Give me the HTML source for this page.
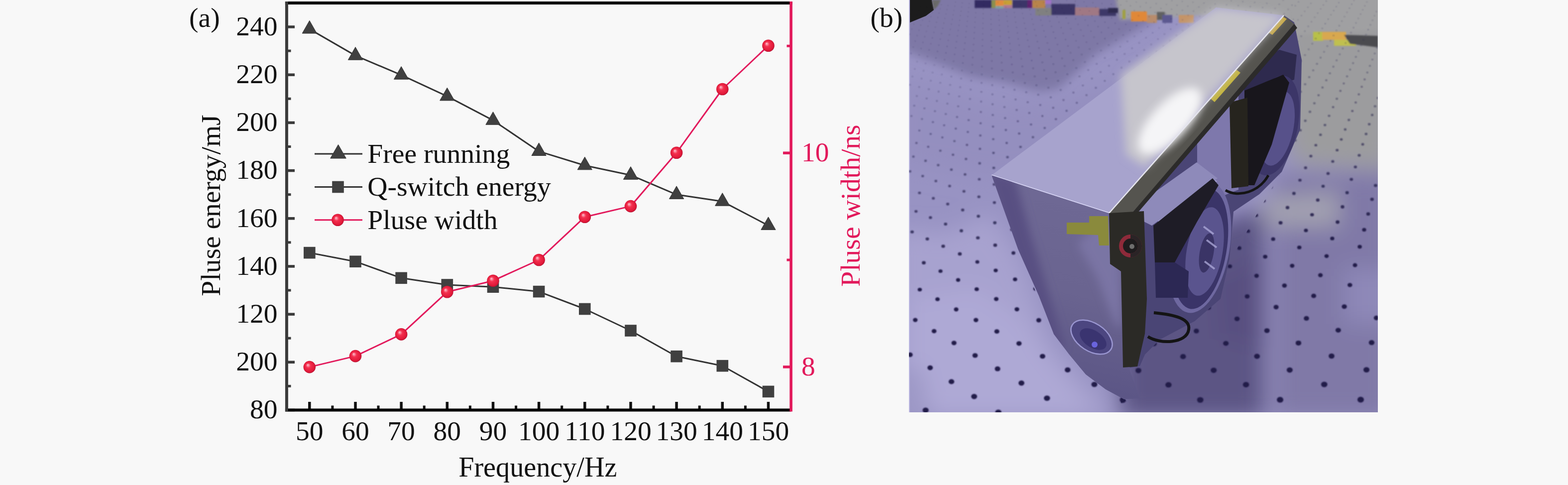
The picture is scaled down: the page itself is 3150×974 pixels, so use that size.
<!DOCTYPE html><html><head><meta charset="utf-8"><title>Figure</title><style>html,body{margin:0;padding:0;background:#f8f8f8;}body{width:3150px;height:974px;overflow:hidden;position:relative;}svg{position:absolute;left:0;top:0;}</style></head><body>
<svg width="3150" height="974" viewBox="0 0 3150 974">
<defs><radialGradient id="bg" cx="0.5" cy="0.5" r="0.55" fx="0.35" fy="0.32"><stop offset="0" stop-color="#ffc8d4"/><stop offset="0.35" stop-color="#f4304f"/><stop offset="0.8" stop-color="#e01838"/><stop offset="1" stop-color="#a01030"/></radialGradient></defs>
<rect x="0" y="0" width="3150" height="974" fill="#f8f8f8"/>
<line x1="621.8" y1="823.5" x2="621.8" y2="807" stroke="#111" stroke-width="5.5"/>
<line x1="714.0" y1="823.5" x2="714.0" y2="807" stroke="#111" stroke-width="5.5"/>
<line x1="806.1" y1="823.5" x2="806.1" y2="807" stroke="#111" stroke-width="5.5"/>
<line x1="898.3" y1="823.5" x2="898.3" y2="807" stroke="#111" stroke-width="5.5"/>
<line x1="990.5" y1="823.5" x2="990.5" y2="807" stroke="#111" stroke-width="5.5"/>
<line x1="1082.6" y1="823.5" x2="1082.6" y2="807" stroke="#111" stroke-width="5.5"/>
<line x1="1174.8" y1="823.5" x2="1174.8" y2="807" stroke="#111" stroke-width="5.5"/>
<line x1="1267.0" y1="823.5" x2="1267.0" y2="807" stroke="#111" stroke-width="5.5"/>
<line x1="1359.1" y1="823.5" x2="1359.1" y2="807" stroke="#111" stroke-width="5.5"/>
<line x1="1451.3" y1="823.5" x2="1451.3" y2="807" stroke="#111" stroke-width="5.5"/>
<line x1="1543.5" y1="823.5" x2="1543.5" y2="807" stroke="#111" stroke-width="5.5"/>
<line x1="667.9" y1="823.5" x2="667.9" y2="814.5" stroke="#111" stroke-width="5"/>
<line x1="760.0" y1="823.5" x2="760.0" y2="814.5" stroke="#111" stroke-width="5"/>
<line x1="852.2" y1="823.5" x2="852.2" y2="814.5" stroke="#111" stroke-width="5"/>
<line x1="944.4" y1="823.5" x2="944.4" y2="814.5" stroke="#111" stroke-width="5"/>
<line x1="1036.6" y1="823.5" x2="1036.6" y2="814.5" stroke="#111" stroke-width="5"/>
<line x1="1128.7" y1="823.5" x2="1128.7" y2="814.5" stroke="#111" stroke-width="5"/>
<line x1="1220.9" y1="823.5" x2="1220.9" y2="814.5" stroke="#111" stroke-width="5"/>
<line x1="1313.1" y1="823.5" x2="1313.1" y2="814.5" stroke="#111" stroke-width="5"/>
<line x1="1405.2" y1="823.5" x2="1405.2" y2="814.5" stroke="#111" stroke-width="5"/>
<line x1="1497.4" y1="823.5" x2="1497.4" y2="814.5" stroke="#111" stroke-width="5"/>
<line x1="575.9" y1="823.5" x2="592" y2="823.5" stroke="#3a3a3a" stroke-width="5.5"/>
<line x1="575.9" y1="727.3" x2="592" y2="727.3" stroke="#3a3a3a" stroke-width="5.5"/>
<line x1="575.9" y1="631.1" x2="592" y2="631.1" stroke="#3a3a3a" stroke-width="5.5"/>
<line x1="575.9" y1="534.9" x2="592" y2="534.9" stroke="#3a3a3a" stroke-width="5.5"/>
<line x1="575.9" y1="438.7" x2="592" y2="438.7" stroke="#3a3a3a" stroke-width="5.5"/>
<line x1="575.9" y1="342.6" x2="592" y2="342.6" stroke="#3a3a3a" stroke-width="5.5"/>
<line x1="575.9" y1="246.4" x2="592" y2="246.4" stroke="#3a3a3a" stroke-width="5.5"/>
<line x1="575.9" y1="150.2" x2="592" y2="150.2" stroke="#3a3a3a" stroke-width="5.5"/>
<line x1="575.9" y1="54.0" x2="592" y2="54.0" stroke="#3a3a3a" stroke-width="5.5"/>
<line x1="575.9" y1="775.4" x2="584.5" y2="775.4" stroke="#3a3a3a" stroke-width="5"/>
<line x1="575.9" y1="679.2" x2="584.5" y2="679.2" stroke="#3a3a3a" stroke-width="5"/>
<line x1="575.9" y1="583.0" x2="584.5" y2="583.0" stroke="#3a3a3a" stroke-width="5"/>
<line x1="575.9" y1="486.8" x2="584.5" y2="486.8" stroke="#3a3a3a" stroke-width="5"/>
<line x1="575.9" y1="390.7" x2="584.5" y2="390.7" stroke="#3a3a3a" stroke-width="5"/>
<line x1="575.9" y1="294.5" x2="584.5" y2="294.5" stroke="#3a3a3a" stroke-width="5"/>
<line x1="575.9" y1="198.3" x2="584.5" y2="198.3" stroke="#3a3a3a" stroke-width="5"/>
<line x1="575.9" y1="102.1" x2="584.5" y2="102.1" stroke="#3a3a3a" stroke-width="5"/>
<line x1="1589.1" y1="736.9" x2="1573" y2="736.9" stroke="#e2195b" stroke-width="5.5"/>
<line x1="1589.1" y1="307.2" x2="1573" y2="307.2" stroke="#e2195b" stroke-width="5.5"/>
<line x1="1589.1" y1="522.0" x2="1580.5" y2="522.0" stroke="#e2195b" stroke-width="5"/>
<line x1="1589.1" y1="92.3" x2="1580.5" y2="92.3" stroke="#e2195b" stroke-width="5"/>
<line x1="572.9" y1="6" x2="1592" y2="6" stroke="#000" stroke-width="6"/>
<line x1="572.9" y1="823.5" x2="1589" y2="823.5" stroke="#000" stroke-width="6"/>
<line x1="575.9" y1="3" x2="575.9" y2="826.5" stroke="#3a3a3a" stroke-width="6"/>
<line x1="1589.1" y1="3" x2="1589.1" y2="826.5" stroke="#e2195b" stroke-width="5.6"/>
<g font-family="Liberation Serif, Times New Roman, serif" font-size="55.5" fill="#111"><text x="557.6" y="840.3" text-anchor="end">80</text>
<text x="557.6" y="744.1" text-anchor="end">200</text>
<text x="557.6" y="647.9" text-anchor="end">120</text>
<text x="557.6" y="551.7" text-anchor="end">140</text>
<text x="557.6" y="455.5" text-anchor="end">160</text>
<text x="557.6" y="359.4" text-anchor="end">180</text>
<text x="557.6" y="263.2" text-anchor="end">200</text>
<text x="557.6" y="167.0" text-anchor="end">220</text>
<text x="557.6" y="70.8" text-anchor="end">240</text>
<text x="621.8" y="884" text-anchor="middle">50</text>
<text x="714.0" y="884" text-anchor="middle">60</text>
<text x="806.1" y="884" text-anchor="middle">70</text>
<text x="898.3" y="884" text-anchor="middle">80</text>
<text x="990.5" y="884" text-anchor="middle">90</text>
<text x="1082.6" y="884" text-anchor="middle">100</text>
<text x="1174.8" y="884" text-anchor="middle">110</text>
<text x="1267.0" y="884" text-anchor="middle">120</text>
<text x="1359.1" y="884" text-anchor="middle">130</text>
<text x="1451.3" y="884" text-anchor="middle">140</text>
<text x="1543.5" y="884" text-anchor="middle">150</text></g>
<g font-family="Liberation Serif, Times New Roman, serif" font-size="55.5" fill="#e2195b"><text x="1610" y="324.0">10</text><text x="1610" y="753.7">8</text></g>
<text font-family="Liberation Serif, Times New Roman, serif" font-size="56.2" fill="#111" x="1080.3" y="956.6" text-anchor="middle">Frequency/Hz</text>
<text font-family="Liberation Serif, Times New Roman, serif" font-size="55.5" fill="#111" transform="translate(441.5,412.5) rotate(-90)" text-anchor="middle">Pluse energy/mJ</text>
<text font-family="Liberation Serif, Times New Roman, serif" font-size="55.5" fill="#e2195b" transform="translate(1726.5,413) rotate(-90)" text-anchor="middle">Pluse width/ns</text>
<text font-family="Liberation Serif, Times New Roman, serif" font-size="55.5" fill="#111" x="380.1" y="53.6">(a)</text>
<text font-family="Liberation Serif, Times New Roman, serif" font-size="55.5" fill="#111" x="1748.5" y="53.5">(b)</text>
<polyline points="621.8,58.4 714.0,111.6 806.1,150.6 898.3,193.3 990.5,241.7 1082.6,303.9 1174.8,332.2 1267.0,351.7 1359.1,390.8 1451.3,404.6 1543.5,452.8" fill="none" stroke="#333" stroke-width="3" stroke-linejoin="round"/>
<polygon points="621.8,41.4 636.4,67.0 607.2,67.0" fill="#404040" stroke="#333" stroke-width="1"/><polygon points="714.0,94.6 728.6,120.2 699.4,120.2" fill="#404040" stroke="#333" stroke-width="1"/><polygon points="806.1,133.6 820.7,159.2 791.5,159.2" fill="#404040" stroke="#333" stroke-width="1"/><polygon points="898.3,176.3 912.9,201.9 883.7,201.9" fill="#404040" stroke="#333" stroke-width="1"/><polygon points="990.5,224.7 1005.1,250.3 975.9,250.3" fill="#404040" stroke="#333" stroke-width="1"/><polygon points="1082.6,286.9 1097.2,312.5 1068.0,312.5" fill="#404040" stroke="#333" stroke-width="1"/><polygon points="1174.8,315.2 1189.4,340.8 1160.2,340.8" fill="#404040" stroke="#333" stroke-width="1"/><polygon points="1267.0,334.7 1281.6,360.3 1252.4,360.3" fill="#404040" stroke="#333" stroke-width="1"/><polygon points="1359.1,373.8 1373.7,399.4 1344.5,399.4" fill="#404040" stroke="#333" stroke-width="1"/><polygon points="1451.3,387.6 1465.9,413.2 1436.7,413.2" fill="#404040" stroke="#333" stroke-width="1"/><polygon points="1543.5,435.8 1558.1,461.4 1528.9,461.4" fill="#404040" stroke="#333" stroke-width="1"/>
<polyline points="621.8,507.6 714.0,525.2 806.1,558.3 898.3,572.0 990.5,576.2 1082.6,585.6 1174.8,620.5 1267.0,664.0 1359.1,715.7 1451.3,734.7 1543.5,786.4" fill="none" stroke="#333" stroke-width="3" stroke-linejoin="round"/>
<rect x="610.0" y="495.8" width="23.6" height="23.6" fill="#404040"/><rect x="702.2" y="513.4" width="23.6" height="23.6" fill="#404040"/><rect x="794.3" y="546.5" width="23.6" height="23.6" fill="#404040"/><rect x="886.5" y="560.2" width="23.6" height="23.6" fill="#404040"/><rect x="978.7" y="564.4" width="23.6" height="23.6" fill="#404040"/><rect x="1070.8" y="573.8" width="23.6" height="23.6" fill="#404040"/><rect x="1163.0" y="608.7" width="23.6" height="23.6" fill="#404040"/><rect x="1255.2" y="652.2" width="23.6" height="23.6" fill="#404040"/><rect x="1347.3" y="703.9" width="23.6" height="23.6" fill="#404040"/><rect x="1439.5" y="722.9" width="23.6" height="23.6" fill="#404040"/><rect x="1531.7" y="774.6" width="23.6" height="23.6" fill="#404040"/>
<polyline points="621.8,737.1 714.0,715.1 806.1,671.4 898.3,586.3 990.5,563.7 1082.6,522.0 1174.8,435.7 1267.0,414.1 1359.1,306.8 1451.3,179.0 1543.5,91.7" fill="none" stroke="#e2195b" stroke-width="3" stroke-linejoin="round"/>
<circle cx="621.8" cy="737.1" r="12.3" fill="url(#bg)"/><circle cx="714.0" cy="715.1" r="12.3" fill="url(#bg)"/><circle cx="806.1" cy="671.4" r="12.3" fill="url(#bg)"/><circle cx="898.3" cy="586.3" r="12.3" fill="url(#bg)"/><circle cx="990.5" cy="563.7" r="12.3" fill="url(#bg)"/><circle cx="1082.6" cy="522.0" r="12.3" fill="url(#bg)"/><circle cx="1174.8" cy="435.7" r="12.3" fill="url(#bg)"/><circle cx="1267.0" cy="414.1" r="12.3" fill="url(#bg)"/><circle cx="1359.1" cy="306.8" r="12.3" fill="url(#bg)"/><circle cx="1451.3" cy="179.0" r="12.3" fill="url(#bg)"/><circle cx="1543.5" cy="91.7" r="12.3" fill="url(#bg)"/>
<line x1="632" y1="309" x2="728" y2="309" stroke="#333" stroke-width="3"/>
<polygon points="679.5,290.5 695.3,318.0 663.7,318.0" fill="#404040" stroke="#333" stroke-width="1"/>
<text font-family="Liberation Serif, Times New Roman, serif" font-size="55.7" fill="#111" x="738.2" y="326.5">Free running</text>
<line x1="632" y1="375.5" x2="728" y2="375.5" stroke="#333" stroke-width="3"/>
<rect x="667.2" y="363.7" width="23.6" height="23.6" fill="#404040"/>
<text font-family="Liberation Serif, Times New Roman, serif" font-size="55.7" fill="#111" x="738.2" y="393">Q-switch energy</text>
<line x1="632" y1="441.8" x2="728" y2="441.8" stroke="#e2195b" stroke-width="3"/>
<circle cx="678.5" cy="441.8" r="12.3" fill="url(#bg)"/>
<text font-family="Liberation Serif, Times New Roman, serif" font-size="55.7" fill="#111" x="738.2" y="459.5">Pluse width</text>
<defs>
<clipPath id="pc"><rect x="1826" y="0" width="942" height="828"/></clipPath>
<filter id="bl25" x="-20%" y="-20%" width="140%" height="140%"><feGaussianBlur stdDeviation="22"/></filter>
<filter id="bl10" x="-20%" y="-20%" width="140%" height="140%"><feGaussianBlur stdDeviation="9"/></filter>
<filter id="bl4" x="-20%" y="-20%" width="140%" height="140%"><feGaussianBlur stdDeviation="3.5"/></filter>
<filter id="hb" x="-50%" y="-50%" width="200%" height="200%"><feGaussianBlur stdDeviation="1.1"/></filter><filter id="bl2" x="-20%" y="-20%" width="140%" height="140%"><feGaussianBlur stdDeviation="1.6"/></filter>
<linearGradient id="lidg" gradientUnits="userSpaceOnUse" x1="2180" y1="170" x2="2303" y2="333"><stop offset="0" stop-color="#a9a5d0"/><stop offset="0.35" stop-color="#aaa7cc"/><stop offset="0.5" stop-color="#c4c3cc"/><stop offset="0.75" stop-color="#d2d2d4"/><stop offset="1" stop-color="#bdbdc2"/></linearGradient>
<linearGradient id="frontg" gradientUnits="userSpaceOnUse" x1="2200" y1="420" x2="2120" y2="760"><stop offset="0" stop-color="#6e6894"/><stop offset="0.5" stop-color="#6a6490"/><stop offset="1" stop-color="#5c5686"/></linearGradient>
<radialGradient id="fanring" cx="0.5" cy="0.5" r="0.5"><stop offset="0.55" stop-color="#6a64a0"/><stop offset="0.8" stop-color="#3b3568"/><stop offset="1" stop-color="#2b2650"/></radialGradient>
</defs>
<g clip-path="url(#pc)">
<rect x="1826" y="0" width="942" height="828" fill="#9893c3"/>
<g filter="url(#bl10)">
<polygon points="1800,-20 2320,-20 2320,40 2200,110 2126,180 2090,186 2014,164 1951,154 1889,129 1800,95" fill="#7e78a6"/>
</g>
<g filter="url(#bl25)">
<polygon points="1800,160 1890,175 1990,210 2120,200 2240,170 2300,150 2320,330 2000,360 1800,330" fill="#948fbf"/>
<polygon points="1800,460 1900,470 1990,430 2050,520 2110,690 2240,840 1800,840" fill="#a7a2cf"/>
<polygon points="1826,600 1960,580 2050,640 2120,740 2200,840 1826,840" fill="#aea9d5"/>
<polygon points="1800,740 1850,740 1870,840 1800,840" fill="#9d98c6"/>
<polygon points="2580,-20 2800,-20 2800,340 2600,330 2570,200" fill="#9c9c9e"/>
<polygon points="2560,350 2800,345 2800,840 2560,840" fill="#8079a7"/>
<polygon points="2540,395 2690,385 2690,455 2540,455" fill="#a2a0b0"/>
<polygon points="2700,540 2800,540 2800,650 2700,650" fill="#8e88b8"/>
<polygon points="2250,520 2470,440 2540,420 2540,840 2250,840" fill="#5c5484"/>
<polygon points="2440,560 2540,520 2540,700 2450,680" fill="#585080"/>
</g>
<polygon points="2240,-10 2780,-10 2780,60 2600,70 2450,30 2250,40" fill="#a0a0a2" filter="url(#bl4)"/>
<g filter="url(#bl2)">
<rect x="1958" y="0" width="34" height="16" fill="#312c62"/>
<rect x="1992" y="0" width="8" height="16" fill="#8a9050"/>
<rect x="2000" y="0" width="16" height="12" fill="#e08a3c"/>
<rect x="2000" y="12" width="16" height="5" fill="#80a0a0"/>
<rect x="2016" y="0" width="17" height="12" fill="#c8a034"/>
<rect x="2016" y="10" width="17" height="6" fill="#b07890"/>
<rect x="2034" y="0" width="30" height="16" fill="#3a3668"/>
<rect x="2064" y="0" width="10" height="16" fill="#602070"/>
<rect x="2074" y="0" width="26" height="16" fill="#b8844c"/>
<rect x="2100" y="0" width="12" height="8" fill="#a070c8"/>
<rect x="2080" y="16" width="32" height="15" fill="#808080"/>
<rect x="2112" y="8" width="48" height="22" fill="#3a3466"/>
<rect x="2160" y="15" width="48" height="16" fill="#a07884"/>
<rect x="2208" y="18" width="34" height="14" fill="#3c3868"/>
<rect x="2226" y="16" width="20" height="10" fill="#2e2a50"/>
<rect x="2255" y="20" width="6" height="18" fill="#a0a040"/>
<rect x="2272" y="23" width="32" height="20" fill="#e08838"/>
<rect x="2304" y="30" width="20" height="16" fill="#b88c6c"/>
<rect x="2324" y="24" width="16" height="16" fill="#606060"/>
<rect x="2335" y="30" width="20" height="16" fill="#5c5890"/>
<rect x="2368" y="30" width="30" height="16" fill="#c49468"/>
<rect x="2638" y="64" width="20" height="18" fill="#b8c048"/>
<rect x="2656" y="64" width="48" height="16" fill="#d8a850"/>
<rect x="2680" y="80" width="44" height="12" fill="#c0c050"/>
<polygon points="2700,70 2768,72 2768,95 2712,88" fill="#4c4c50"/>
</g>
<polygon points="1826,0 1872,0 1876,20 1860,32 1826,46" fill="#1c1c1c"/>
<polygon points="1872,0 1890,0 1884,12 1876,20" fill="#6a6a6a" filter="url(#bl2)"/>
<rect x="1826" y="0" width="2" height="828" fill="#b8b4e0"/><clipPath id="hcl"><polygon points="1826,0 2600,0 2600,40 2443,15 1992,352 2045,500 2120,680 2290,828 1826,828"/></clipPath>
<clipPath id="hcr"><polygon points="2600,0 2768,0 2768,828 2250,828 2262,700 2450,560 2600,300 2600,40"/></clipPath>
<g clip-path="url(#hcl)" filter="url(#hb)"><ellipse cx="1833.3" cy="19.9" rx="1.0" ry="0.9" fill="#231e4a" fill-opacity="0.18"/><ellipse cx="1829.7" cy="28.4" rx="1.0" ry="0.9" fill="#231e4a" fill-opacity="0.18"/><ellipse cx="1849.4" cy="13.2" rx="1.0" ry="0.8" fill="#231e4a" fill-opacity="0.18"/><ellipse cx="1846.2" cy="21.4" rx="1.0" ry="0.9" fill="#231e4a" fill-opacity="0.18"/><ellipse cx="1842.9" cy="30.0" rx="1.0" ry="0.9" fill="#231e4a" fill-opacity="0.18"/><ellipse cx="1839.4" cy="39.1" rx="1.1" ry="0.9" fill="#231e4a" fill-opacity="0.18"/><ellipse cx="1835.8" cy="48.6" rx="1.1" ry="1.0" fill="#231e4a" fill-opacity="0.18"/><ellipse cx="1831.9" cy="58.5" rx="1.1" ry="1.0" fill="#231e4a" fill-opacity="0.18"/><ellipse cx="1827.9" cy="69.1" rx="1.2" ry="1.0" fill="#231e4a" fill-opacity="0.18"/><ellipse cx="1862.2" cy="14.7" rx="1.0" ry="0.8" fill="#231e4a" fill-opacity="0.18"/><ellipse cx="1859.4" cy="23.0" rx="1.0" ry="0.9" fill="#231e4a" fill-opacity="0.18"/><ellipse cx="1856.3" cy="31.7" rx="1.0" ry="0.9" fill="#231e4a" fill-opacity="0.18"/><ellipse cx="1853.2" cy="40.9" rx="1.1" ry="0.9" fill="#231e4a" fill-opacity="0.18"/><ellipse cx="1849.8" cy="50.5" rx="1.1" ry="1.0" fill="#231e4a" fill-opacity="0.18"/><ellipse cx="1846.3" cy="60.7" rx="1.2" ry="1.0" fill="#231e4a" fill-opacity="0.18"/><ellipse cx="1842.6" cy="71.4" rx="1.2" ry="1.1" fill="#231e4a" fill-opacity="0.18"/><ellipse cx="1838.7" cy="82.7" rx="1.3" ry="1.1" fill="#231e4a" fill-opacity="0.18"/><ellipse cx="1834.6" cy="94.6" rx="1.3" ry="1.2" fill="#231e4a" fill-opacity="0.18"/><ellipse cx="1830.2" cy="107.2" rx="1.4" ry="1.2" fill="#231e4a" fill-opacity="0.18"/><ellipse cx="1877.9" cy="8.1" rx="1.0" ry="0.8" fill="#231e4a" fill-opacity="0.18"/><ellipse cx="1875.4" cy="16.2" rx="1.0" ry="0.9" fill="#231e4a" fill-opacity="0.18"/><ellipse cx="1872.8" cy="24.6" rx="1.0" ry="0.9" fill="#231e4a" fill-opacity="0.18"/><ellipse cx="1870.1" cy="33.5" rx="1.1" ry="0.9" fill="#231e4a" fill-opacity="0.18"/><ellipse cx="1867.2" cy="42.8" rx="1.1" ry="1.0" fill="#231e4a" fill-opacity="0.18"/><ellipse cx="1864.2" cy="52.6" rx="1.1" ry="1.0" fill="#231e4a" fill-opacity="0.18"/><ellipse cx="1861.0" cy="62.9" rx="1.2" ry="1.0" fill="#231e4a" fill-opacity="0.18"/><ellipse cx="1857.7" cy="73.7" rx="1.2" ry="1.1" fill="#231e4a" fill-opacity="0.18"/><ellipse cx="1854.1" cy="85.2" rx="1.3" ry="1.1" fill="#231e4a" fill-opacity="0.18"/><ellipse cx="1850.4" cy="97.4" rx="1.3" ry="1.2" fill="#231e4a" fill-opacity="0.18"/><ellipse cx="1846.4" cy="110.2" rx="1.4" ry="1.2" fill="#231e4a" fill-opacity="0.18"/><ellipse cx="1842.3" cy="123.9" rx="1.5" ry="1.3" fill="#231e4a" fill-opacity="0.19"/><ellipse cx="1837.8" cy="138.4" rx="1.5" ry="1.3" fill="#231e4a" fill-opacity="0.21"/><ellipse cx="1833.0" cy="153.8" rx="1.6" ry="1.4" fill="#231e4a" fill-opacity="0.23"/><ellipse cx="1828.0" cy="170.3" rx="1.7" ry="1.5" fill="#231e4a" fill-opacity="0.25"/><ellipse cx="1891.0" cy="9.5" rx="1.0" ry="0.8" fill="#231e4a" fill-opacity="0.18"/><ellipse cx="1888.8" cy="17.7" rx="1.0" ry="0.9" fill="#231e4a" fill-opacity="0.18"/><ellipse cx="1886.5" cy="26.2" rx="1.0" ry="0.9" fill="#231e4a" fill-opacity="0.18"/><ellipse cx="1884.1" cy="35.2" rx="1.1" ry="0.9" fill="#231e4a" fill-opacity="0.18"/><ellipse cx="1881.5" cy="44.7" rx="1.1" ry="1.0" fill="#231e4a" fill-opacity="0.18"/><ellipse cx="1878.9" cy="54.6" rx="1.2" ry="1.0" fill="#231e4a" fill-opacity="0.18"/><ellipse cx="1876.1" cy="65.1" rx="1.2" ry="1.1" fill="#231e4a" fill-opacity="0.18"/><ellipse cx="1873.1" cy="76.2" rx="1.3" ry="1.1" fill="#231e4a" fill-opacity="0.18"/><ellipse cx="1870.0" cy="87.9" rx="1.3" ry="1.1" fill="#231e4a" fill-opacity="0.18"/><ellipse cx="1866.6" cy="100.2" rx="1.4" ry="1.2" fill="#231e4a" fill-opacity="0.18"/><ellipse cx="1863.1" cy="113.3" rx="1.4" ry="1.3" fill="#231e4a" fill-opacity="0.18"/><ellipse cx="1859.4" cy="127.3" rx="1.5" ry="1.3" fill="#231e4a" fill-opacity="0.20"/><ellipse cx="1855.4" cy="142.1" rx="1.6" ry="1.4" fill="#231e4a" fill-opacity="0.22"/><ellipse cx="1851.2" cy="157.9" rx="1.6" ry="1.4" fill="#231e4a" fill-opacity="0.24"/><ellipse cx="1846.6" cy="174.7" rx="1.7" ry="1.5" fill="#231e4a" fill-opacity="0.27"/><ellipse cx="1841.8" cy="192.8" rx="1.8" ry="1.6" fill="#231e4a" fill-opacity="0.29"/><ellipse cx="1836.6" cy="212.2" rx="1.9" ry="1.7" fill="#231e4a" fill-opacity="0.32"/><ellipse cx="1831.0" cy="233.0" rx="2.0" ry="1.8" fill="#231e4a" fill-opacity="0.36"/><ellipse cx="1904.4" cy="10.9" rx="1.0" ry="0.9" fill="#231e4a" fill-opacity="0.18"/><ellipse cx="1902.5" cy="19.2" rx="1.0" ry="0.9" fill="#231e4a" fill-opacity="0.18"/><ellipse cx="1900.5" cy="27.9" rx="1.1" ry="0.9" fill="#231e4a" fill-opacity="0.18"/><ellipse cx="1898.4" cy="37.0" rx="1.1" ry="1.0" fill="#231e4a" fill-opacity="0.18"/><ellipse cx="1896.2" cy="46.6" rx="1.1" ry="1.0" fill="#231e4a" fill-opacity="0.18"/><ellipse cx="1893.9" cy="56.7" rx="1.2" ry="1.0" fill="#231e4a" fill-opacity="0.18"/><ellipse cx="1891.4" cy="67.4" rx="1.2" ry="1.1" fill="#231e4a" fill-opacity="0.18"/><ellipse cx="1888.9" cy="78.7" rx="1.3" ry="1.1" fill="#231e4a" fill-opacity="0.18"/><ellipse cx="1886.1" cy="90.6" rx="1.3" ry="1.2" fill="#231e4a" fill-opacity="0.18"/><ellipse cx="1883.3" cy="103.2" rx="1.4" ry="1.2" fill="#231e4a" fill-opacity="0.18"/><ellipse cx="1880.2" cy="116.5" rx="1.5" ry="1.3" fill="#231e4a" fill-opacity="0.18"/><ellipse cx="1877.0" cy="130.7" rx="1.5" ry="1.3" fill="#231e4a" fill-opacity="0.20"/><ellipse cx="1873.5" cy="145.8" rx="1.6" ry="1.4" fill="#231e4a" fill-opacity="0.23"/><ellipse cx="1869.8" cy="162.0" rx="1.7" ry="1.5" fill="#231e4a" fill-opacity="0.25"/><ellipse cx="1865.9" cy="179.2" rx="1.8" ry="1.6" fill="#231e4a" fill-opacity="0.28"/><ellipse cx="1861.6" cy="197.7" rx="1.9" ry="1.6" fill="#231e4a" fill-opacity="0.31"/><ellipse cx="1857.1" cy="217.6" rx="2.0" ry="1.7" fill="#231e4a" fill-opacity="0.34"/><ellipse cx="1852.2" cy="239.0" rx="2.1" ry="1.8" fill="#231e4a" fill-opacity="0.37"/><ellipse cx="1846.9" cy="262.1" rx="2.2" ry="1.9" fill="#231e4a" fill-opacity="0.41"/><ellipse cx="1841.1" cy="287.2" rx="2.4" ry="2.1" fill="#231e4a" fill-opacity="0.45"/><ellipse cx="1834.9" cy="314.5" rx="2.5" ry="2.2" fill="#231e4a" fill-opacity="0.50"/><ellipse cx="1828.1" cy="344.2" rx="2.7" ry="2.4" fill="#231e4a" fill-opacity="0.55"/><ellipse cx="1919.5" cy="4.3" rx="1.0" ry="0.8" fill="#231e4a" fill-opacity="0.18"/><ellipse cx="1918.0" cy="12.4" rx="1.0" ry="0.9" fill="#231e4a" fill-opacity="0.18"/><ellipse cx="1916.4" cy="20.8" rx="1.0" ry="0.9" fill="#231e4a" fill-opacity="0.18"/><ellipse cx="1914.8" cy="29.6" rx="1.1" ry="0.9" fill="#231e4a" fill-opacity="0.18"/><ellipse cx="1913.0" cy="38.9" rx="1.1" ry="1.0" fill="#231e4a" fill-opacity="0.18"/><ellipse cx="1911.2" cy="48.6" rx="1.2" ry="1.0" fill="#231e4a" fill-opacity="0.18"/><ellipse cx="1909.2" cy="58.9" rx="1.2" ry="1.0" fill="#231e4a" fill-opacity="0.18"/><ellipse cx="1907.2" cy="69.8" rx="1.2" ry="1.1" fill="#231e4a" fill-opacity="0.18"/><ellipse cx="1905.0" cy="81.2" rx="1.3" ry="1.1" fill="#231e4a" fill-opacity="0.18"/><ellipse cx="1902.7" cy="93.3" rx="1.4" ry="1.2" fill="#231e4a" fill-opacity="0.18"/><ellipse cx="1900.3" cy="106.2" rx="1.4" ry="1.2" fill="#231e4a" fill-opacity="0.18"/><ellipse cx="1897.7" cy="119.8" rx="1.5" ry="1.3" fill="#231e4a" fill-opacity="0.19"/><ellipse cx="1895.0" cy="134.3" rx="1.6" ry="1.4" fill="#231e4a" fill-opacity="0.21"/><ellipse cx="1892.1" cy="149.7" rx="1.6" ry="1.4" fill="#231e4a" fill-opacity="0.24"/><ellipse cx="1889.0" cy="166.2" rx="1.7" ry="1.5" fill="#231e4a" fill-opacity="0.26"/><ellipse cx="1885.6" cy="183.9" rx="1.8" ry="1.6" fill="#231e4a" fill-opacity="0.29"/><ellipse cx="1882.1" cy="202.8" rx="1.9" ry="1.7" fill="#231e4a" fill-opacity="0.32"/><ellipse cx="1878.2" cy="223.2" rx="2.0" ry="1.8" fill="#231e4a" fill-opacity="0.35"/><ellipse cx="1874.1" cy="245.2" rx="2.1" ry="1.9" fill="#231e4a" fill-opacity="0.39"/><ellipse cx="1869.6" cy="269.0" rx="2.3" ry="2.0" fill="#231e4a" fill-opacity="0.43"/><ellipse cx="1864.7" cy="294.8" rx="2.4" ry="2.1" fill="#231e4a" fill-opacity="0.47"/><ellipse cx="1859.4" cy="322.9" rx="2.6" ry="2.3" fill="#231e4a" fill-opacity="0.52"/><ellipse cx="1853.6" cy="353.6" rx="2.8" ry="2.4" fill="#231e4a" fill-opacity="0.57"/><ellipse cx="1847.2" cy="387.3" rx="3.0" ry="2.6" fill="#231e4a" fill-opacity="0.63"/><ellipse cx="1840.2" cy="424.5" rx="3.2" ry="2.8" fill="#231e4a" fill-opacity="0.70"/><ellipse cx="1832.4" cy="465.8" rx="3.5" ry="3.0" fill="#231e4a" fill-opacity="0.78"/><ellipse cx="1933.1" cy="5.7" rx="1.0" ry="0.9" fill="#231e4a" fill-opacity="0.18"/><ellipse cx="1931.9" cy="13.9" rx="1.0" ry="0.9" fill="#231e4a" fill-opacity="0.18"/><ellipse cx="1930.7" cy="22.4" rx="1.0" ry="0.9" fill="#231e4a" fill-opacity="0.18"/><ellipse cx="1929.3" cy="31.3" rx="1.1" ry="0.9" fill="#231e4a" fill-opacity="0.18"/><ellipse cx="1927.9" cy="40.8" rx="1.1" ry="1.0" fill="#231e4a" fill-opacity="0.18"/><ellipse cx="1926.5" cy="50.7" rx="1.2" ry="1.0" fill="#231e4a" fill-opacity="0.18"/><ellipse cx="1924.9" cy="61.1" rx="1.2" ry="1.1" fill="#231e4a" fill-opacity="0.18"/><ellipse cx="1923.3" cy="72.1" rx="1.3" ry="1.1" fill="#231e4a" fill-opacity="0.18"/><ellipse cx="1921.6" cy="83.8" rx="1.3" ry="1.2" fill="#231e4a" fill-opacity="0.18"/><ellipse cx="1919.7" cy="96.1" rx="1.4" ry="1.2" fill="#231e4a" fill-opacity="0.18"/><ellipse cx="1917.8" cy="109.2" rx="1.4" ry="1.3" fill="#231e4a" fill-opacity="0.18"/><ellipse cx="1915.7" cy="123.1" rx="1.5" ry="1.3" fill="#231e4a" fill-opacity="0.20"/><ellipse cx="1913.5" cy="137.9" rx="1.6" ry="1.4" fill="#231e4a" fill-opacity="0.22"/><ellipse cx="1911.2" cy="153.7" rx="1.7" ry="1.5" fill="#231e4a" fill-opacity="0.25"/><ellipse cx="1908.7" cy="170.6" rx="1.8" ry="1.5" fill="#231e4a" fill-opacity="0.27"/><ellipse cx="1906.0" cy="188.7" rx="1.9" ry="1.6" fill="#231e4a" fill-opacity="0.30"/><ellipse cx="1903.1" cy="208.1" rx="2.0" ry="1.7" fill="#231e4a" fill-opacity="0.33"/><ellipse cx="1900.0" cy="229.0" rx="2.1" ry="1.8" fill="#231e4a" fill-opacity="0.37"/><ellipse cx="1896.7" cy="251.6" rx="2.2" ry="1.9" fill="#231e4a" fill-opacity="0.40"/><ellipse cx="1893.1" cy="276.1" rx="2.3" ry="2.0" fill="#231e4a" fill-opacity="0.44"/><ellipse cx="1889.1" cy="302.6" rx="2.5" ry="2.2" fill="#231e4a" fill-opacity="0.49"/><ellipse cx="1884.8" cy="331.6" rx="2.7" ry="2.3" fill="#231e4a" fill-opacity="0.54"/><ellipse cx="1880.1" cy="363.4" rx="2.8" ry="2.5" fill="#231e4a" fill-opacity="0.60"/><ellipse cx="1875.0" cy="398.3" rx="3.1" ry="2.7" fill="#231e4a" fill-opacity="0.66"/><ellipse cx="1869.2" cy="436.9" rx="3.3" ry="2.9" fill="#231e4a" fill-opacity="0.73"/><ellipse cx="1862.9" cy="479.8" rx="3.6" ry="3.1" fill="#231e4a" fill-opacity="0.82"/><ellipse cx="1855.8" cy="527.7" rx="3.9" ry="3.4" fill="#231e4a" fill-opacity="0.91"/><ellipse cx="1847.8" cy="581.6" rx="4.3" ry="3.7" fill="#231e4a" fill-opacity="1.00"/><ellipse cx="1838.7" cy="642.6" rx="4.7" ry="4.1" fill="#231e4a" fill-opacity="1.00"/><ellipse cx="1828.4" cy="712.4" rx="5.2" ry="4.6" fill="#231e4a" fill-opacity="1.00"/><ellipse cx="1947.0" cy="7.1" rx="1.0" ry="0.9" fill="#231e4a" fill-opacity="0.18"/><ellipse cx="1946.1" cy="15.4" rx="1.0" ry="0.9" fill="#231e4a" fill-opacity="0.18"/><ellipse cx="1945.2" cy="24.0" rx="1.1" ry="0.9" fill="#231e4a" fill-opacity="0.18"/><ellipse cx="1944.2" cy="33.1" rx="1.1" ry="1.0" fill="#231e4a" fill-opacity="0.18"/><ellipse cx="1943.2" cy="42.7" rx="1.1" ry="1.0" fill="#231e4a" fill-opacity="0.18"/><ellipse cx="1942.1" cy="52.8" rx="1.2" ry="1.0" fill="#231e4a" fill-opacity="0.18"/><ellipse cx="1941.0" cy="63.4" rx="1.2" ry="1.1" fill="#231e4a" fill-opacity="0.18"/><ellipse cx="1939.8" cy="74.6" rx="1.3" ry="1.1" fill="#231e4a" fill-opacity="0.18"/><ellipse cx="1938.5" cy="86.5" rx="1.3" ry="1.2" fill="#231e4a" fill-opacity="0.18"/><ellipse cx="1937.2" cy="99.0" rx="1.4" ry="1.2" fill="#231e4a" fill-opacity="0.18"/><ellipse cx="1935.7" cy="112.4" rx="1.5" ry="1.3" fill="#231e4a" fill-opacity="0.19"/><ellipse cx="1934.2" cy="126.6" rx="1.5" ry="1.4" fill="#231e4a" fill-opacity="0.21"/><ellipse cx="1932.6" cy="141.7" rx="1.6" ry="1.4" fill="#231e4a" fill-opacity="0.23"/><ellipse cx="1930.9" cy="157.8" rx="1.7" ry="1.5" fill="#231e4a" fill-opacity="0.26"/><ellipse cx="1929.0" cy="175.1" rx="1.8" ry="1.6" fill="#231e4a" fill-opacity="0.28"/><ellipse cx="1927.0" cy="193.6" rx="1.9" ry="1.7" fill="#231e4a" fill-opacity="0.31"/><ellipse cx="1924.9" cy="213.5" rx="2.0" ry="1.8" fill="#231e4a" fill-opacity="0.35"/><ellipse cx="1922.6" cy="235.0" rx="2.1" ry="1.9" fill="#231e4a" fill-opacity="0.38"/><ellipse cx="1920.1" cy="258.2" rx="2.2" ry="2.0" fill="#231e4a" fill-opacity="0.42"/><ellipse cx="1917.4" cy="283.4" rx="2.4" ry="2.1" fill="#231e4a" fill-opacity="0.46"/><ellipse cx="1914.5" cy="310.8" rx="2.6" ry="2.2" fill="#231e4a" fill-opacity="0.51"/><ellipse cx="1911.3" cy="340.7" rx="2.7" ry="2.4" fill="#231e4a" fill-opacity="0.56"/><ellipse cx="1907.7" cy="373.6" rx="2.9" ry="2.6" fill="#231e4a" fill-opacity="0.62"/><ellipse cx="1903.9" cy="409.8" rx="3.2" ry="2.8" fill="#231e4a" fill-opacity="0.69"/><ellipse cx="1899.6" cy="449.9" rx="3.4" ry="3.0" fill="#231e4a" fill-opacity="0.77"/><ellipse cx="1894.8" cy="494.5" rx="3.7" ry="3.3" fill="#231e4a" fill-opacity="0.86"/><ellipse cx="1889.4" cy="544.5" rx="4.1" ry="3.6" fill="#231e4a" fill-opacity="0.96"/><ellipse cx="1883.4" cy="600.9" rx="4.5" ry="3.9" fill="#231e4a" fill-opacity="1.00"/><ellipse cx="1876.5" cy="665.0" rx="4.9" ry="4.3" fill="#231e4a" fill-opacity="1.00"/><ellipse cx="1868.6" cy="738.6" rx="5.5" ry="4.8" fill="#231e4a" fill-opacity="1.00"/><ellipse cx="1859.5" cy="823.8" rx="6.1" ry="5.4" fill="#231e4a" fill-opacity="1.00"/><ellipse cx="1961.7" cy="0.6" rx="1.0" ry="0.8" fill="#231e4a" fill-opacity="0.18"/><ellipse cx="1961.2" cy="8.5" rx="1.0" ry="0.9" fill="#231e4a" fill-opacity="0.18"/><ellipse cx="1960.6" cy="16.9" rx="1.0" ry="0.9" fill="#231e4a" fill-opacity="0.18"/><ellipse cx="1960.0" cy="25.7" rx="1.1" ry="0.9" fill="#231e4a" fill-opacity="0.18"/><ellipse cx="1959.4" cy="34.9" rx="1.1" ry="1.0" fill="#231e4a" fill-opacity="0.18"/><ellipse cx="1958.8" cy="44.6" rx="1.2" ry="1.0" fill="#231e4a" fill-opacity="0.18"/><ellipse cx="1958.1" cy="54.9" rx="1.2" ry="1.1" fill="#231e4a" fill-opacity="0.18"/><ellipse cx="1957.4" cy="65.7" rx="1.3" ry="1.1" fill="#231e4a" fill-opacity="0.18"/><ellipse cx="1956.7" cy="77.1" rx="1.3" ry="1.2" fill="#231e4a" fill-opacity="0.18"/><ellipse cx="1955.9" cy="89.2" rx="1.4" ry="1.2" fill="#231e4a" fill-opacity="0.18"/><ellipse cx="1955.0" cy="102.0" rx="1.4" ry="1.3" fill="#231e4a" fill-opacity="0.18"/><ellipse cx="1954.1" cy="115.6" rx="1.5" ry="1.3" fill="#231e4a" fill-opacity="0.20"/><ellipse cx="1953.2" cy="130.1" rx="1.6" ry="1.4" fill="#231e4a" fill-opacity="0.22"/><ellipse cx="1952.2" cy="145.6" rx="1.7" ry="1.5" fill="#231e4a" fill-opacity="0.24"/><ellipse cx="1951.1" cy="162.1" rx="1.7" ry="1.5" fill="#231e4a" fill-opacity="0.27"/><ellipse cx="1949.9" cy="179.8" rx="1.8" ry="1.6" fill="#231e4a" fill-opacity="0.30"/><ellipse cx="1948.7" cy="198.7" rx="1.9" ry="1.7" fill="#231e4a" fill-opacity="0.33"/><ellipse cx="1947.3" cy="219.2" rx="2.0" ry="1.8" fill="#231e4a" fill-opacity="0.36"/><ellipse cx="1945.9" cy="241.2" rx="2.2" ry="1.9" fill="#231e4a" fill-opacity="0.40"/><ellipse cx="1944.3" cy="265.1" rx="2.3" ry="2.0" fill="#231e4a" fill-opacity="0.44"/><ellipse cx="1942.6" cy="291.0" rx="2.5" ry="2.2" fill="#231e4a" fill-opacity="0.48"/><ellipse cx="1940.7" cy="319.3" rx="2.6" ry="2.3" fill="#231e4a" fill-opacity="0.53"/><ellipse cx="1938.7" cy="350.2" rx="2.8" ry="2.5" fill="#231e4a" fill-opacity="0.59"/><ellipse cx="1936.5" cy="384.2" rx="3.0" ry="2.7" fill="#231e4a" fill-opacity="0.65"/><ellipse cx="1934.0" cy="421.7" rx="3.3" ry="2.9" fill="#231e4a" fill-opacity="0.72"/><ellipse cx="1931.3" cy="463.4" rx="3.5" ry="3.1" fill="#231e4a" fill-opacity="0.80"/><ellipse cx="1928.2" cy="509.9" rx="3.9" ry="3.4" fill="#231e4a" fill-opacity="0.90"/><ellipse cx="1924.8" cy="562.2" rx="4.2" ry="3.7" fill="#231e4a" fill-opacity="1.00"/><ellipse cx="1920.9" cy="621.3" rx="4.6" ry="4.1" fill="#231e4a" fill-opacity="1.00"/><ellipse cx="1916.5" cy="688.8" rx="5.1" ry="4.5" fill="#231e4a" fill-opacity="1.00"/><ellipse cx="1911.4" cy="766.5" rx="5.7" ry="5.0" fill="#231e4a" fill-opacity="1.00"/><ellipse cx="1975.8" cy="1.9" rx="1.0" ry="0.9" fill="#231e4a" fill-opacity="0.18"/><ellipse cx="1975.6" cy="10.0" rx="1.0" ry="0.9" fill="#231e4a" fill-opacity="0.18"/><ellipse cx="1975.4" cy="18.5" rx="1.1" ry="0.9" fill="#231e4a" fill-opacity="0.18"/><ellipse cx="1975.2" cy="27.4" rx="1.1" ry="1.0" fill="#231e4a" fill-opacity="0.18"/><ellipse cx="1975.0" cy="36.8" rx="1.1" ry="1.0" fill="#231e4a" fill-opacity="0.18"/><ellipse cx="1974.7" cy="46.7" rx="1.2" ry="1.0" fill="#231e4a" fill-opacity="0.18"/><ellipse cx="1974.5" cy="57.1" rx="1.2" ry="1.1" fill="#231e4a" fill-opacity="0.18"/><ellipse cx="1974.2" cy="68.1" rx="1.3" ry="1.1" fill="#231e4a" fill-opacity="0.18"/><ellipse cx="1973.9" cy="79.7" rx="1.3" ry="1.2" fill="#231e4a" fill-opacity="0.18"/><ellipse cx="1973.6" cy="92.0" rx="1.4" ry="1.2" fill="#231e4a" fill-opacity="0.18"/><ellipse cx="1973.3" cy="105.1" rx="1.5" ry="1.3" fill="#231e4a" fill-opacity="0.19"/><ellipse cx="1973.0" cy="119.0" rx="1.5" ry="1.3" fill="#231e4a" fill-opacity="0.21"/><ellipse cx="1972.7" cy="133.8" rx="1.6" ry="1.4" fill="#231e4a" fill-opacity="0.23"/><ellipse cx="1972.3" cy="149.5" rx="1.7" ry="1.5" fill="#231e4a" fill-opacity="0.25"/><ellipse cx="1971.9" cy="166.4" rx="1.8" ry="1.6" fill="#231e4a" fill-opacity="0.28"/><ellipse cx="1971.5" cy="184.5" rx="1.9" ry="1.6" fill="#231e4a" fill-opacity="0.31"/><ellipse cx="1971.0" cy="204.0" rx="2.0" ry="1.7" fill="#231e4a" fill-opacity="0.34"/><ellipse cx="1970.5" cy="224.9" rx="2.1" ry="1.8" fill="#231e4a" fill-opacity="0.37"/><ellipse cx="1970.0" cy="247.6" rx="2.2" ry="2.0" fill="#231e4a" fill-opacity="0.41"/><ellipse cx="1969.4" cy="272.2" rx="2.4" ry="2.1" fill="#231e4a" fill-opacity="0.46"/><ellipse cx="1968.7" cy="298.9" rx="2.5" ry="2.2" fill="#231e4a" fill-opacity="0.50"/><ellipse cx="1968.1" cy="328.0" rx="2.7" ry="2.4" fill="#231e4a" fill-opacity="0.55"/><ellipse cx="1967.3" cy="360.0" rx="2.9" ry="2.5" fill="#231e4a" fill-opacity="0.61"/><ellipse cx="1966.5" cy="395.2" rx="3.1" ry="2.7" fill="#231e4a" fill-opacity="0.68"/><ellipse cx="1965.5" cy="434.2" rx="3.4" ry="3.0" fill="#231e4a" fill-opacity="0.76"/><ellipse cx="1964.5" cy="477.6" rx="3.7" ry="3.2" fill="#231e4a" fill-opacity="0.84"/><ellipse cx="1963.4" cy="526.1" rx="4.0" ry="3.5" fill="#231e4a" fill-opacity="0.94"/><ellipse cx="1962.1" cy="580.8" rx="4.4" ry="3.8" fill="#231e4a" fill-opacity="1.00"/><ellipse cx="1960.6" cy="642.8" rx="4.8" ry="4.2" fill="#231e4a" fill-opacity="1.00"/><ellipse cx="1958.9" cy="713.9" rx="5.4" ry="4.7" fill="#231e4a" fill-opacity="1.00"/><ellipse cx="1957.0" cy="796.2" rx="6.0" ry="5.3" fill="#231e4a" fill-opacity="1.00"/><ellipse cx="1990.2" cy="3.3" rx="1.0" ry="0.9" fill="#231e4a" fill-opacity="0.18"/><ellipse cx="1990.3" cy="11.5" rx="1.0" ry="0.9" fill="#231e4a" fill-opacity="0.18"/><ellipse cx="1990.5" cy="20.1" rx="1.1" ry="0.9" fill="#231e4a" fill-opacity="0.18"/><ellipse cx="1990.7" cy="29.1" rx="1.1" ry="1.0" fill="#231e4a" fill-opacity="0.18"/><ellipse cx="1990.8" cy="38.7" rx="1.2" ry="1.0" fill="#231e4a" fill-opacity="0.18"/><ellipse cx="1991.0" cy="48.7" rx="1.2" ry="1.1" fill="#231e4a" fill-opacity="0.18"/><ellipse cx="1991.2" cy="59.3" rx="1.3" ry="1.1" fill="#231e4a" fill-opacity="0.18"/><ellipse cx="1991.4" cy="70.5" rx="1.3" ry="1.1" fill="#231e4a" fill-opacity="0.18"/><ellipse cx="1991.7" cy="82.3" rx="1.4" ry="1.2" fill="#231e4a" fill-opacity="0.18"/><ellipse cx="1991.9" cy="94.9" rx="1.4" ry="1.2" fill="#231e4a" fill-opacity="0.18"/><ellipse cx="1992.1" cy="108.2" rx="1.5" ry="1.3" fill="#231e4a" fill-opacity="0.19"/><ellipse cx="1992.4" cy="122.4" rx="1.6" ry="1.4" fill="#231e4a" fill-opacity="0.22"/><ellipse cx="1992.7" cy="137.5" rx="1.6" ry="1.4" fill="#231e4a" fill-opacity="0.24"/><ellipse cx="1993.0" cy="153.6" rx="1.7" ry="1.5" fill="#231e4a" fill-opacity="0.26"/><ellipse cx="1993.3" cy="170.9" rx="1.8" ry="1.6" fill="#231e4a" fill-opacity="0.29"/><ellipse cx="1993.7" cy="189.5" rx="1.9" ry="1.7" fill="#231e4a" fill-opacity="0.32"/><ellipse cx="1994.0" cy="209.4" rx="2.0" ry="1.8" fill="#231e4a" fill-opacity="0.35"/><ellipse cx="1994.4" cy="230.9" rx="2.2" ry="1.9" fill="#231e4a" fill-opacity="0.39"/><ellipse cx="1994.9" cy="254.2" rx="2.3" ry="2.0" fill="#231e4a" fill-opacity="0.43"/><ellipse cx="1995.4" cy="279.5" rx="2.4" ry="2.1" fill="#231e4a" fill-opacity="0.47"/><ellipse cx="1995.9" cy="307.1" rx="2.6" ry="2.3" fill="#231e4a" fill-opacity="0.52"/><ellipse cx="1996.4" cy="337.2" rx="2.8" ry="2.4" fill="#231e4a" fill-opacity="0.58"/><ellipse cx="1997.1" cy="370.3" rx="3.0" ry="2.6" fill="#231e4a" fill-opacity="0.64"/><ellipse cx="1997.7" cy="406.8" rx="3.2" ry="2.8" fill="#231e4a" fill-opacity="0.71"/><ellipse cx="1998.5" cy="447.3" rx="3.5" ry="3.1" fill="#231e4a" fill-opacity="0.79"/><ellipse cx="1999.3" cy="492.4" rx="3.8" ry="3.3" fill="#231e4a" fill-opacity="0.88"/><ellipse cx="2000.3" cy="543.1" rx="4.2" ry="3.6" fill="#231e4a" fill-opacity="0.99"/><ellipse cx="2001.4" cy="600.4" rx="4.6" ry="4.0" fill="#231e4a" fill-opacity="1.00"/><ellipse cx="2002.6" cy="665.7" rx="5.1" ry="4.4" fill="#231e4a" fill-opacity="1.00"/><ellipse cx="2004.0" cy="740.7" rx="5.6" ry="4.9" fill="#231e4a" fill-opacity="1.00"/><ellipse cx="2005.6" cy="827.9" rx="6.3" ry="5.5" fill="#231e4a" fill-opacity="1.00"/><ellipse cx="2004.8" cy="4.7" rx="1.0" ry="0.9" fill="#231e4a" fill-opacity="0.18"/><ellipse cx="2005.4" cy="13.0" rx="1.0" ry="0.9" fill="#231e4a" fill-opacity="0.18"/><ellipse cx="2005.9" cy="21.7" rx="1.1" ry="1.0" fill="#231e4a" fill-opacity="0.18"/><ellipse cx="2006.5" cy="30.9" rx="1.1" ry="1.0" fill="#231e4a" fill-opacity="0.18"/><ellipse cx="2007.1" cy="40.6" rx="1.2" ry="1.0" fill="#231e4a" fill-opacity="0.18"/><ellipse cx="2007.7" cy="50.8" rx="1.2" ry="1.1" fill="#231e4a" fill-opacity="0.18"/><ellipse cx="2008.4" cy="61.6" rx="1.3" ry="1.1" fill="#231e4a" fill-opacity="0.18"/><ellipse cx="2009.1" cy="73.0" rx="1.3" ry="1.2" fill="#231e4a" fill-opacity="0.18"/><ellipse cx="2009.8" cy="85.0" rx="1.4" ry="1.2" fill="#231e4a" fill-opacity="0.18"/><ellipse cx="2010.6" cy="97.8" rx="1.5" ry="1.3" fill="#231e4a" fill-opacity="0.18"/><ellipse cx="2011.4" cy="111.4" rx="1.5" ry="1.3" fill="#231e4a" fill-opacity="0.20"/><ellipse cx="2012.3" cy="125.9" rx="1.6" ry="1.4" fill="#231e4a" fill-opacity="0.23"/><ellipse cx="2013.3" cy="141.3" rx="1.7" ry="1.5" fill="#231e4a" fill-opacity="0.25"/><ellipse cx="2014.3" cy="157.8" rx="1.8" ry="1.5" fill="#231e4a" fill-opacity="0.28"/><ellipse cx="2015.4" cy="175.5" rx="1.9" ry="1.6" fill="#231e4a" fill-opacity="0.30"/><ellipse cx="2016.6" cy="194.5" rx="2.0" ry="1.7" fill="#231e4a" fill-opacity="0.33"/><ellipse cx="2017.8" cy="215.0" rx="2.1" ry="1.8" fill="#231e4a" fill-opacity="0.37"/><ellipse cx="2019.2" cy="237.1" rx="2.2" ry="1.9" fill="#231e4a" fill-opacity="0.41"/><ellipse cx="2020.7" cy="261.1" rx="2.3" ry="2.1" fill="#231e4a" fill-opacity="0.45"/><ellipse cx="2022.3" cy="287.1" rx="2.5" ry="2.2" fill="#231e4a" fill-opacity="0.49"/><ellipse cx="2024.0" cy="315.5" rx="2.7" ry="2.3" fill="#231e4a" fill-opacity="0.55"/><ellipse cx="2026.0" cy="346.7" rx="2.9" ry="2.5" fill="#231e4a" fill-opacity="0.60"/><ellipse cx="2028.1" cy="380.9" rx="3.1" ry="2.7" fill="#231e4a" fill-opacity="0.67"/><ellipse cx="2030.4" cy="418.8" rx="3.3" ry="2.9" fill="#231e4a" fill-opacity="0.74"/><ellipse cx="2033.0" cy="460.9" rx="3.6" ry="3.2" fill="#231e4a" fill-opacity="0.83"/><ellipse cx="2035.9" cy="508.0" rx="3.9" ry="3.5" fill="#231e4a" fill-opacity="0.92"/><ellipse cx="2039.2" cy="561.0" rx="4.3" ry="3.8" fill="#231e4a" fill-opacity="1.00"/><ellipse cx="2042.9" cy="621.1" rx="4.8" ry="4.2" fill="#231e4a" fill-opacity="1.00"/><ellipse cx="2047.1" cy="689.8" rx="5.3" ry="4.6" fill="#231e4a" fill-opacity="1.00"/><ellipse cx="2052.0" cy="769.2" rx="5.9" ry="5.2" fill="#231e4a" fill-opacity="1.00"/><ellipse cx="2019.8" cy="6.1" rx="1.0" ry="0.9" fill="#231e4a" fill-opacity="0.18"/><ellipse cx="2020.7" cy="14.5" rx="1.1" ry="0.9" fill="#231e4a" fill-opacity="0.18"/><ellipse cx="2021.6" cy="23.4" rx="1.1" ry="1.0" fill="#231e4a" fill-opacity="0.18"/><ellipse cx="2022.6" cy="32.7" rx="1.1" ry="1.0" fill="#231e4a" fill-opacity="0.18"/><ellipse cx="2023.7" cy="42.6" rx="1.2" ry="1.0" fill="#231e4a" fill-opacity="0.18"/><ellipse cx="2024.7" cy="53.0" rx="1.2" ry="1.1" fill="#231e4a" fill-opacity="0.18"/><ellipse cx="2025.9" cy="63.9" rx="1.3" ry="1.1" fill="#231e4a" fill-opacity="0.18"/><ellipse cx="2027.1" cy="75.5" rx="1.4" ry="1.2" fill="#231e4a" fill-opacity="0.18"/><ellipse cx="2028.4" cy="87.8" rx="1.4" ry="1.2" fill="#231e4a" fill-opacity="0.18"/><ellipse cx="2029.8" cy="100.8" rx="1.5" ry="1.3" fill="#231e4a" fill-opacity="0.19"/><ellipse cx="2031.2" cy="114.7" rx="1.6" ry="1.4" fill="#231e4a" fill-opacity="0.21"/><ellipse cx="2032.8" cy="129.5" rx="1.6" ry="1.4" fill="#231e4a" fill-opacity="0.24"/><ellipse cx="2034.5" cy="145.3" rx="1.7" ry="1.5" fill="#231e4a" fill-opacity="0.26"/><ellipse cx="2036.2" cy="162.2" rx="1.8" ry="1.6" fill="#231e4a" fill-opacity="0.29"/><ellipse cx="2038.1" cy="180.3" rx="1.9" ry="1.7" fill="#231e4a" fill-opacity="0.32"/><ellipse cx="2040.2" cy="199.8" rx="2.0" ry="1.8" fill="#231e4a" fill-opacity="0.35"/><ellipse cx="2042.4" cy="220.8" rx="2.1" ry="1.9" fill="#231e4a" fill-opacity="0.38"/><ellipse cx="2044.8" cy="243.5" rx="2.3" ry="2.0" fill="#231e4a" fill-opacity="0.42"/><ellipse cx="2047.4" cy="268.2" rx="2.4" ry="2.1" fill="#231e4a" fill-opacity="0.47"/><ellipse cx="2050.2" cy="295.0" rx="2.6" ry="2.3" fill="#231e4a" fill-opacity="0.52"/><ellipse cx="2053.3" cy="324.4" rx="2.8" ry="2.4" fill="#231e4a" fill-opacity="0.57"/><ellipse cx="2056.7" cy="356.6" rx="3.0" ry="2.6" fill="#231e4a" fill-opacity="0.63"/><ellipse cx="2060.4" cy="392.1" rx="3.2" ry="2.8" fill="#231e4a" fill-opacity="0.70"/><ellipse cx="2064.6" cy="431.4" rx="3.4" ry="3.0" fill="#231e4a" fill-opacity="0.78"/><ellipse cx="2069.2" cy="475.3" rx="3.7" ry="3.3" fill="#231e4a" fill-opacity="0.87"/><ellipse cx="2074.3" cy="524.4" rx="4.1" ry="3.6" fill="#231e4a" fill-opacity="0.97"/><ellipse cx="2080.2" cy="579.9" rx="4.5" ry="3.9" fill="#231e4a" fill-opacity="1.00"/><ellipse cx="2086.8" cy="643.1" rx="5.0" ry="4.4" fill="#231e4a" fill-opacity="1.00"/><ellipse cx="2094.4" cy="715.5" rx="5.5" ry="4.8" fill="#231e4a" fill-opacity="1.00"/><ellipse cx="2103.3" cy="799.6" rx="6.2" ry="5.4" fill="#231e4a" fill-opacity="1.00"/><ellipse cx="2035.1" cy="7.5" rx="1.0" ry="0.9" fill="#231e4a" fill-opacity="0.18"/><ellipse cx="2036.4" cy="16.1" rx="1.1" ry="0.9" fill="#231e4a" fill-opacity="0.18"/><ellipse cx="2037.7" cy="25.1" rx="1.1" ry="1.0" fill="#231e4a" fill-opacity="0.18"/><ellipse cx="2039.1" cy="34.6" rx="1.2" ry="1.0" fill="#231e4a" fill-opacity="0.18"/><ellipse cx="2040.6" cy="44.6" rx="1.2" ry="1.1" fill="#231e4a" fill-opacity="0.18"/><ellipse cx="2042.2" cy="55.2" rx="1.3" ry="1.1" fill="#231e4a" fill-opacity="0.18"/><ellipse cx="2043.9" cy="66.3" rx="1.3" ry="1.2" fill="#231e4a" fill-opacity="0.18"/><ellipse cx="2045.6" cy="78.1" rx="1.4" ry="1.2" fill="#231e4a" fill-opacity="0.18"/><ellipse cx="2047.5" cy="90.6" rx="1.4" ry="1.3" fill="#231e4a" fill-opacity="0.18"/><ellipse cx="2049.5" cy="103.9" rx="1.5" ry="1.3" fill="#231e4a" fill-opacity="0.20"/><ellipse cx="2051.6" cy="118.1" rx="1.6" ry="1.4" fill="#231e4a" fill-opacity="0.22"/><ellipse cx="2053.8" cy="133.2" rx="1.7" ry="1.5" fill="#231e4a" fill-opacity="0.25"/><ellipse cx="2056.2" cy="149.3" rx="1.8" ry="1.5" fill="#231e4a" fill-opacity="0.27"/><ellipse cx="2058.8" cy="166.6" rx="1.8" ry="1.6" fill="#231e4a" fill-opacity="0.30"/><ellipse cx="2061.6" cy="185.2" rx="1.9" ry="1.7" fill="#231e4a" fill-opacity="0.33"/><ellipse cx="2064.6" cy="205.2" rx="2.1" ry="1.8" fill="#231e4a" fill-opacity="0.36"/><ellipse cx="2067.8" cy="226.8" rx="2.2" ry="1.9" fill="#231e4a" fill-opacity="0.40"/><ellipse cx="2071.3" cy="250.1" rx="2.3" ry="2.0" fill="#231e4a" fill-opacity="0.44"/><ellipse cx="2075.1" cy="275.5" rx="2.5" ry="2.2" fill="#231e4a" fill-opacity="0.49"/><ellipse cx="2079.2" cy="303.2" rx="2.6" ry="2.3" fill="#231e4a" fill-opacity="0.54"/><ellipse cx="2083.7" cy="333.5" rx="2.8" ry="2.5" fill="#231e4a" fill-opacity="0.59"/><ellipse cx="2088.7" cy="366.9" rx="3.1" ry="2.7" fill="#231e4a" fill-opacity="0.66"/><ellipse cx="2094.2" cy="403.7" rx="3.3" ry="2.9" fill="#231e4a" fill-opacity="0.73"/><ellipse cx="2100.3" cy="444.6" rx="3.6" ry="3.1" fill="#231e4a" fill-opacity="0.81"/><ellipse cx="2107.1" cy="490.3" rx="3.9" ry="3.4" fill="#231e4a" fill-opacity="0.91"/><ellipse cx="2114.8" cy="541.7" rx="4.3" ry="3.7" fill="#231e4a" fill-opacity="1.00"/><ellipse cx="2123.5" cy="599.9" rx="4.7" ry="4.1" fill="#231e4a" fill-opacity="1.00"/><ellipse cx="2133.4" cy="666.3" rx="5.2" ry="4.6" fill="#231e4a" fill-opacity="1.00"/><ellipse cx="2144.8" cy="742.9" rx="5.8" ry="5.1" fill="#231e4a" fill-opacity="1.00"/><ellipse cx="2049.1" cy="0.7" rx="1.0" ry="0.9" fill="#231e4a" fill-opacity="0.18"/><ellipse cx="2050.7" cy="9.0" rx="1.1" ry="0.9" fill="#231e4a" fill-opacity="0.18"/><ellipse cx="2052.4" cy="17.7" rx="1.1" ry="1.0" fill="#231e4a" fill-opacity="0.18"/><ellipse cx="2054.1" cy="26.9" rx="1.1" ry="1.0" fill="#231e4a" fill-opacity="0.18"/><ellipse cx="2056.0" cy="36.5" rx="1.2" ry="1.0" fill="#231e4a" fill-opacity="0.18"/><ellipse cx="2058.0" cy="46.7" rx="1.2" ry="1.1" fill="#231e4a" fill-opacity="0.18"/><ellipse cx="2060.1" cy="57.4" rx="1.3" ry="1.1" fill="#231e4a" fill-opacity="0.18"/><ellipse cx="2062.3" cy="68.8" rx="1.3" ry="1.2" fill="#231e4a" fill-opacity="0.18"/><ellipse cx="2064.6" cy="80.8" rx="1.4" ry="1.2" fill="#231e4a" fill-opacity="0.18"/><ellipse cx="2067.1" cy="93.6" rx="1.5" ry="1.3" fill="#231e4a" fill-opacity="0.19"/><ellipse cx="2069.7" cy="107.1" rx="1.5" ry="1.4" fill="#231e4a" fill-opacity="0.21"/><ellipse cx="2072.5" cy="121.6" rx="1.6" ry="1.4" fill="#231e4a" fill-opacity="0.23"/><ellipse cx="2075.5" cy="137.0" rx="1.7" ry="1.5" fill="#231e4a" fill-opacity="0.26"/><ellipse cx="2078.7" cy="153.5" rx="1.8" ry="1.6" fill="#231e4a" fill-opacity="0.28"/><ellipse cx="2082.1" cy="171.2" rx="1.9" ry="1.7" fill="#231e4a" fill-opacity="0.31"/><ellipse cx="2085.8" cy="190.3" rx="2.0" ry="1.7" fill="#231e4a" fill-opacity="0.34"/><ellipse cx="2089.8" cy="210.8" rx="2.1" ry="1.9" fill="#231e4a" fill-opacity="0.38"/><ellipse cx="2094.1" cy="232.9" rx="2.2" ry="2.0" fill="#231e4a" fill-opacity="0.42"/><ellipse cx="2098.7" cy="257.0" rx="2.4" ry="2.1" fill="#231e4a" fill-opacity="0.46"/><ellipse cx="2103.8" cy="283.2" rx="2.5" ry="2.2" fill="#231e4a" fill-opacity="0.51"/><ellipse cx="2109.3" cy="311.7" rx="2.7" ry="2.4" fill="#231e4a" fill-opacity="0.56"/><ellipse cx="2115.4" cy="343.1" rx="2.9" ry="2.6" fill="#231e4a" fill-opacity="0.62"/><ellipse cx="2122.1" cy="377.6" rx="3.1" ry="2.8" fill="#231e4a" fill-opacity="0.69"/><ellipse cx="2129.5" cy="415.9" rx="3.4" ry="3.0" fill="#231e4a" fill-opacity="0.76"/><ellipse cx="2137.7" cy="458.4" rx="3.7" ry="3.2" fill="#231e4a" fill-opacity="0.85"/><ellipse cx="2147.0" cy="506.1" rx="4.0" ry="3.5" fill="#231e4a" fill-opacity="0.95"/><ellipse cx="2157.4" cy="559.9" rx="4.4" ry="3.9" fill="#231e4a" fill-opacity="1.00"/><ellipse cx="2169.2" cy="620.9" rx="4.9" ry="4.3" fill="#231e4a" fill-opacity="1.00"/><ellipse cx="2182.8" cy="691.0" rx="5.4" ry="4.8" fill="#231e4a" fill-opacity="1.00"/><ellipse cx="2198.5" cy="772.0" rx="6.1" ry="5.3" fill="#231e4a" fill-opacity="1.00"/><ellipse cx="2064.6" cy="2.1" rx="1.0" ry="0.9" fill="#231e4a" fill-opacity="0.18"/><ellipse cx="2066.6" cy="10.5" rx="1.1" ry="0.9" fill="#231e4a" fill-opacity="0.18"/><ellipse cx="2068.7" cy="19.4" rx="1.1" ry="1.0" fill="#231e4a" fill-opacity="0.18"/><ellipse cx="2070.9" cy="28.7" rx="1.2" ry="1.0" fill="#231e4a" fill-opacity="0.18"/><ellipse cx="2073.3" cy="38.5" rx="1.2" ry="1.1" fill="#231e4a" fill-opacity="0.18"/><ellipse cx="2075.7" cy="48.8" rx="1.3" ry="1.1" fill="#231e4a" fill-opacity="0.18"/><ellipse cx="2078.3" cy="59.7" rx="1.3" ry="1.1" fill="#231e4a" fill-opacity="0.18"/><ellipse cx="2081.1" cy="71.3" rx="1.4" ry="1.2" fill="#231e4a" fill-opacity="0.18"/><ellipse cx="2084.0" cy="83.5" rx="1.4" ry="1.3" fill="#231e4a" fill-opacity="0.18"/><ellipse cx="2087.1" cy="96.6" rx="1.5" ry="1.3" fill="#231e4a" fill-opacity="0.20"/><ellipse cx="2090.4" cy="110.4" rx="1.6" ry="1.4" fill="#231e4a" fill-opacity="0.22"/><ellipse cx="2094.0" cy="125.2" rx="1.7" ry="1.4" fill="#231e4a" fill-opacity="0.24"/><ellipse cx="2097.7" cy="140.9" rx="1.7" ry="1.5" fill="#231e4a" fill-opacity="0.27"/><ellipse cx="2101.8" cy="157.8" rx="1.8" ry="1.6" fill="#231e4a" fill-opacity="0.29"/><ellipse cx="2106.1" cy="176.0" rx="1.9" ry="1.7" fill="#231e4a" fill-opacity="0.32"/><ellipse cx="2110.8" cy="195.5" rx="2.0" ry="1.8" fill="#231e4a" fill-opacity="0.36"/><ellipse cx="2115.8" cy="216.5" rx="2.2" ry="1.9" fill="#231e4a" fill-opacity="0.39"/><ellipse cx="2121.2" cy="239.3" rx="2.3" ry="2.0" fill="#231e4a" fill-opacity="0.43"/><ellipse cx="2127.1" cy="264.1" rx="2.5" ry="2.1" fill="#231e4a" fill-opacity="0.48"/><ellipse cx="2133.6" cy="291.1" rx="2.6" ry="2.3" fill="#231e4a" fill-opacity="0.53"/><ellipse cx="2140.6" cy="320.6" rx="2.8" ry="2.5" fill="#231e4a" fill-opacity="0.58"/><ellipse cx="2148.4" cy="353.0" rx="3.0" ry="2.6" fill="#231e4a" fill-opacity="0.65"/><ellipse cx="2156.9" cy="388.8" rx="3.3" ry="2.8" fill="#231e4a" fill-opacity="0.72"/><ellipse cx="2166.4" cy="428.6" rx="3.5" ry="3.1" fill="#231e4a" fill-opacity="0.80"/><ellipse cx="2177.0" cy="472.9" rx="3.8" ry="3.4" fill="#231e4a" fill-opacity="0.89"/><ellipse cx="2188.9" cy="522.7" rx="4.2" ry="3.7" fill="#231e4a" fill-opacity="1.00"/><ellipse cx="2202.3" cy="579.0" rx="4.6" ry="4.0" fill="#231e4a" fill-opacity="1.00"/><ellipse cx="2217.7" cy="643.3" rx="5.1" ry="4.5" fill="#231e4a" fill-opacity="1.00"/><ellipse cx="2235.3" cy="717.2" rx="5.7" ry="5.0" fill="#231e4a" fill-opacity="1.00"/><ellipse cx="2255.9" cy="803.2" rx="6.4" ry="5.6" fill="#231e4a" fill-opacity="1.00"/><ellipse cx="2080.4" cy="3.5" rx="1.1" ry="0.9" fill="#231e4a" fill-opacity="0.18"/><ellipse cx="2082.9" cy="12.1" rx="1.1" ry="1.0" fill="#231e4a" fill-opacity="0.18"/><ellipse cx="2085.4" cy="21.0" rx="1.1" ry="1.0" fill="#231e4a" fill-opacity="0.18"/><ellipse cx="2088.1" cy="30.5" rx="1.2" ry="1.0" fill="#231e4a" fill-opacity="0.18"/><ellipse cx="2090.9" cy="40.4" rx="1.2" ry="1.1" fill="#231e4a" fill-opacity="0.18"/><ellipse cx="2093.9" cy="51.0" rx="1.3" ry="1.1" fill="#231e4a" fill-opacity="0.18"/><ellipse cx="2097.1" cy="62.1" rx="1.3" ry="1.2" fill="#231e4a" fill-opacity="0.18"/><ellipse cx="2100.4" cy="73.9" rx="1.4" ry="1.2" fill="#231e4a" fill-opacity="0.18"/><ellipse cx="2104.0" cy="86.3" rx="1.5" ry="1.3" fill="#231e4a" fill-opacity="0.18"/><ellipse cx="2107.7" cy="99.6" rx="1.5" ry="1.3" fill="#231e4a" fill-opacity="0.21"/><ellipse cx="2111.8" cy="113.8" rx="1.6" ry="1.4" fill="#231e4a" fill-opacity="0.23"/><ellipse cx="2116.1" cy="128.8" rx="1.7" ry="1.5" fill="#231e4a" fill-opacity="0.25"/><ellipse cx="2120.6" cy="145.0" rx="1.8" ry="1.6" fill="#231e4a" fill-opacity="0.28"/><ellipse cx="2125.6" cy="162.3" rx="1.9" ry="1.6" fill="#231e4a" fill-opacity="0.31"/><ellipse cx="2130.8" cy="180.8" rx="2.0" ry="1.7" fill="#231e4a" fill-opacity="0.34"/><ellipse cx="2136.5" cy="200.9" rx="2.1" ry="1.8" fill="#231e4a" fill-opacity="0.37"/><ellipse cx="2142.7" cy="222.5" rx="2.2" ry="1.9" fill="#231e4a" fill-opacity="0.41"/><ellipse cx="2149.4" cy="245.9" rx="2.4" ry="2.1" fill="#231e4a" fill-opacity="0.45"/><ellipse cx="2156.6" cy="271.5" rx="2.5" ry="2.2" fill="#231e4a" fill-opacity="0.50"/><ellipse cx="2164.5" cy="299.3" rx="2.7" ry="2.4" fill="#231e4a" fill-opacity="0.55"/><ellipse cx="2173.2" cy="329.8" rx="2.9" ry="2.5" fill="#231e4a" fill-opacity="0.61"/><ellipse cx="2182.8" cy="363.4" rx="3.1" ry="2.7" fill="#231e4a" fill-opacity="0.68"/><ellipse cx="2193.3" cy="400.6" rx="3.4" ry="2.9" fill="#231e4a" fill-opacity="0.75"/><ellipse cx="2205.1" cy="441.9" rx="3.6" ry="3.2" fill="#231e4a" fill-opacity="0.84"/><ellipse cx="2218.2" cy="488.1" rx="4.0" ry="3.5" fill="#231e4a" fill-opacity="0.93"/><ellipse cx="2233.0" cy="540.2" rx="4.4" ry="3.8" fill="#231e4a" fill-opacity="1.00"/><ellipse cx="2249.8" cy="599.3" rx="4.8" ry="4.2" fill="#231e4a" fill-opacity="1.00"/><ellipse cx="2269.1" cy="667.0" rx="5.3" ry="4.7" fill="#231e4a" fill-opacity="1.00"/><ellipse cx="2291.3" cy="745.2" rx="6.0" ry="5.2" fill="#231e4a" fill-opacity="1.00"/><ellipse cx="2096.6" cy="5.0" rx="1.1" ry="0.9" fill="#231e4a" fill-opacity="0.18"/><ellipse cx="2099.5" cy="13.7" rx="1.1" ry="1.0" fill="#231e4a" fill-opacity="0.18"/><ellipse cx="2102.5" cy="22.8" rx="1.2" ry="1.0" fill="#231e4a" fill-opacity="0.18"/><ellipse cx="2105.6" cy="32.4" rx="1.2" ry="1.1" fill="#231e4a" fill-opacity="0.18"/><ellipse cx="2109.0" cy="42.5" rx="1.3" ry="1.1" fill="#231e4a" fill-opacity="0.18"/><ellipse cx="2112.5" cy="53.2" rx="1.3" ry="1.1" fill="#231e4a" fill-opacity="0.18"/><ellipse cx="2116.3" cy="64.5" rx="1.4" ry="1.2" fill="#231e4a" fill-opacity="0.18"/><ellipse cx="2120.2" cy="76.5" rx="1.4" ry="1.2" fill="#231e4a" fill-opacity="0.18"/><ellipse cx="2124.4" cy="89.2" rx="1.5" ry="1.3" fill="#231e4a" fill-opacity="0.19"/><ellipse cx="2128.9" cy="102.8" rx="1.6" ry="1.4" fill="#231e4a" fill-opacity="0.21"/><ellipse cx="2133.7" cy="117.2" rx="1.6" ry="1.4" fill="#231e4a" fill-opacity="0.24"/><ellipse cx="2138.8" cy="132.6" rx="1.7" ry="1.5" fill="#231e4a" fill-opacity="0.26"/><ellipse cx="2144.2" cy="149.1" rx="1.8" ry="1.6" fill="#231e4a" fill-opacity="0.29"/><ellipse cx="2150.1" cy="166.8" rx="1.9" ry="1.7" fill="#231e4a" fill-opacity="0.32"/><ellipse cx="2156.4" cy="185.9" rx="2.0" ry="1.8" fill="#231e4a" fill-opacity="0.35"/><ellipse cx="2163.2" cy="206.4" rx="2.1" ry="1.9" fill="#231e4a" fill-opacity="0.39"/><ellipse cx="2170.5" cy="228.7" rx="2.3" ry="2.0" fill="#231e4a" fill-opacity="0.43"/><ellipse cx="2178.5" cy="252.8" rx="2.4" ry="2.1" fill="#231e4a" fill-opacity="0.47"/><ellipse cx="2187.2" cy="279.1" rx="2.6" ry="2.3" fill="#231e4a" fill-opacity="0.52"/><ellipse cx="2196.7" cy="307.8" rx="2.8" ry="2.4" fill="#231e4a" fill-opacity="0.58"/><ellipse cx="2207.1" cy="339.4" rx="3.0" ry="2.6" fill="#231e4a" fill-opacity="0.64"/><ellipse cx="2218.6" cy="374.2" rx="3.2" ry="2.8" fill="#231e4a" fill-opacity="0.71"/><ellipse cx="2231.4" cy="412.8" rx="3.5" ry="3.0" fill="#231e4a" fill-opacity="0.79"/><ellipse cx="2245.6" cy="455.8" rx="3.8" ry="3.3" fill="#231e4a" fill-opacity="0.88"/><ellipse cx="2261.6" cy="504.1" rx="4.1" ry="3.6" fill="#231e4a" fill-opacity="0.98"/><ellipse cx="2279.6" cy="558.6" rx="4.5" ry="4.0" fill="#231e4a" fill-opacity="1.00"/><ellipse cx="2300.1" cy="620.8" rx="5.0" ry="4.4" fill="#231e4a" fill-opacity="1.00"/><ellipse cx="2323.7" cy="692.1" rx="5.6" ry="4.9" fill="#231e4a" fill-opacity="1.00"/><ellipse cx="2351.1" cy="775.0" rx="6.3" ry="5.5" fill="#231e4a" fill-opacity="1.00"/><ellipse cx="2113.1" cy="6.5" rx="1.1" ry="1.0" fill="#231e4a" fill-opacity="0.18"/><ellipse cx="2116.4" cy="15.3" rx="1.1" ry="1.0" fill="#231e4a" fill-opacity="0.18"/><ellipse cx="2119.9" cy="24.5" rx="1.2" ry="1.0" fill="#231e4a" fill-opacity="0.18"/><ellipse cx="2123.6" cy="34.3" rx="1.2" ry="1.1" fill="#231e4a" fill-opacity="0.18"/><ellipse cx="2127.5" cy="44.6" rx="1.3" ry="1.1" fill="#231e4a" fill-opacity="0.18"/><ellipse cx="2131.6" cy="55.4" rx="1.3" ry="1.2" fill="#231e4a" fill-opacity="0.18"/><ellipse cx="2135.9" cy="67.0" rx="1.4" ry="1.2" fill="#231e4a" fill-opacity="0.18"/><ellipse cx="2140.5" cy="79.2" rx="1.4" ry="1.3" fill="#231e4a" fill-opacity="0.18"/><ellipse cx="2145.4" cy="92.2" rx="1.5" ry="1.3" fill="#231e4a" fill-opacity="0.20"/><ellipse cx="2150.6" cy="106.0" rx="1.6" ry="1.4" fill="#231e4a" fill-opacity="0.22"/><ellipse cx="2156.2" cy="120.8" rx="1.7" ry="1.5" fill="#231e4a" fill-opacity="0.25"/><ellipse cx="2162.2" cy="136.5" rx="1.8" ry="1.5" fill="#231e4a" fill-opacity="0.27"/><ellipse cx="2168.5" cy="153.4" rx="1.9" ry="1.6" fill="#231e4a" fill-opacity="0.30"/><ellipse cx="2175.4" cy="171.6" rx="2.0" ry="1.7" fill="#231e4a" fill-opacity="0.33"/><ellipse cx="2182.7" cy="191.1" rx="2.1" ry="1.8" fill="#231e4a" fill-opacity="0.37"/><ellipse cx="2190.7" cy="212.2" rx="2.2" ry="1.9" fill="#231e4a" fill-opacity="0.40"/><ellipse cx="2199.3" cy="235.1" rx="2.3" ry="2.0" fill="#231e4a" fill-opacity="0.45"/><ellipse cx="2208.7" cy="259.9" rx="2.5" ry="2.2" fill="#231e4a" fill-opacity="0.49"/><ellipse cx="2218.9" cy="287.0" rx="2.7" ry="2.3" fill="#231e4a" fill-opacity="0.54"/><ellipse cx="2230.1" cy="316.7" rx="2.9" ry="2.5" fill="#231e4a" fill-opacity="0.60"/><ellipse cx="2242.5" cy="349.4" rx="3.1" ry="2.7" fill="#231e4a" fill-opacity="0.66"/><ellipse cx="2256.1" cy="385.5" rx="3.3" ry="2.9" fill="#231e4a" fill-opacity="0.74"/><ellipse cx="2271.2" cy="425.6" rx="3.6" ry="3.2" fill="#231e4a" fill-opacity="0.82"/><ellipse cx="2288.2" cy="470.5" rx="3.9" ry="3.4" fill="#231e4a" fill-opacity="0.92"/><ellipse cx="2307.2" cy="520.9" rx="4.3" ry="3.8" fill="#231e4a" fill-opacity="1.00"/><ellipse cx="2328.8" cy="578.1" rx="4.7" ry="4.1" fill="#231e4a" fill-opacity="1.00"/><ellipse cx="2353.4" cy="643.5" rx="5.3" ry="4.6" fill="#231e4a" fill-opacity="1.00"/><ellipse cx="2381.9" cy="718.9" rx="5.9" ry="5.1" fill="#231e4a" fill-opacity="1.00"/><ellipse cx="2415.1" cy="806.9" rx="6.6" ry="5.8" fill="#231e4a" fill-opacity="1.00"/><ellipse cx="2130.0" cy="8.0" rx="1.1" ry="1.0" fill="#231e4a" fill-opacity="0.18"/><ellipse cx="2133.7" cy="16.9" rx="1.1" ry="1.0" fill="#231e4a" fill-opacity="0.18"/><ellipse cx="2137.7" cy="26.3" rx="1.2" ry="1.0" fill="#231e4a" fill-opacity="0.18"/><ellipse cx="2141.9" cy="36.2" rx="1.2" ry="1.1" fill="#231e4a" fill-opacity="0.18"/><ellipse cx="2146.4" cy="46.7" rx="1.3" ry="1.1" fill="#231e4a" fill-opacity="0.18"/><ellipse cx="2151.1" cy="57.8" rx="1.4" ry="1.2" fill="#231e4a" fill-opacity="0.18"/><ellipse cx="2156.1" cy="69.5" rx="1.4" ry="1.2" fill="#231e4a" fill-opacity="0.18"/><ellipse cx="2161.4" cy="82.0" rx="1.5" ry="1.3" fill="#231e4a" fill-opacity="0.19"/><ellipse cx="2167.0" cy="95.2" rx="1.5" ry="1.4" fill="#231e4a" fill-opacity="0.21"/><ellipse cx="2173.0" cy="109.3" rx="1.6" ry="1.4" fill="#231e4a" fill-opacity="0.23"/><ellipse cx="2179.4" cy="124.4" rx="1.7" ry="1.5" fill="#231e4a" fill-opacity="0.26"/><ellipse cx="2186.2" cy="140.5" rx="1.8" ry="1.6" fill="#231e4a" fill-opacity="0.29"/><ellipse cx="2193.6" cy="157.8" rx="1.9" ry="1.7" fill="#231e4a" fill-opacity="0.31"/><ellipse cx="2201.5" cy="176.4" rx="2.0" ry="1.8" fill="#231e4a" fill-opacity="0.35"/><ellipse cx="2210.0" cy="196.5" rx="2.1" ry="1.9" fill="#231e4a" fill-opacity="0.38"/><ellipse cx="2219.2" cy="218.2" rx="2.3" ry="2.0" fill="#231e4a" fill-opacity="0.42"/><ellipse cx="2229.2" cy="241.7" rx="2.4" ry="2.1" fill="#231e4a" fill-opacity="0.46"/><ellipse cx="2240.0" cy="267.3" rx="2.6" ry="2.2" fill="#231e4a" fill-opacity="0.51"/><ellipse cx="2251.9" cy="295.3" rx="2.7" ry="2.4" fill="#231e4a" fill-opacity="0.57"/><ellipse cx="2265.0" cy="326.0" rx="2.9" ry="2.6" fill="#231e4a" fill-opacity="0.63"/><ellipse cx="2279.3" cy="359.8" rx="3.2" ry="2.8" fill="#231e4a" fill-opacity="0.69"/><ellipse cx="2295.2" cy="397.3" rx="3.4" ry="3.0" fill="#231e4a" fill-opacity="0.77"/><ellipse cx="2313.0" cy="439.1" rx="3.7" ry="3.3" fill="#231e4a" fill-opacity="0.86"/><ellipse cx="2332.8" cy="485.9" rx="4.1" ry="3.6" fill="#231e4a" fill-opacity="0.96"/><ellipse cx="2355.3" cy="538.7" rx="4.5" ry="3.9" fill="#231e4a" fill-opacity="1.00"/><ellipse cx="2380.8" cy="598.7" rx="4.9" ry="4.3" fill="#231e4a" fill-opacity="1.00"/><ellipse cx="2410.0" cy="667.6" rx="5.5" ry="4.8" fill="#231e4a" fill-opacity="1.00"/><ellipse cx="2443.9" cy="747.5" rx="6.2" ry="5.4" fill="#231e4a" fill-opacity="1.00"/><ellipse cx="2143.1" cy="0.9" rx="1.1" ry="0.9" fill="#231e4a" fill-opacity="0.18"/><ellipse cx="2147.2" cy="9.5" rx="1.1" ry="1.0" fill="#231e4a" fill-opacity="0.18"/><ellipse cx="2151.5" cy="18.6" rx="1.2" ry="1.0" fill="#231e4a" fill-opacity="0.18"/><ellipse cx="2156.0" cy="28.1" rx="1.2" ry="1.1" fill="#231e4a" fill-opacity="0.18"/><ellipse cx="2160.7" cy="38.2" rx="1.3" ry="1.1" fill="#231e4a" fill-opacity="0.18"/><ellipse cx="2165.8" cy="48.9" rx="1.3" ry="1.2" fill="#231e4a" fill-opacity="0.18"/><ellipse cx="2171.1" cy="60.2" rx="1.4" ry="1.2" fill="#231e4a" fill-opacity="0.18"/><ellipse cx="2176.7" cy="72.1" rx="1.4" ry="1.3" fill="#231e4a" fill-opacity="0.18"/><ellipse cx="2182.7" cy="84.8" rx="1.5" ry="1.3" fill="#231e4a" fill-opacity="0.20"/><ellipse cx="2189.1" cy="98.3" rx="1.6" ry="1.4" fill="#231e4a" fill-opacity="0.22"/><ellipse cx="2195.9" cy="112.8" rx="1.7" ry="1.5" fill="#231e4a" fill-opacity="0.24"/><ellipse cx="2203.2" cy="128.2" rx="1.7" ry="1.5" fill="#231e4a" fill-opacity="0.27"/><ellipse cx="2211.0" cy="144.7" rx="1.8" ry="1.6" fill="#231e4a" fill-opacity="0.30"/><ellipse cx="2219.4" cy="162.4" rx="1.9" ry="1.7" fill="#231e4a" fill-opacity="0.33"/><ellipse cx="2228.4" cy="181.4" rx="2.1" ry="1.8" fill="#231e4a" fill-opacity="0.36"/><ellipse cx="2238.1" cy="202.0" rx="2.2" ry="1.9" fill="#231e4a" fill-opacity="0.40"/><ellipse cx="2248.7" cy="224.3" rx="2.3" ry="2.0" fill="#231e4a" fill-opacity="0.44"/><ellipse cx="2260.1" cy="248.5" rx="2.5" ry="2.2" fill="#231e4a" fill-opacity="0.48"/><ellipse cx="2272.6" cy="274.9" rx="2.6" ry="2.3" fill="#231e4a" fill-opacity="0.53"/><ellipse cx="2286.2" cy="303.8" rx="2.8" ry="2.5" fill="#231e4a" fill-opacity="0.59"/><ellipse cx="2301.2" cy="335.6" rx="3.0" ry="2.7" fill="#231e4a" fill-opacity="0.65"/><ellipse cx="2317.8" cy="370.7" rx="3.3" ry="2.9" fill="#231e4a" fill-opacity="0.73"/><ellipse cx="2336.2" cy="409.7" rx="3.6" ry="3.1" fill="#231e4a" fill-opacity="0.81"/><ellipse cx="2356.8" cy="453.2" rx="3.9" ry="3.4" fill="#231e4a" fill-opacity="0.90"/><ellipse cx="2379.9" cy="502.0" rx="4.2" ry="3.7" fill="#231e4a" fill-opacity="1.00"/><ellipse cx="2406.0" cy="557.4" rx="4.7" ry="4.1" fill="#231e4a" fill-opacity="1.00"/><ellipse cx="2435.9" cy="620.6" rx="5.2" ry="4.5" fill="#231e4a" fill-opacity="1.00"/><ellipse cx="2470.3" cy="693.3" rx="5.8" ry="5.0" fill="#231e4a" fill-opacity="1.00"/><ellipse cx="2510.3" cy="778.1" rx="6.5" ry="5.7" fill="#231e4a" fill-opacity="1.00"/><ellipse cx="2160.2" cy="2.4" rx="1.1" ry="1.0" fill="#231e4a" fill-opacity="0.18"/><ellipse cx="2164.8" cy="11.1" rx="1.1" ry="1.0" fill="#231e4a" fill-opacity="0.18"/><ellipse cx="2169.6" cy="20.3" rx="1.2" ry="1.0" fill="#231e4a" fill-opacity="0.18"/><ellipse cx="2174.6" cy="30.0" rx="1.2" ry="1.1" fill="#231e4a" fill-opacity="0.18"/><ellipse cx="2180.0" cy="40.3" rx="1.3" ry="1.1" fill="#231e4a" fill-opacity="0.18"/><ellipse cx="2185.6" cy="51.1" rx="1.3" ry="1.2" fill="#231e4a" fill-opacity="0.18"/><ellipse cx="2191.6" cy="62.6" rx="1.4" ry="1.2" fill="#231e4a" fill-opacity="0.18"/><ellipse cx="2197.9" cy="74.8" rx="1.5" ry="1.3" fill="#231e4a" fill-opacity="0.19"/><ellipse cx="2204.7" cy="87.7" rx="1.5" ry="1.3" fill="#231e4a" fill-opacity="0.21"/><ellipse cx="2211.9" cy="101.5" rx="1.6" ry="1.4" fill="#231e4a" fill-opacity="0.23"/><ellipse cx="2219.5" cy="116.3" rx="1.7" ry="1.5" fill="#231e4a" fill-opacity="0.25"/><ellipse cx="2227.8" cy="132.0" rx="1.8" ry="1.6" fill="#231e4a" fill-opacity="0.28"/><ellipse cx="2236.6" cy="148.9" rx="1.9" ry="1.6" fill="#231e4a" fill-opacity="0.31"/><ellipse cx="2246.0" cy="167.1" rx="2.0" ry="1.7" fill="#231e4a" fill-opacity="0.34"/><ellipse cx="2256.2" cy="186.6" rx="2.1" ry="1.8" fill="#231e4a" fill-opacity="0.38"/><ellipse cx="2267.2" cy="207.8" rx="2.2" ry="2.0" fill="#231e4a" fill-opacity="0.41"/><ellipse cx="2279.2" cy="230.7" rx="2.4" ry="2.1" fill="#231e4a" fill-opacity="0.46"/><ellipse cx="2292.2" cy="255.6" rx="2.5" ry="2.2" fill="#231e4a" fill-opacity="0.50"/><ellipse cx="2306.4" cy="282.9" rx="2.7" ry="2.4" fill="#231e4a" fill-opacity="0.56"/><ellipse cx="2321.9" cy="312.8" rx="2.9" ry="2.6" fill="#231e4a" fill-opacity="0.62"/><ellipse cx="2339.1" cy="345.7" rx="3.1" ry="2.7" fill="#231e4a" fill-opacity="0.68"/><ellipse cx="2358.0" cy="382.1" rx="3.4" ry="3.0" fill="#231e4a" fill-opacity="0.76"/><ellipse cx="2379.1" cy="422.6" rx="3.7" ry="3.2" fill="#231e4a" fill-opacity="0.85"/><ellipse cx="2402.8" cy="468.0" rx="4.0" ry="3.5" fill="#231e4a" fill-opacity="0.95"/><ellipse cx="2429.4" cy="519.1" rx="4.4" ry="3.9" fill="#231e4a" fill-opacity="1.00"/><ellipse cx="2459.7" cy="577.2" rx="4.9" ry="4.3" fill="#231e4a" fill-opacity="1.00"/><ellipse cx="2494.3" cy="643.7" rx="5.4" ry="4.7" fill="#231e4a" fill-opacity="1.00"/><ellipse cx="2534.5" cy="720.7" rx="6.1" ry="5.3" fill="#231e4a" fill-opacity="1.00"/><ellipse cx="2581.4" cy="810.9" rx="6.8" ry="6.0" fill="#231e4a" fill-opacity="1.00"/><ellipse cx="2177.7" cy="3.8" rx="1.1" ry="1.0" fill="#231e4a" fill-opacity="0.18"/><ellipse cx="2182.7" cy="12.7" rx="1.2" ry="1.0" fill="#231e4a" fill-opacity="0.18"/><ellipse cx="2188.1" cy="22.1" rx="1.2" ry="1.1" fill="#231e4a" fill-opacity="0.18"/><ellipse cx="2193.7" cy="31.9" rx="1.3" ry="1.1" fill="#231e4a" fill-opacity="0.18"/><ellipse cx="2199.6" cy="42.4" rx="1.3" ry="1.1" fill="#231e4a" fill-opacity="0.18"/><ellipse cx="2205.9" cy="53.4" rx="1.4" ry="1.2" fill="#231e4a" fill-opacity="0.18"/><ellipse cx="2212.6" cy="65.1" rx="1.4" ry="1.3" fill="#231e4a" fill-opacity="0.18"/><ellipse cx="2219.7" cy="77.5" rx="1.5" ry="1.3" fill="#231e4a" fill-opacity="0.20"/><ellipse cx="2227.2" cy="90.7" rx="1.6" ry="1.4" fill="#231e4a" fill-opacity="0.22"/><ellipse cx="2235.2" cy="104.8" rx="1.6" ry="1.4" fill="#231e4a" fill-opacity="0.24"/><ellipse cx="2243.8" cy="119.9" rx="1.7" ry="1.5" fill="#231e4a" fill-opacity="0.27"/><ellipse cx="2253.0" cy="136.0" rx="1.8" ry="1.6" fill="#231e4a" fill-opacity="0.29"/><ellipse cx="2262.9" cy="153.3" rx="1.9" ry="1.7" fill="#231e4a" fill-opacity="0.32"/><ellipse cx="2273.5" cy="171.9" rx="2.0" ry="1.8" fill="#231e4a" fill-opacity="0.36"/><ellipse cx="2284.9" cy="192.0" rx="2.2" ry="1.9" fill="#231e4a" fill-opacity="0.39"/><ellipse cx="2297.3" cy="213.7" rx="2.3" ry="2.0" fill="#231e4a" fill-opacity="0.43"/><ellipse cx="2310.8" cy="237.3" rx="2.4" ry="2.1" fill="#231e4a" fill-opacity="0.48"/><ellipse cx="2325.4" cy="263.0" rx="2.6" ry="2.3" fill="#231e4a" fill-opacity="0.53"/><ellipse cx="2341.5" cy="291.1" rx="2.8" ry="2.4" fill="#231e4a" fill-opacity="0.58"/><ellipse cx="2359.1" cy="322.0" rx="3.0" ry="2.6" fill="#231e4a" fill-opacity="0.64"/><ellipse cx="2378.5" cy="356.1" rx="3.2" ry="2.8" fill="#231e4a" fill-opacity="0.71"/><ellipse cx="2400.1" cy="394.0" rx="3.5" ry="3.1" fill="#231e4a" fill-opacity="0.79"/><ellipse cx="2424.1" cy="436.2" rx="3.8" ry="3.3" fill="#231e4a" fill-opacity="0.89"/><ellipse cx="2451.1" cy="483.5" rx="4.2" ry="3.7" fill="#231e4a" fill-opacity="0.99"/><ellipse cx="2481.7" cy="537.1" rx="4.6" ry="4.0" fill="#231e4a" fill-opacity="1.00"/><ellipse cx="2516.5" cy="598.1" rx="5.1" ry="4.4" fill="#231e4a" fill-opacity="1.00"/><ellipse cx="2556.5" cy="668.4" rx="5.7" ry="5.0" fill="#231e4a" fill-opacity="1.00"/><ellipse cx="2603.0" cy="750.0" rx="6.4" ry="5.6" fill="#231e4a" fill-opacity="1.00"/><ellipse cx="2195.5" cy="5.4" rx="1.1" ry="1.0" fill="#231e4a" fill-opacity="0.18"/><ellipse cx="2201.1" cy="14.4" rx="1.2" ry="1.0" fill="#231e4a" fill-opacity="0.18"/><ellipse cx="2207.0" cy="23.9" rx="1.2" ry="1.1" fill="#231e4a" fill-opacity="0.18"/><ellipse cx="2213.2" cy="33.9" rx="1.3" ry="1.1" fill="#231e4a" fill-opacity="0.18"/><ellipse cx="2219.8" cy="44.5" rx="1.3" ry="1.2" fill="#231e4a" fill-opacity="0.18"/><ellipse cx="2226.8" cy="55.8" rx="1.4" ry="1.2" fill="#231e4a" fill-opacity="0.18"/><ellipse cx="2234.2" cy="67.7" rx="1.5" ry="1.3" fill="#231e4a" fill-opacity="0.18"/><ellipse cx="2242.0" cy="80.3" rx="1.5" ry="1.3" fill="#231e4a" fill-opacity="0.20"/><ellipse cx="2250.4" cy="93.8" rx="1.6" ry="1.4" fill="#231e4a" fill-opacity="0.23"/><ellipse cx="2259.3" cy="108.2" rx="1.7" ry="1.5" fill="#231e4a" fill-opacity="0.25"/><ellipse cx="2268.8" cy="123.6" rx="1.8" ry="1.6" fill="#231e4a" fill-opacity="0.28"/><ellipse cx="2279.0" cy="140.1" rx="1.9" ry="1.6" fill="#231e4a" fill-opacity="0.31"/><ellipse cx="2290.0" cy="157.8" rx="2.0" ry="1.7" fill="#231e4a" fill-opacity="0.34"/><ellipse cx="2301.9" cy="176.9" rx="2.1" ry="1.8" fill="#231e4a" fill-opacity="0.37"/><ellipse cx="2314.6" cy="197.5" rx="2.2" ry="1.9" fill="#231e4a" fill-opacity="0.41"/><ellipse cx="2328.5" cy="219.9" rx="2.4" ry="2.1" fill="#231e4a" fill-opacity="0.45"/><ellipse cx="2343.5" cy="244.2" rx="2.5" ry="2.2" fill="#231e4a" fill-opacity="0.50"/><ellipse cx="2360.0" cy="270.7" rx="2.7" ry="2.4" fill="#231e4a" fill-opacity="0.55"/><ellipse cx="2378.0" cy="299.7" rx="2.9" ry="2.5" fill="#231e4a" fill-opacity="0.61"/><ellipse cx="2397.8" cy="331.7" rx="3.1" ry="2.7" fill="#231e4a" fill-opacity="0.67"/><ellipse cx="2419.7" cy="367.1" rx="3.3" ry="2.9" fill="#231e4a" fill-opacity="0.75"/><ellipse cx="2444.1" cy="406.4" rx="3.6" ry="3.2" fill="#231e4a" fill-opacity="0.83"/><ellipse cx="2471.4" cy="450.4" rx="4.0" ry="3.5" fill="#231e4a" fill-opacity="0.93"/><ellipse cx="2502.1" cy="499.9" rx="4.3" ry="3.8" fill="#231e4a" fill-opacity="1.00"/><ellipse cx="2536.9" cy="556.1" rx="4.8" ry="4.2" fill="#231e4a" fill-opacity="1.00"/><ellipse cx="2576.7" cy="620.4" rx="5.3" ry="4.7" fill="#231e4a" fill-opacity="1.00"/><ellipse cx="2622.7" cy="694.6" rx="5.9" ry="5.2" fill="#231e4a" fill-opacity="1.00"/><ellipse cx="2676.5" cy="781.3" rx="6.7" ry="5.9" fill="#231e4a" fill-opacity="1.00"/><ellipse cx="2213.8" cy="6.9" rx="1.2" ry="1.0" fill="#231e4a" fill-opacity="0.18"/><ellipse cx="2219.9" cy="16.1" rx="1.2" ry="1.0" fill="#231e4a" fill-opacity="0.18"/><ellipse cx="2226.4" cy="25.7" rx="1.2" ry="1.1" fill="#231e4a" fill-opacity="0.18"/><ellipse cx="2233.2" cy="35.9" rx="1.3" ry="1.1" fill="#231e4a" fill-opacity="0.18"/><ellipse cx="2240.5" cy="46.7" rx="1.4" ry="1.2" fill="#231e4a" fill-opacity="0.18"/><ellipse cx="2248.1" cy="58.2" rx="1.4" ry="1.2" fill="#231e4a" fill-opacity="0.18"/><ellipse cx="2256.3" cy="70.3" rx="1.5" ry="1.3" fill="#231e4a" fill-opacity="0.19"/><ellipse cx="2264.9" cy="83.2" rx="1.6" ry="1.4" fill="#231e4a" fill-opacity="0.21"/><ellipse cx="2274.1" cy="97.0" rx="1.6" ry="1.4" fill="#231e4a" fill-opacity="0.24"/><ellipse cx="2284.0" cy="111.7" rx="1.7" ry="1.5" fill="#231e4a" fill-opacity="0.26"/><ellipse cx="2294.5" cy="127.4" rx="1.8" ry="1.6" fill="#231e4a" fill-opacity="0.29"/><ellipse cx="2305.9" cy="144.3" rx="1.9" ry="1.7" fill="#231e4a" fill-opacity="0.32"/><ellipse cx="2318.0" cy="162.5" rx="2.0" ry="1.8" fill="#231e4a" fill-opacity="0.35"/><ellipse cx="2331.2" cy="182.1" rx="2.1" ry="1.9" fill="#231e4a" fill-opacity="0.39"/><ellipse cx="2345.4" cy="203.2" rx="2.3" ry="2.0" fill="#231e4a" fill-opacity="0.43"/><ellipse cx="2360.8" cy="226.2" rx="2.4" ry="2.1" fill="#231e4a" fill-opacity="0.47"/><ellipse cx="2377.5" cy="251.3" rx="2.6" ry="2.3" fill="#231e4a" fill-opacity="0.52"/><ellipse cx="2395.9" cy="278.6" rx="2.8" ry="2.4" fill="#231e4a" fill-opacity="0.57"/><ellipse cx="2416.0" cy="308.7" rx="3.0" ry="2.6" fill="#231e4a" fill-opacity="0.63"/><ellipse cx="2438.2" cy="341.8" rx="3.2" ry="2.8" fill="#231e4a" fill-opacity="0.70"/><ellipse cx="2462.8" cy="378.5" rx="3.5" ry="3.0" fill="#231e4a" fill-opacity="0.78"/><ellipse cx="2490.3" cy="419.5" rx="3.8" ry="3.3" fill="#231e4a" fill-opacity="0.87"/><ellipse cx="2521.0" cy="465.4" rx="4.1" ry="3.6" fill="#231e4a" fill-opacity="0.97"/><ellipse cx="2555.8" cy="517.2" rx="4.5" ry="4.0" fill="#231e4a" fill-opacity="1.00"/><ellipse cx="2595.3" cy="576.2" rx="5.0" ry="4.4" fill="#231e4a" fill-opacity="1.00"/><ellipse cx="2640.7" cy="644.0" rx="5.6" ry="4.9" fill="#231e4a" fill-opacity="1.00"/><ellipse cx="2693.4" cy="722.6" rx="6.2" ry="5.5" fill="#231e4a" fill-opacity="1.00"/><ellipse cx="2755.3" cy="815.0" rx="7.1" ry="6.2" fill="#231e4a" fill-opacity="1.00"/><ellipse cx="2232.4" cy="8.5" rx="1.2" ry="1.0" fill="#231e4a" fill-opacity="0.18"/><ellipse cx="2239.1" cy="17.8" rx="1.2" ry="1.1" fill="#231e4a" fill-opacity="0.18"/><ellipse cx="2246.2" cy="27.6" rx="1.3" ry="1.1" fill="#231e4a" fill-opacity="0.18"/><ellipse cx="2253.7" cy="38.0" rx="1.3" ry="1.2" fill="#231e4a" fill-opacity="0.18"/><ellipse cx="2261.6" cy="49.0" rx="1.4" ry="1.2" fill="#231e4a" fill-opacity="0.18"/><ellipse cx="2270.0" cy="60.6" rx="1.4" ry="1.3" fill="#231e4a" fill-opacity="0.18"/><ellipse cx="2279.0" cy="73.0" rx="1.5" ry="1.3" fill="#231e4a" fill-opacity="0.20"/><ellipse cx="2288.5" cy="86.2" rx="1.6" ry="1.4" fill="#231e4a" fill-opacity="0.22"/><ellipse cx="2298.6" cy="100.3" rx="1.7" ry="1.5" fill="#231e4a" fill-opacity="0.25"/><ellipse cx="2309.4" cy="115.3" rx="1.8" ry="1.5" fill="#231e4a" fill-opacity="0.27"/><ellipse cx="2321.0" cy="131.4" rx="1.8" ry="1.6" fill="#231e4a" fill-opacity="0.30"/><ellipse cx="2333.5" cy="148.7" rx="2.0" ry="1.7" fill="#231e4a" fill-opacity="0.33"/><ellipse cx="2346.9" cy="167.3" rx="2.1" ry="1.8" fill="#231e4a" fill-opacity="0.36"/><ellipse cx="2361.4" cy="187.4" rx="2.2" ry="1.9" fill="#231e4a" fill-opacity="0.40"/><ellipse cx="2377.2" cy="209.2" rx="2.3" ry="2.0" fill="#231e4a" fill-opacity="0.44"/><ellipse cx="2394.2" cy="232.8" rx="2.5" ry="2.2" fill="#231e4a" fill-opacity="0.49"/><ellipse cx="2412.8" cy="258.7" rx="2.7" ry="2.3" fill="#231e4a" fill-opacity="0.54"/><ellipse cx="2433.2" cy="286.9" rx="2.8" ry="2.5" fill="#231e4a" fill-opacity="0.60"/><ellipse cx="2455.6" cy="318.0" rx="3.1" ry="2.7" fill="#231e4a" fill-opacity="0.66"/><ellipse cx="2480.4" cy="352.4" rx="3.3" ry="2.9" fill="#231e4a" fill-opacity="0.73"/><ellipse cx="2507.9" cy="390.5" rx="3.6" ry="3.1" fill="#231e4a" fill-opacity="0.82"/><ellipse cx="2538.7" cy="433.2" rx="3.9" ry="3.4" fill="#231e4a" fill-opacity="0.91"/><ellipse cx="2573.3" cy="481.1" rx="4.3" ry="3.7" fill="#231e4a" fill-opacity="1.00"/><ellipse cx="2612.5" cy="535.4" rx="4.7" ry="4.1" fill="#231e4a" fill-opacity="1.00"/><ellipse cx="2657.2" cy="597.5" rx="5.2" ry="4.6" fill="#231e4a" fill-opacity="1.00"/><ellipse cx="2708.9" cy="669.1" rx="5.8" ry="5.1" fill="#231e4a" fill-opacity="1.00"/><ellipse cx="2244.5" cy="1.1" rx="1.1" ry="1.0" fill="#231e4a" fill-opacity="0.18"/><ellipse cx="2251.5" cy="10.1" rx="1.2" ry="1.0" fill="#231e4a" fill-opacity="0.18"/><ellipse cx="2258.8" cy="19.5" rx="1.2" ry="1.1" fill="#231e4a" fill-opacity="0.18"/><ellipse cx="2266.5" cy="29.5" rx="1.3" ry="1.1" fill="#231e4a" fill-opacity="0.18"/><ellipse cx="2274.7" cy="40.1" rx="1.3" ry="1.2" fill="#231e4a" fill-opacity="0.18"/><ellipse cx="2283.3" cy="51.3" rx="1.4" ry="1.2" fill="#231e4a" fill-opacity="0.18"/><ellipse cx="2292.5" cy="63.2" rx="1.5" ry="1.3" fill="#231e4a" fill-opacity="0.19"/><ellipse cx="2302.2" cy="75.8" rx="1.5" ry="1.4" fill="#231e4a" fill-opacity="0.21"/><ellipse cx="2312.6" cy="89.2" rx="1.6" ry="1.4" fill="#231e4a" fill-opacity="0.23"/><ellipse cx="2323.7" cy="103.6" rx="1.7" ry="1.5" fill="#231e4a" fill-opacity="0.26"/><ellipse cx="2335.6" cy="119.0" rx="1.8" ry="1.6" fill="#231e4a" fill-opacity="0.28"/><ellipse cx="2348.4" cy="135.5" rx="1.9" ry="1.7" fill="#231e4a" fill-opacity="0.31"/><ellipse cx="2362.0" cy="153.2" rx="2.0" ry="1.8" fill="#231e4a" fill-opacity="0.34"/><ellipse cx="2376.8" cy="172.3" rx="2.1" ry="1.9" fill="#231e4a" fill-opacity="0.38"/><ellipse cx="2392.8" cy="192.9" rx="2.2" ry="2.0" fill="#231e4a" fill-opacity="0.42"/><ellipse cx="2410.1" cy="215.3" rx="2.4" ry="2.1" fill="#231e4a" fill-opacity="0.46"/><ellipse cx="2428.9" cy="239.7" rx="2.6" ry="2.2" fill="#231e4a" fill-opacity="0.51"/><ellipse cx="2449.5" cy="266.3" rx="2.7" ry="2.4" fill="#231e4a" fill-opacity="0.56"/><ellipse cx="2472.1" cy="295.5" rx="2.9" ry="2.6" fill="#231e4a" fill-opacity="0.62"/><ellipse cx="2497.0" cy="327.7" rx="3.2" ry="2.8" fill="#231e4a" fill-opacity="0.69"/><ellipse cx="2524.5" cy="363.4" rx="3.4" ry="3.0" fill="#231e4a" fill-opacity="0.77"/><ellipse cx="2555.2" cy="403.1" rx="3.7" ry="3.3" fill="#231e4a" fill-opacity="0.85"/><ellipse cx="2589.6" cy="447.6" rx="4.1" ry="3.6" fill="#231e4a" fill-opacity="0.96"/><ellipse cx="2628.3" cy="497.7" rx="4.4" ry="3.9" fill="#231e4a" fill-opacity="1.00"/><ellipse cx="2672.4" cy="554.7" rx="4.9" ry="4.3" fill="#231e4a" fill-opacity="1.00"/><ellipse cx="2723.0" cy="620.1" rx="5.5" ry="4.8" fill="#231e4a" fill-opacity="1.00"/><ellipse cx="2263.4" cy="2.6" rx="1.2" ry="1.0" fill="#231e4a" fill-opacity="0.18"/><ellipse cx="2271.0" cy="11.7" rx="1.2" ry="1.1" fill="#231e4a" fill-opacity="0.18"/><ellipse cx="2278.9" cy="21.3" rx="1.3" ry="1.1" fill="#231e4a" fill-opacity="0.18"/><ellipse cx="2287.3" cy="31.5" rx="1.3" ry="1.2" fill="#231e4a" fill-opacity="0.18"/><ellipse cx="2296.1" cy="42.3" rx="1.4" ry="1.2" fill="#231e4a" fill-opacity="0.18"/><ellipse cx="2305.5" cy="53.7" rx="1.4" ry="1.3" fill="#231e4a" fill-opacity="0.18"/><ellipse cx="2315.5" cy="65.8" rx="1.5" ry="1.3" fill="#231e4a" fill-opacity="0.20"/><ellipse cx="2326.2" cy="78.6" rx="1.6" ry="1.4" fill="#231e4a" fill-opacity="0.22"/><ellipse cx="2337.5" cy="92.4" rx="1.7" ry="1.4" fill="#231e4a" fill-opacity="0.24"/><ellipse cx="2349.6" cy="107.1" rx="1.7" ry="1.5" fill="#231e4a" fill-opacity="0.27"/><ellipse cx="2362.6" cy="122.8" rx="1.8" ry="1.6" fill="#231e4a" fill-opacity="0.30"/><ellipse cx="2376.5" cy="139.6" rx="1.9" ry="1.7" fill="#231e4a" fill-opacity="0.33"/><ellipse cx="2391.5" cy="157.8" rx="2.0" ry="1.8" fill="#231e4a" fill-opacity="0.36"/><ellipse cx="2407.7" cy="177.4" rx="2.2" ry="1.9" fill="#231e4a" fill-opacity="0.40"/><ellipse cx="2425.2" cy="198.6" rx="2.3" ry="2.0" fill="#231e4a" fill-opacity="0.44"/><ellipse cx="2444.2" cy="221.7" rx="2.5" ry="2.2" fill="#231e4a" fill-opacity="0.48"/><ellipse cx="2464.9" cy="246.8" rx="2.6" ry="2.3" fill="#231e4a" fill-opacity="0.53"/><ellipse cx="2487.6" cy="274.3" rx="2.8" ry="2.5" fill="#231e4a" fill-opacity="0.59"/><ellipse cx="2512.6" cy="304.5" rx="3.0" ry="2.7" fill="#231e4a" fill-opacity="0.65"/><ellipse cx="2540.1" cy="337.9" rx="3.3" ry="2.9" fill="#231e4a" fill-opacity="0.72"/><ellipse cx="2570.7" cy="374.9" rx="3.5" ry="3.1" fill="#231e4a" fill-opacity="0.80"/><ellipse cx="2604.8" cy="416.3" rx="3.8" ry="3.4" fill="#231e4a" fill-opacity="0.90"/><ellipse cx="2643.1" cy="462.7" rx="4.2" ry="3.7" fill="#231e4a" fill-opacity="1.00"/><ellipse cx="2686.5" cy="515.2" rx="4.6" ry="4.1" fill="#231e4a" fill-opacity="1.00"/><ellipse cx="2735.9" cy="575.2" rx="5.1" ry="4.5" fill="#231e4a" fill-opacity="1.00"/><ellipse cx="2282.8" cy="4.2" rx="1.2" ry="1.0" fill="#231e4a" fill-opacity="0.18"/><ellipse cx="2290.9" cy="13.4" rx="1.2" ry="1.1" fill="#231e4a" fill-opacity="0.18"/><ellipse cx="2299.5" cy="23.2" rx="1.3" ry="1.1" fill="#231e4a" fill-opacity="0.18"/><ellipse cx="2308.5" cy="33.5" rx="1.3" ry="1.2" fill="#231e4a" fill-opacity="0.18"/><ellipse cx="2318.2" cy="44.5" rx="1.4" ry="1.2" fill="#231e4a" fill-opacity="0.18"/><ellipse cx="2328.4" cy="56.1" rx="1.5" ry="1.3" fill="#231e4a" fill-opacity="0.19"/><ellipse cx="2339.2" cy="68.4" rx="1.5" ry="1.3" fill="#231e4a" fill-opacity="0.21"/><ellipse cx="2350.7" cy="81.6" rx="1.6" ry="1.4" fill="#231e4a" fill-opacity="0.23"/><ellipse cx="2363.1" cy="95.6" rx="1.7" ry="1.5" fill="#231e4a" fill-opacity="0.25"/><ellipse cx="2376.2" cy="110.6" rx="1.8" ry="1.6" fill="#231e4a" fill-opacity="0.28"/><ellipse cx="2390.4" cy="126.7" rx="1.9" ry="1.6" fill="#231e4a" fill-opacity="0.31"/><ellipse cx="2405.5" cy="144.0" rx="2.0" ry="1.7" fill="#231e4a" fill-opacity="0.34"/><ellipse cx="2421.9" cy="162.6" rx="2.1" ry="1.8" fill="#231e4a" fill-opacity="0.37"/><ellipse cx="2439.6" cy="182.7" rx="2.2" ry="2.0" fill="#231e4a" fill-opacity="0.41"/><ellipse cx="2458.7" cy="204.5" rx="2.4" ry="2.1" fill="#231e4a" fill-opacity="0.45"/><ellipse cx="2479.6" cy="228.3" rx="2.5" ry="2.2" fill="#231e4a" fill-opacity="0.50"/><ellipse cx="2502.3" cy="254.2" rx="2.7" ry="2.4" fill="#231e4a" fill-opacity="0.55"/><ellipse cx="2527.3" cy="282.6" rx="2.9" ry="2.5" fill="#231e4a" fill-opacity="0.61"/><ellipse cx="2554.8" cy="313.9" rx="3.1" ry="2.7" fill="#231e4a" fill-opacity="0.68"/><ellipse cx="2585.2" cy="348.5" rx="3.4" ry="3.0" fill="#231e4a" fill-opacity="0.75"/><ellipse cx="2619.0" cy="387.0" rx="3.7" ry="3.2" fill="#231e4a" fill-opacity="0.84"/><ellipse cx="2656.8" cy="430.1" rx="4.0" ry="3.5" fill="#231e4a" fill-opacity="0.94"/><ellipse cx="2699.5" cy="478.6" rx="4.4" ry="3.8" fill="#231e4a" fill-opacity="1.00"/><ellipse cx="2747.9" cy="533.8" rx="4.8" ry="4.2" fill="#231e4a" fill-opacity="1.00"/><ellipse cx="2302.5" cy="5.7" rx="1.2" ry="1.1" fill="#231e4a" fill-opacity="0.18"/><ellipse cx="2311.3" cy="15.1" rx="1.3" ry="1.1" fill="#231e4a" fill-opacity="0.18"/><ellipse cx="2320.5" cy="25.1" rx="1.3" ry="1.1" fill="#231e4a" fill-opacity="0.18"/><ellipse cx="2330.3" cy="35.6" rx="1.4" ry="1.2" fill="#231e4a" fill-opacity="0.18"/><ellipse cx="2340.7" cy="46.7" rx="1.4" ry="1.2" fill="#231e4a" fill-opacity="0.18"/><ellipse cx="2351.8" cy="58.6" rx="1.5" ry="1.3" fill="#231e4a" fill-opacity="0.19"/><ellipse cx="2363.5" cy="71.2" rx="1.6" ry="1.4" fill="#231e4a" fill-opacity="0.22"/><ellipse cx="2376.0" cy="84.6" rx="1.6" ry="1.4" fill="#231e4a" fill-opacity="0.24"/><ellipse cx="2389.4" cy="98.9" rx="1.7" ry="1.5" fill="#231e4a" fill-opacity="0.26"/><ellipse cx="2403.7" cy="114.3" rx="1.8" ry="1.6" fill="#231e4a" fill-opacity="0.29"/><ellipse cx="2419.0" cy="130.7" rx="1.9" ry="1.7" fill="#231e4a" fill-opacity="0.32"/><ellipse cx="2435.5" cy="148.4" rx="2.0" ry="1.8" fill="#231e4a" fill-opacity="0.35"/><ellipse cx="2453.3" cy="167.5" rx="2.2" ry="1.9" fill="#231e4a" fill-opacity="0.39"/><ellipse cx="2472.6" cy="188.2" rx="2.3" ry="2.0" fill="#231e4a" fill-opacity="0.43"/><ellipse cx="2493.5" cy="210.7" rx="2.4" ry="2.1" fill="#231e4a" fill-opacity="0.47"/><ellipse cx="2516.3" cy="235.1" rx="2.6" ry="2.3" fill="#231e4a" fill-opacity="0.52"/><ellipse cx="2541.2" cy="261.9" rx="2.8" ry="2.4" fill="#231e4a" fill-opacity="0.58"/><ellipse cx="2568.6" cy="291.2" rx="3.0" ry="2.6" fill="#231e4a" fill-opacity="0.64"/><ellipse cx="2598.8" cy="323.6" rx="3.2" ry="2.8" fill="#231e4a" fill-opacity="0.71"/><ellipse cx="2632.3" cy="359.6" rx="3.5" ry="3.1" fill="#231e4a" fill-opacity="0.79"/><ellipse cx="2669.6" cy="399.7" rx="3.8" ry="3.3" fill="#231e4a" fill-opacity="0.88"/><ellipse cx="2711.6" cy="444.6" rx="4.1" ry="3.6" fill="#231e4a" fill-opacity="0.99"/><ellipse cx="2758.9" cy="495.4" rx="4.6" ry="4.0" fill="#231e4a" fill-opacity="1.00"/><ellipse cx="2322.7" cy="7.4" rx="1.2" ry="1.1" fill="#231e4a" fill-opacity="0.18"/><ellipse cx="2332.2" cy="16.9" rx="1.3" ry="1.1" fill="#231e4a" fill-opacity="0.18"/><ellipse cx="2342.1" cy="27.0" rx="1.3" ry="1.2" fill="#231e4a" fill-opacity="0.18"/><ellipse cx="2352.7" cy="37.7" rx="1.4" ry="1.2" fill="#231e4a" fill-opacity="0.18"/><ellipse cx="2363.9" cy="49.1" rx="1.5" ry="1.3" fill="#231e4a" fill-opacity="0.18"/><ellipse cx="2375.8" cy="61.1" rx="1.5" ry="1.3" fill="#231e4a" fill-opacity="0.20"/><ellipse cx="2388.4" cy="74.0" rx="1.6" ry="1.4" fill="#231e4a" fill-opacity="0.22"/><ellipse cx="2402.0" cy="87.7" rx="1.7" ry="1.5" fill="#231e4a" fill-opacity="0.25"/><ellipse cx="2416.4" cy="102.3" rx="1.8" ry="1.5" fill="#231e4a" fill-opacity="0.27"/><ellipse cx="2431.9" cy="118.0" rx="1.9" ry="1.6" fill="#231e4a" fill-opacity="0.30"/><ellipse cx="2448.5" cy="134.9" rx="2.0" ry="1.7" fill="#231e4a" fill-opacity="0.33"/><ellipse cx="2466.4" cy="153.0" rx="2.1" ry="1.8" fill="#231e4a" fill-opacity="0.37"/><ellipse cx="2485.8" cy="172.7" rx="2.2" ry="1.9" fill="#231e4a" fill-opacity="0.41"/><ellipse cx="2506.8" cy="193.9" rx="2.3" ry="2.1" fill="#231e4a" fill-opacity="0.45"/><ellipse cx="2529.5" cy="217.0" rx="2.5" ry="2.2" fill="#231e4a" fill-opacity="0.49"/><ellipse cx="2554.4" cy="242.2" rx="2.7" ry="2.3" fill="#231e4a" fill-opacity="0.55"/><ellipse cx="2581.7" cy="269.8" rx="2.9" ry="2.5" fill="#231e4a" fill-opacity="0.60"/><ellipse cx="2611.6" cy="300.2" rx="3.1" ry="2.7" fill="#231e4a" fill-opacity="0.67"/><ellipse cx="2644.8" cy="333.8" rx="3.3" ry="2.9" fill="#231e4a" fill-opacity="0.74"/><ellipse cx="2681.6" cy="371.2" rx="3.6" ry="3.2" fill="#231e4a" fill-opacity="0.83"/><ellipse cx="2722.8" cy="412.9" rx="3.9" ry="3.5" fill="#231e4a" fill-opacity="0.92"/><ellipse cx="2343.4" cy="9.0" rx="1.2" ry="1.1" fill="#231e4a" fill-opacity="0.18"/><ellipse cx="2353.5" cy="18.7" rx="1.3" ry="1.1" fill="#231e4a" fill-opacity="0.18"/><ellipse cx="2364.2" cy="29.0" rx="1.4" ry="1.2" fill="#231e4a" fill-opacity="0.18"/><ellipse cx="2375.6" cy="39.9" rx="1.4" ry="1.2" fill="#231e4a" fill-opacity="0.18"/><ellipse cx="2387.6" cy="51.5" rx="1.5" ry="1.3" fill="#231e4a" fill-opacity="0.19"/><ellipse cx="2400.4" cy="63.8" rx="1.6" ry="1.4" fill="#231e4a" fill-opacity="0.21"/><ellipse cx="2414.1" cy="76.9" rx="1.6" ry="1.4" fill="#231e4a" fill-opacity="0.23"/><ellipse cx="2428.7" cy="90.9" rx="1.7" ry="1.5" fill="#231e4a" fill-opacity="0.26"/><ellipse cx="2444.3" cy="105.8" rx="1.8" ry="1.6" fill="#231e4a" fill-opacity="0.29"/><ellipse cx="2461.0" cy="121.9" rx="1.9" ry="1.7" fill="#231e4a" fill-opacity="0.32"/><ellipse cx="2479.0" cy="139.2" rx="2.0" ry="1.8" fill="#231e4a" fill-opacity="0.35"/><ellipse cx="2498.4" cy="157.8" rx="2.1" ry="1.9" fill="#231e4a" fill-opacity="0.38"/><ellipse cx="2519.4" cy="177.9" rx="2.3" ry="2.0" fill="#231e4a" fill-opacity="0.42"/><ellipse cx="2542.1" cy="199.8" rx="2.4" ry="2.1" fill="#231e4a" fill-opacity="0.47"/><ellipse cx="2566.9" cy="223.6" rx="2.6" ry="2.3" fill="#231e4a" fill-opacity="0.51"/><ellipse cx="2594.0" cy="249.6" rx="2.8" ry="2.4" fill="#231e4a" fill-opacity="0.57"/><ellipse cx="2623.8" cy="278.2" rx="3.0" ry="2.6" fill="#231e4a" fill-opacity="0.63"/><ellipse cx="2656.5" cy="309.6" rx="3.2" ry="2.8" fill="#231e4a" fill-opacity="0.70"/><ellipse cx="2692.9" cy="344.5" rx="3.4" ry="3.0" fill="#231e4a" fill-opacity="0.78"/><ellipse cx="2733.3" cy="383.3" rx="3.7" ry="3.3" fill="#231e4a" fill-opacity="0.86"/><ellipse cx="2354.3" cy="1.3" rx="1.2" ry="1.1" fill="#231e4a" fill-opacity="0.18"/><ellipse cx="2364.6" cy="10.7" rx="1.3" ry="1.1" fill="#231e4a" fill-opacity="0.18"/><ellipse cx="2375.4" cy="20.6" rx="1.3" ry="1.2" fill="#231e4a" fill-opacity="0.18"/><ellipse cx="2386.9" cy="31.0" rx="1.4" ry="1.2" fill="#231e4a" fill-opacity="0.18"/><ellipse cx="2399.1" cy="42.1" rx="1.4" ry="1.3" fill="#231e4a" fill-opacity="0.18"/><ellipse cx="2412.0" cy="53.9" rx="1.5" ry="1.3" fill="#231e4a" fill-opacity="0.20"/><ellipse cx="2425.8" cy="66.5" rx="1.6" ry="1.4" fill="#231e4a" fill-opacity="0.22"/><ellipse cx="2440.4" cy="79.8" rx="1.7" ry="1.5" fill="#231e4a" fill-opacity="0.24"/><ellipse cx="2456.1" cy="94.1" rx="1.7" ry="1.5" fill="#231e4a" fill-opacity="0.27"/><ellipse cx="2472.9" cy="109.4" rx="1.8" ry="1.6" fill="#231e4a" fill-opacity="0.30"/><ellipse cx="2491.0" cy="125.9" rx="1.9" ry="1.7" fill="#231e4a" fill-opacity="0.33"/><ellipse cx="2510.4" cy="143.6" rx="2.1" ry="1.8" fill="#231e4a" fill-opacity="0.36"/><ellipse cx="2531.4" cy="162.7" rx="2.2" ry="1.9" fill="#231e4a" fill-opacity="0.40"/><ellipse cx="2554.1" cy="183.4" rx="2.3" ry="2.0" fill="#231e4a" fill-opacity="0.44"/><ellipse cx="2578.8" cy="205.9" rx="2.5" ry="2.2" fill="#231e4a" fill-opacity="0.49"/><ellipse cx="2605.7" cy="230.4" rx="2.6" ry="2.3" fill="#231e4a" fill-opacity="0.54"/><ellipse cx="2635.2" cy="257.3" rx="2.8" ry="2.5" fill="#231e4a" fill-opacity="0.59"/><ellipse cx="2667.6" cy="286.8" rx="3.0" ry="2.7" fill="#231e4a" fill-opacity="0.66"/><ellipse cx="2703.4" cy="319.4" rx="3.3" ry="2.9" fill="#231e4a" fill-opacity="0.73"/><ellipse cx="2743.2" cy="355.7" rx="3.6" ry="3.1" fill="#231e4a" fill-opacity="0.81"/><ellipse cx="2375.2" cy="2.9" rx="1.2" ry="1.1" fill="#231e4a" fill-opacity="0.18"/><ellipse cx="2386.2" cy="12.4" rx="1.3" ry="1.1" fill="#231e4a" fill-opacity="0.18"/><ellipse cx="2397.8" cy="22.5" rx="1.3" ry="1.2" fill="#231e4a" fill-opacity="0.18"/><ellipse cx="2410.1" cy="33.1" rx="1.4" ry="1.2" fill="#231e4a" fill-opacity="0.18"/><ellipse cx="2423.1" cy="44.4" rx="1.5" ry="1.3" fill="#231e4a" fill-opacity="0.19"/><ellipse cx="2437.0" cy="56.4" rx="1.5" ry="1.3" fill="#231e4a" fill-opacity="0.21"/><ellipse cx="2451.8" cy="69.2" rx="1.6" ry="1.4" fill="#231e4a" fill-opacity="0.23"/><ellipse cx="2467.6" cy="82.9" rx="1.7" ry="1.5" fill="#231e4a" fill-opacity="0.26"/><ellipse cx="2484.4" cy="97.5" rx="1.8" ry="1.6" fill="#231e4a" fill-opacity="0.28"/><ellipse cx="2502.5" cy="113.2" rx="1.9" ry="1.7" fill="#231e4a" fill-opacity="0.31"/><ellipse cx="2521.9" cy="130.0" rx="2.0" ry="1.7" fill="#231e4a" fill-opacity="0.34"/><ellipse cx="2542.9" cy="148.2" rx="2.1" ry="1.8" fill="#231e4a" fill-opacity="0.38"/><ellipse cx="2565.6" cy="167.8" rx="2.2" ry="2.0" fill="#231e4a" fill-opacity="0.42"/><ellipse cx="2590.1" cy="189.1" rx="2.4" ry="2.1" fill="#231e4a" fill-opacity="0.46"/><ellipse cx="2616.9" cy="212.2" rx="2.5" ry="2.2" fill="#231e4a" fill-opacity="0.51"/><ellipse cx="2646.0" cy="237.5" rx="2.7" ry="2.4" fill="#231e4a" fill-opacity="0.56"/><ellipse cx="2678.1" cy="265.3" rx="2.9" ry="2.6" fill="#231e4a" fill-opacity="0.62"/><ellipse cx="2713.3" cy="295.8" rx="3.1" ry="2.8" fill="#231e4a" fill-opacity="0.69"/><ellipse cx="2752.4" cy="329.7" rx="3.4" ry="3.0" fill="#231e4a" fill-opacity="0.76"/><ellipse cx="2396.7" cy="4.5" rx="1.3" ry="1.1" fill="#231e4a" fill-opacity="0.18"/><ellipse cx="2408.4" cy="14.2" rx="1.3" ry="1.1" fill="#231e4a" fill-opacity="0.18"/><ellipse cx="2420.8" cy="24.4" rx="1.4" ry="1.2" fill="#231e4a" fill-opacity="0.18"/><ellipse cx="2433.9" cy="35.3" rx="1.4" ry="1.3" fill="#231e4a" fill-opacity="0.18"/><ellipse cx="2447.9" cy="46.8" rx="1.5" ry="1.3" fill="#231e4a" fill-opacity="0.20"/><ellipse cx="2462.7" cy="59.0" rx="1.6" ry="1.4" fill="#231e4a" fill-opacity="0.22"/><ellipse cx="2478.5" cy="72.1" rx="1.6" ry="1.4" fill="#231e4a" fill-opacity="0.24"/><ellipse cx="2495.4" cy="86.0" rx="1.7" ry="1.5" fill="#231e4a" fill-opacity="0.27"/><ellipse cx="2513.5" cy="101.0" rx="1.8" ry="1.6" fill="#231e4a" fill-opacity="0.29"/><ellipse cx="2533.0" cy="117.0" rx="1.9" ry="1.7" fill="#231e4a" fill-opacity="0.32"/><ellipse cx="2553.9" cy="134.3" rx="2.0" ry="1.8" fill="#231e4a" fill-opacity="0.36"/><ellipse cx="2576.5" cy="152.9" rx="2.2" ry="1.9" fill="#231e4a" fill-opacity="0.39"/><ellipse cx="2600.9" cy="173.1" rx="2.3" ry="2.0" fill="#231e4a" fill-opacity="0.43"/><ellipse cx="2627.4" cy="195.0" rx="2.4" ry="2.1" fill="#231e4a" fill-opacity="0.48"/><ellipse cx="2656.3" cy="218.8" rx="2.6" ry="2.3" fill="#231e4a" fill-opacity="0.53"/><ellipse cx="2688.0" cy="244.9" rx="2.8" ry="2.5" fill="#231e4a" fill-opacity="0.58"/><ellipse cx="2722.7" cy="273.6" rx="3.0" ry="2.6" fill="#231e4a" fill-opacity="0.65"/><ellipse cx="2761.1" cy="305.3" rx="3.2" ry="2.8" fill="#231e4a" fill-opacity="0.72"/><ellipse cx="2418.6" cy="6.2" rx="1.3" ry="1.1" fill="#231e4a" fill-opacity="0.18"/><ellipse cx="2431.1" cy="16.0" rx="1.3" ry="1.2" fill="#231e4a" fill-opacity="0.18"/><ellipse cx="2444.3" cy="26.4" rx="1.4" ry="1.2" fill="#231e4a" fill-opacity="0.18"/><ellipse cx="2458.3" cy="37.4" rx="1.5" ry="1.3" fill="#231e4a" fill-opacity="0.18"/><ellipse cx="2473.2" cy="49.2" rx="1.5" ry="1.3" fill="#231e4a" fill-opacity="0.20"/><ellipse cx="2489.1" cy="61.7" rx="1.6" ry="1.4" fill="#231e4a" fill-opacity="0.23"/><ellipse cx="2506.0" cy="75.0" rx="1.7" ry="1.5" fill="#231e4a" fill-opacity="0.25"/><ellipse cx="2524.1" cy="89.3" rx="1.8" ry="1.6" fill="#231e4a" fill-opacity="0.28"/><ellipse cx="2543.5" cy="104.6" rx="1.9" ry="1.6" fill="#231e4a" fill-opacity="0.31"/><ellipse cx="2564.4" cy="121.0" rx="2.0" ry="1.7" fill="#231e4a" fill-opacity="0.34"/><ellipse cx="2586.9" cy="138.7" rx="2.1" ry="1.8" fill="#231e4a" fill-opacity="0.37"/><ellipse cx="2611.1" cy="157.8" rx="2.2" ry="1.9" fill="#231e4a" fill-opacity="0.41"/><ellipse cx="2637.5" cy="178.5" rx="2.4" ry="2.1" fill="#231e4a" fill-opacity="0.45"/><ellipse cx="2666.1" cy="201.0" rx="2.5" ry="2.2" fill="#231e4a" fill-opacity="0.50"/><ellipse cx="2697.3" cy="225.6" rx="2.7" ry="2.4" fill="#231e4a" fill-opacity="0.55"/><ellipse cx="2731.6" cy="252.6" rx="2.9" ry="2.5" fill="#231e4a" fill-opacity="0.61"/><ellipse cx="2441.1" cy="7.9" rx="1.3" ry="1.1" fill="#231e4a" fill-opacity="0.18"/><ellipse cx="2454.3" cy="17.8" rx="1.4" ry="1.2" fill="#231e4a" fill-opacity="0.18"/><ellipse cx="2468.4" cy="28.4" rx="1.4" ry="1.2" fill="#231e4a" fill-opacity="0.18"/><ellipse cx="2483.4" cy="39.7" rx="1.5" ry="1.3" fill="#231e4a" fill-opacity="0.19"/><ellipse cx="2499.3" cy="51.7" rx="1.6" ry="1.4" fill="#231e4a" fill-opacity="0.21"/><ellipse cx="2516.2" cy="64.4" rx="1.6" ry="1.4" fill="#231e4a" fill-opacity="0.24"/><ellipse cx="2534.3" cy="78.0" rx="1.7" ry="1.5" fill="#231e4a" fill-opacity="0.26"/><ellipse cx="2553.7" cy="92.6" rx="1.8" ry="1.6" fill="#231e4a" fill-opacity="0.29"/><ellipse cx="2574.5" cy="108.2" rx="1.9" ry="1.7" fill="#231e4a" fill-opacity="0.32"/><ellipse cx="2596.8" cy="125.1" rx="2.0" ry="1.8" fill="#231e4a" fill-opacity="0.35"/><ellipse cx="2620.9" cy="143.2" rx="2.1" ry="1.9" fill="#231e4a" fill-opacity="0.39"/><ellipse cx="2647.0" cy="162.8" rx="2.3" ry="2.0" fill="#231e4a" fill-opacity="0.43"/><ellipse cx="2675.3" cy="184.1" rx="2.4" ry="2.1" fill="#231e4a" fill-opacity="0.47"/><ellipse cx="2706.2" cy="207.4" rx="2.6" ry="2.3" fill="#231e4a" fill-opacity="0.52"/><ellipse cx="2739.9" cy="232.7" rx="2.8" ry="2.4" fill="#231e4a" fill-opacity="0.57"/><ellipse cx="2464.1" cy="9.6" rx="1.3" ry="1.2" fill="#231e4a" fill-opacity="0.18"/><ellipse cx="2478.2" cy="19.7" rx="1.4" ry="1.2" fill="#231e4a" fill-opacity="0.18"/><ellipse cx="2493.2" cy="30.5" rx="1.4" ry="1.3" fill="#231e4a" fill-opacity="0.18"/><ellipse cx="2509.1" cy="42.0" rx="1.5" ry="1.3" fill="#231e4a" fill-opacity="0.20"/><ellipse cx="2526.0" cy="54.2" rx="1.6" ry="1.4" fill="#231e4a" fill-opacity="0.22"/><ellipse cx="2544.1" cy="67.2" rx="1.7" ry="1.5" fill="#231e4a" fill-opacity="0.25"/><ellipse cx="2563.4" cy="81.1" rx="1.8" ry="1.5" fill="#231e4a" fill-opacity="0.27"/><ellipse cx="2584.1" cy="96.0" rx="1.9" ry="1.6" fill="#231e4a" fill-opacity="0.30"/><ellipse cx="2606.3" cy="112.0" rx="2.0" ry="1.7" fill="#231e4a" fill-opacity="0.33"/><ellipse cx="2630.3" cy="129.3" rx="2.1" ry="1.8" fill="#231e4a" fill-opacity="0.37"/><ellipse cx="2656.2" cy="147.9" rx="2.2" ry="1.9" fill="#231e4a" fill-opacity="0.40"/><ellipse cx="2684.2" cy="168.1" rx="2.3" ry="2.0" fill="#231e4a" fill-opacity="0.45"/><ellipse cx="2714.6" cy="190.0" rx="2.5" ry="2.2" fill="#231e4a" fill-opacity="0.49"/><ellipse cx="2747.8" cy="213.9" rx="2.7" ry="2.3" fill="#231e4a" fill-opacity="0.54"/><ellipse cx="2473.4" cy="1.6" rx="1.3" ry="1.1" fill="#231e4a" fill-opacity="0.18"/><ellipse cx="2487.6" cy="11.3" rx="1.4" ry="1.2" fill="#231e4a" fill-opacity="0.18"/><ellipse cx="2502.6" cy="21.7" rx="1.4" ry="1.2" fill="#231e4a" fill-opacity="0.18"/><ellipse cx="2518.5" cy="32.7" rx="1.5" ry="1.3" fill="#231e4a" fill-opacity="0.19"/><ellipse cx="2535.5" cy="44.4" rx="1.5" ry="1.4" fill="#231e4a" fill-opacity="0.21"/><ellipse cx="2553.5" cy="56.8" rx="1.6" ry="1.4" fill="#231e4a" fill-opacity="0.23"/><ellipse cx="2572.8" cy="70.1" rx="1.7" ry="1.5" fill="#231e4a" fill-opacity="0.26"/><ellipse cx="2593.4" cy="84.3" rx="1.8" ry="1.6" fill="#231e4a" fill-opacity="0.28"/><ellipse cx="2615.5" cy="99.6" rx="1.9" ry="1.7" fill="#231e4a" fill-opacity="0.31"/><ellipse cx="2639.2" cy="116.0" rx="2.0" ry="1.8" fill="#231e4a" fill-opacity="0.35"/><ellipse cx="2664.9" cy="133.6" rx="2.1" ry="1.9" fill="#231e4a" fill-opacity="0.38"/><ellipse cx="2692.6" cy="152.8" rx="2.3" ry="2.0" fill="#231e4a" fill-opacity="0.42"/><ellipse cx="2722.6" cy="173.5" rx="2.4" ry="2.1" fill="#231e4a" fill-opacity="0.46"/><ellipse cx="2755.4" cy="196.1" rx="2.6" ry="2.2" fill="#231e4a" fill-opacity="0.51"/><ellipse cx="2496.7" cy="3.2" rx="1.3" ry="1.2" fill="#231e4a" fill-opacity="0.18"/><ellipse cx="2511.7" cy="13.2" rx="1.4" ry="1.2" fill="#231e4a" fill-opacity="0.18"/><ellipse cx="2527.7" cy="23.7" rx="1.4" ry="1.3" fill="#231e4a" fill-opacity="0.18"/><ellipse cx="2544.6" cy="34.9" rx="1.5" ry="1.3" fill="#231e4a" fill-opacity="0.20"/><ellipse cx="2562.6" cy="46.8" rx="1.6" ry="1.4" fill="#231e4a" fill-opacity="0.22"/><ellipse cx="2581.8" cy="59.5" rx="1.7" ry="1.5" fill="#231e4a" fill-opacity="0.24"/><ellipse cx="2602.3" cy="73.1" rx="1.7" ry="1.5" fill="#231e4a" fill-opacity="0.27"/><ellipse cx="2624.2" cy="87.6" rx="1.8" ry="1.6" fill="#231e4a" fill-opacity="0.30"/><ellipse cx="2647.8" cy="103.2" rx="1.9" ry="1.7" fill="#231e4a" fill-opacity="0.33"/><ellipse cx="2673.2" cy="120.0" rx="2.1" ry="1.8" fill="#231e4a" fill-opacity="0.36"/><ellipse cx="2700.6" cy="138.1" rx="2.2" ry="1.9" fill="#231e4a" fill-opacity="0.40"/><ellipse cx="2730.3" cy="157.8" rx="2.3" ry="2.0" fill="#231e4a" fill-opacity="0.44"/><ellipse cx="2762.5" cy="179.1" rx="2.5" ry="2.2" fill="#231e4a" fill-opacity="0.48"/><ellipse cx="2520.6" cy="4.9" rx="1.3" ry="1.2" fill="#231e4a" fill-opacity="0.18"/><ellipse cx="2536.5" cy="15.0" rx="1.4" ry="1.2" fill="#231e4a" fill-opacity="0.18"/><ellipse cx="2553.4" cy="25.7" rx="1.5" ry="1.3" fill="#231e4a" fill-opacity="0.19"/><ellipse cx="2571.3" cy="37.1" rx="1.5" ry="1.3" fill="#231e4a" fill-opacity="0.21"/><ellipse cx="2590.4" cy="49.3" rx="1.6" ry="1.4" fill="#231e4a" fill-opacity="0.23"/><ellipse cx="2610.8" cy="62.3" rx="1.7" ry="1.5" fill="#231e4a" fill-opacity="0.25"/><ellipse cx="2632.6" cy="76.1" rx="1.8" ry="1.6" fill="#231e4a" fill-opacity="0.28"/><ellipse cx="2656.0" cy="91.0" rx="1.9" ry="1.6" fill="#231e4a" fill-opacity="0.31"/><ellipse cx="2681.2" cy="107.0" rx="2.0" ry="1.7" fill="#231e4a" fill-opacity="0.34"/><ellipse cx="2708.3" cy="124.2" rx="2.1" ry="1.8" fill="#231e4a" fill-opacity="0.38"/><ellipse cx="2737.5" cy="142.8" rx="2.2" ry="2.0" fill="#231e4a" fill-opacity="0.41"/><ellipse cx="2545.0" cy="6.6" rx="1.4" ry="1.2" fill="#231e4a" fill-opacity="0.18"/><ellipse cx="2561.8" cy="16.9" rx="1.4" ry="1.3" fill="#231e4a" fill-opacity="0.18"/><ellipse cx="2579.7" cy="27.8" rx="1.5" ry="1.3" fill="#231e4a" fill-opacity="0.19"/><ellipse cx="2598.7" cy="39.5" rx="1.6" ry="1.4" fill="#231e4a" fill-opacity="0.22"/><ellipse cx="2619.0" cy="51.9" rx="1.6" ry="1.4" fill="#231e4a" fill-opacity="0.24"/><ellipse cx="2640.7" cy="65.1" rx="1.7" ry="1.5" fill="#231e4a" fill-opacity="0.26"/><ellipse cx="2663.9" cy="79.3" rx="1.8" ry="1.6" fill="#231e4a" fill-opacity="0.29"/><ellipse cx="2688.8" cy="94.5" rx="1.9" ry="1.7" fill="#231e4a" fill-opacity="0.32"/><ellipse cx="2715.6" cy="110.8" rx="2.0" ry="1.8" fill="#231e4a" fill-opacity="0.36"/><ellipse cx="2744.5" cy="128.5" rx="2.2" ry="1.9" fill="#231e4a" fill-opacity="0.39"/><ellipse cx="2570.0" cy="8.4" rx="1.4" ry="1.2" fill="#231e4a" fill-opacity="0.18"/><ellipse cx="2587.8" cy="18.9" rx="1.5" ry="1.3" fill="#231e4a" fill-opacity="0.18"/><ellipse cx="2606.8" cy="30.0" rx="1.5" ry="1.3" fill="#231e4a" fill-opacity="0.20"/><ellipse cx="2626.9" cy="41.9" rx="1.6" ry="1.4" fill="#231e4a" fill-opacity="0.23"/><ellipse cx="2648.4" cy="54.5" rx="1.7" ry="1.5" fill="#231e4a" fill-opacity="0.25"/><ellipse cx="2671.4" cy="68.0" rx="1.8" ry="1.5" fill="#231e4a" fill-opacity="0.28"/><ellipse cx="2696.1" cy="82.5" rx="1.9" ry="1.6" fill="#231e4a" fill-opacity="0.30"/><ellipse cx="2722.6" cy="98.1" rx="2.0" ry="1.7" fill="#231e4a" fill-opacity="0.34"/><ellipse cx="2751.1" cy="114.8" rx="2.1" ry="1.8" fill="#231e4a" fill-opacity="0.37"/><ellipse cx="2577.9" cy="0.2" rx="1.4" ry="1.2" fill="#231e4a" fill-opacity="0.18"/><ellipse cx="2595.7" cy="10.2" rx="1.4" ry="1.2" fill="#231e4a" fill-opacity="0.18"/><ellipse cx="2614.5" cy="20.9" rx="1.5" ry="1.3" fill="#231e4a" fill-opacity="0.19"/><ellipse cx="2634.6" cy="32.2" rx="1.6" ry="1.4" fill="#231e4a" fill-opacity="0.21"/><ellipse cx="2655.9" cy="44.3" rx="1.6" ry="1.4" fill="#231e4a" fill-opacity="0.24"/><ellipse cx="2678.7" cy="57.2" rx="1.7" ry="1.5" fill="#231e4a" fill-opacity="0.26"/><ellipse cx="2703.1" cy="71.0" rx="1.8" ry="1.6" fill="#231e4a" fill-opacity="0.29"/><ellipse cx="2729.3" cy="85.9" rx="1.9" ry="1.7" fill="#231e4a" fill-opacity="0.32"/><ellipse cx="2757.4" cy="101.8" rx="2.0" ry="1.8" fill="#231e4a" fill-opacity="0.35"/><ellipse cx="2603.2" cy="1.8" rx="1.4" ry="1.2" fill="#231e4a" fill-opacity="0.18"/><ellipse cx="2622.0" cy="12.1" rx="1.4" ry="1.3" fill="#231e4a" fill-opacity="0.18"/><ellipse cx="2641.9" cy="22.9" rx="1.5" ry="1.3" fill="#231e4a" fill-opacity="0.20"/><ellipse cx="2663.1" cy="34.5" rx="1.6" ry="1.4" fill="#231e4a" fill-opacity="0.22"/><ellipse cx="2685.7" cy="46.8" rx="1.7" ry="1.5" fill="#231e4a" fill-opacity="0.25"/><ellipse cx="2709.8" cy="60.0" rx="1.8" ry="1.5" fill="#231e4a" fill-opacity="0.27"/><ellipse cx="2735.7" cy="74.1" rx="1.8" ry="1.6" fill="#231e4a" fill-opacity="0.30"/><ellipse cx="2763.5" cy="89.3" rx="2.0" ry="1.7" fill="#231e4a" fill-opacity="0.33"/><ellipse cx="2629.2" cy="3.6" rx="1.4" ry="1.2" fill="#231e4a" fill-opacity="0.18"/><ellipse cx="2649.0" cy="14.0" rx="1.5" ry="1.3" fill="#231e4a" fill-opacity="0.19"/><ellipse cx="2670.0" cy="25.0" rx="1.5" ry="1.4" fill="#231e4a" fill-opacity="0.21"/><ellipse cx="2692.4" cy="36.8" rx="1.6" ry="1.4" fill="#231e4a" fill-opacity="0.23"/><ellipse cx="2716.3" cy="49.4" rx="1.7" ry="1.5" fill="#231e4a" fill-opacity="0.26"/><ellipse cx="2741.9" cy="62.9" rx="1.8" ry="1.6" fill="#231e4a" fill-opacity="0.28"/><ellipse cx="2655.8" cy="5.3" rx="1.4" ry="1.3" fill="#231e4a" fill-opacity="0.18"/><ellipse cx="2676.7" cy="15.9" rx="1.5" ry="1.3" fill="#231e4a" fill-opacity="0.20"/><ellipse cx="2698.9" cy="27.2" rx="1.6" ry="1.4" fill="#231e4a" fill-opacity="0.22"/><ellipse cx="2722.5" cy="39.2" rx="1.7" ry="1.4" fill="#231e4a" fill-opacity="0.24"/><ellipse cx="2747.8" cy="52.1" rx="1.7" ry="1.5" fill="#231e4a" fill-opacity="0.27"/><ellipse cx="2683.1" cy="7.1" rx="1.5" ry="1.3" fill="#231e4a" fill-opacity="0.19"/><ellipse cx="2705.1" cy="17.9" rx="1.5" ry="1.3" fill="#231e4a" fill-opacity="0.21"/><ellipse cx="2728.5" cy="29.4" rx="1.6" ry="1.4" fill="#231e4a" fill-opacity="0.23"/><ellipse cx="2753.5" cy="41.7" rx="1.7" ry="1.5" fill="#231e4a" fill-opacity="0.25"/><ellipse cx="2711.1" cy="9.0" rx="1.5" ry="1.3" fill="#231e4a" fill-opacity="0.19"/><ellipse cx="2734.3" cy="20.0" rx="1.6" ry="1.4" fill="#231e4a" fill-opacity="0.22"/><ellipse cx="2759.0" cy="31.7" rx="1.6" ry="1.4" fill="#231e4a" fill-opacity="0.24"/><ellipse cx="2716.9" cy="0.4" rx="1.5" ry="1.3" fill="#231e4a" fill-opacity="0.18"/><ellipse cx="2739.8" cy="10.9" rx="1.5" ry="1.3" fill="#231e4a" fill-opacity="0.20"/><ellipse cx="2764.3" cy="22.1" rx="1.6" ry="1.4" fill="#231e4a" fill-opacity="0.22"/><ellipse cx="2745.2" cy="2.1" rx="1.5" ry="1.3" fill="#231e4a" fill-opacity="0.19"/></g>
<g clip-path="url(#hcr)" filter="url(#hb)"><ellipse cx="1854.1" cy="2.7" rx="1.2" ry="1.0" fill="#231e4a" fill-opacity="0.18"/><ellipse cx="1835.7" cy="9.9" rx="1.2" ry="1.1" fill="#231e4a" fill-opacity="0.18"/><ellipse cx="1870.3" cy="5.6" rx="1.2" ry="1.1" fill="#231e4a" fill-opacity="0.18"/><ellipse cx="1852.0" cy="12.9" rx="1.2" ry="1.1" fill="#231e4a" fill-opacity="0.18"/><ellipse cx="1833.0" cy="20.3" rx="1.3" ry="1.1" fill="#231e4a" fill-opacity="0.18"/><ellipse cx="1904.5" cy="1.4" rx="1.2" ry="1.0" fill="#231e4a" fill-opacity="0.18"/><ellipse cx="1886.8" cy="8.5" rx="1.2" ry="1.1" fill="#231e4a" fill-opacity="0.18"/><ellipse cx="1868.6" cy="15.9" rx="1.2" ry="1.1" fill="#231e4a" fill-opacity="0.18"/><ellipse cx="1849.7" cy="23.5" rx="1.3" ry="1.1" fill="#231e4a" fill-opacity="0.18"/><ellipse cx="1830.2" cy="31.4" rx="1.3" ry="1.2" fill="#231e4a" fill-opacity="0.18"/><ellipse cx="1921.2" cy="4.2" rx="1.2" ry="1.1" fill="#231e4a" fill-opacity="0.18"/><ellipse cx="1903.6" cy="11.5" rx="1.2" ry="1.1" fill="#231e4a" fill-opacity="0.18"/><ellipse cx="1885.5" cy="19.0" rx="1.3" ry="1.1" fill="#231e4a" fill-opacity="0.18"/><ellipse cx="1866.7" cy="26.7" rx="1.3" ry="1.1" fill="#231e4a" fill-opacity="0.18"/><ellipse cx="1847.3" cy="34.7" rx="1.3" ry="1.2" fill="#231e4a" fill-opacity="0.18"/><ellipse cx="1827.2" cy="43.0" rx="1.4" ry="1.2" fill="#231e4a" fill-opacity="0.18"/><ellipse cx="1955.0" cy="0.0" rx="1.2" ry="1.0" fill="#231e4a" fill-opacity="0.18"/><ellipse cx="1938.2" cy="7.2" rx="1.2" ry="1.1" fill="#231e4a" fill-opacity="0.18"/><ellipse cx="1920.7" cy="14.5" rx="1.3" ry="1.1" fill="#231e4a" fill-opacity="0.18"/><ellipse cx="1902.7" cy="22.1" rx="1.3" ry="1.1" fill="#231e4a" fill-opacity="0.18"/><ellipse cx="1884.1" cy="30.0" rx="1.3" ry="1.2" fill="#231e4a" fill-opacity="0.18"/><ellipse cx="1864.8" cy="38.1" rx="1.4" ry="1.2" fill="#231e4a" fill-opacity="0.18"/><ellipse cx="1844.8" cy="46.6" rx="1.4" ry="1.2" fill="#231e4a" fill-opacity="0.18"/><ellipse cx="1972.2" cy="2.9" rx="1.2" ry="1.1" fill="#231e4a" fill-opacity="0.18"/><ellipse cx="1955.5" cy="10.1" rx="1.2" ry="1.1" fill="#231e4a" fill-opacity="0.18"/><ellipse cx="1938.2" cy="17.6" rx="1.3" ry="1.1" fill="#231e4a" fill-opacity="0.18"/><ellipse cx="1920.3" cy="25.3" rx="1.3" ry="1.1" fill="#231e4a" fill-opacity="0.18"/><ellipse cx="1901.8" cy="33.3" rx="1.3" ry="1.2" fill="#231e4a" fill-opacity="0.18"/><ellipse cx="1882.6" cy="41.6" rx="1.4" ry="1.2" fill="#231e4a" fill-opacity="0.18"/><ellipse cx="1862.7" cy="50.2" rx="1.4" ry="1.2" fill="#231e4a" fill-opacity="0.18"/><ellipse cx="1842.1" cy="59.1" rx="1.4" ry="1.3" fill="#231e4a" fill-opacity="0.18"/><ellipse cx="1989.6" cy="5.8" rx="1.2" ry="1.1" fill="#231e4a" fill-opacity="0.18"/><ellipse cx="1973.1" cy="13.1" rx="1.3" ry="1.1" fill="#231e4a" fill-opacity="0.18"/><ellipse cx="1955.9" cy="20.7" rx="1.3" ry="1.1" fill="#231e4a" fill-opacity="0.18"/><ellipse cx="1938.2" cy="28.6" rx="1.3" ry="1.2" fill="#231e4a" fill-opacity="0.18"/><ellipse cx="1919.8" cy="36.7" rx="1.4" ry="1.2" fill="#231e4a" fill-opacity="0.18"/><ellipse cx="1900.8" cy="45.2" rx="1.4" ry="1.2" fill="#231e4a" fill-opacity="0.18"/><ellipse cx="1881.0" cy="53.9" rx="1.4" ry="1.3" fill="#231e4a" fill-opacity="0.18"/><ellipse cx="1860.6" cy="63.0" rx="1.5" ry="1.3" fill="#231e4a" fill-opacity="0.19"/><ellipse cx="1839.3" cy="72.4" rx="1.5" ry="1.3" fill="#231e4a" fill-opacity="0.20"/><ellipse cx="2023.3" cy="1.5" rx="1.2" ry="1.1" fill="#231e4a" fill-opacity="0.18"/><ellipse cx="2007.4" cy="8.7" rx="1.2" ry="1.1" fill="#231e4a" fill-opacity="0.18"/><ellipse cx="1991.0" cy="16.2" rx="1.3" ry="1.1" fill="#231e4a" fill-opacity="0.18"/><ellipse cx="1974.0" cy="23.9" rx="1.3" ry="1.1" fill="#231e4a" fill-opacity="0.18"/><ellipse cx="1956.4" cy="31.9" rx="1.3" ry="1.2" fill="#231e4a" fill-opacity="0.18"/><ellipse cx="1938.2" cy="40.2" rx="1.4" ry="1.2" fill="#231e4a" fill-opacity="0.18"/><ellipse cx="1919.3" cy="48.8" rx="1.4" ry="1.2" fill="#231e4a" fill-opacity="0.18"/><ellipse cx="1899.7" cy="57.7" rx="1.5" ry="1.3" fill="#231e4a" fill-opacity="0.18"/><ellipse cx="1879.4" cy="66.9" rx="1.5" ry="1.3" fill="#231e4a" fill-opacity="0.20"/><ellipse cx="1858.3" cy="76.5" rx="1.5" ry="1.3" fill="#231e4a" fill-opacity="0.21"/><ellipse cx="1836.3" cy="86.5" rx="1.6" ry="1.4" fill="#231e4a" fill-opacity="0.22"/><ellipse cx="2041.3" cy="4.4" rx="1.2" ry="1.1" fill="#231e4a" fill-opacity="0.18"/><ellipse cx="2025.6" cy="11.7" rx="1.3" ry="1.1" fill="#231e4a" fill-opacity="0.18"/><ellipse cx="2009.3" cy="19.3" rx="1.3" ry="1.1" fill="#231e4a" fill-opacity="0.18"/><ellipse cx="1992.5" cy="27.2" rx="1.3" ry="1.2" fill="#231e4a" fill-opacity="0.18"/><ellipse cx="1975.0" cy="35.3" rx="1.4" ry="1.2" fill="#231e4a" fill-opacity="0.18"/><ellipse cx="1957.0" cy="43.7" rx="1.4" ry="1.2" fill="#231e4a" fill-opacity="0.18"/><ellipse cx="1938.2" cy="52.5" rx="1.4" ry="1.3" fill="#231e4a" fill-opacity="0.18"/><ellipse cx="1918.8" cy="61.6" rx="1.5" ry="1.3" fill="#231e4a" fill-opacity="0.19"/><ellipse cx="1898.6" cy="71.0" rx="1.5" ry="1.3" fill="#231e4a" fill-opacity="0.20"/><ellipse cx="1877.6" cy="80.8" rx="1.6" ry="1.4" fill="#231e4a" fill-opacity="0.22"/><ellipse cx="1855.8" cy="90.9" rx="1.6" ry="1.4" fill="#231e4a" fill-opacity="0.23"/><ellipse cx="1833.1" cy="101.5" rx="1.7" ry="1.5" fill="#231e4a" fill-opacity="0.24"/><ellipse cx="2074.7" cy="0.2" rx="1.2" ry="1.1" fill="#231e4a" fill-opacity="0.18"/><ellipse cx="2059.6" cy="7.4" rx="1.2" ry="1.1" fill="#231e4a" fill-opacity="0.18"/><ellipse cx="2044.1" cy="14.8" rx="1.3" ry="1.1" fill="#231e4a" fill-opacity="0.18"/><ellipse cx="2028.0" cy="22.5" rx="1.3" ry="1.1" fill="#231e4a" fill-opacity="0.18"/><ellipse cx="2011.3" cy="30.5" rx="1.3" ry="1.2" fill="#231e4a" fill-opacity="0.18"/><ellipse cx="1994.0" cy="38.8" rx="1.4" ry="1.2" fill="#231e4a" fill-opacity="0.18"/><ellipse cx="1976.1" cy="47.4" rx="1.4" ry="1.2" fill="#231e4a" fill-opacity="0.18"/><ellipse cx="1957.5" cy="56.3" rx="1.5" ry="1.3" fill="#231e4a" fill-opacity="0.18"/><ellipse cx="1938.3" cy="65.5" rx="1.5" ry="1.3" fill="#231e4a" fill-opacity="0.20"/><ellipse cx="1918.2" cy="75.1" rx="1.5" ry="1.4" fill="#231e4a" fill-opacity="0.21"/><ellipse cx="1897.4" cy="85.1" rx="1.6" ry="1.4" fill="#231e4a" fill-opacity="0.22"/><ellipse cx="1875.8" cy="95.4" rx="1.6" ry="1.4" fill="#231e4a" fill-opacity="0.24"/><ellipse cx="1853.2" cy="106.2" rx="1.7" ry="1.5" fill="#231e4a" fill-opacity="0.25"/><ellipse cx="1829.7" cy="117.5" rx="1.7" ry="1.5" fill="#231e4a" fill-opacity="0.27"/><ellipse cx="2093.1" cy="3.0" rx="1.2" ry="1.1" fill="#231e4a" fill-opacity="0.18"/><ellipse cx="2078.3" cy="10.4" rx="1.3" ry="1.1" fill="#231e4a" fill-opacity="0.18"/><ellipse cx="2062.9" cy="17.9" rx="1.3" ry="1.1" fill="#231e4a" fill-opacity="0.18"/><ellipse cx="2047.0" cy="25.8" rx="1.3" ry="1.2" fill="#231e4a" fill-opacity="0.18"/><ellipse cx="2030.5" cy="33.9" rx="1.4" ry="1.2" fill="#231e4a" fill-opacity="0.18"/><ellipse cx="2013.4" cy="42.3" rx="1.4" ry="1.2" fill="#231e4a" fill-opacity="0.18"/><ellipse cx="1995.6" cy="51.0" rx="1.4" ry="1.3" fill="#231e4a" fill-opacity="0.18"/><ellipse cx="1977.2" cy="60.1" rx="1.5" ry="1.3" fill="#231e4a" fill-opacity="0.19"/><ellipse cx="1958.1" cy="69.5" rx="1.5" ry="1.3" fill="#231e4a" fill-opacity="0.20"/><ellipse cx="1938.3" cy="79.3" rx="1.6" ry="1.4" fill="#231e4a" fill-opacity="0.22"/><ellipse cx="1917.6" cy="89.5" rx="1.6" ry="1.4" fill="#231e4a" fill-opacity="0.23"/><ellipse cx="1896.1" cy="100.0" rx="1.7" ry="1.5" fill="#231e4a" fill-opacity="0.25"/><ellipse cx="1873.8" cy="111.1" rx="1.7" ry="1.5" fill="#231e4a" fill-opacity="0.26"/><ellipse cx="1850.4" cy="122.5" rx="1.8" ry="1.6" fill="#231e4a" fill-opacity="0.28"/><ellipse cx="1826.1" cy="134.5" rx="1.8" ry="1.6" fill="#231e4a" fill-opacity="0.29"/><ellipse cx="2112.0" cy="6.0" rx="1.2" ry="1.1" fill="#231e4a" fill-opacity="0.18"/><ellipse cx="2097.3" cy="13.4" rx="1.3" ry="1.1" fill="#231e4a" fill-opacity="0.18"/><ellipse cx="2082.1" cy="21.1" rx="1.3" ry="1.1" fill="#231e4a" fill-opacity="0.18"/><ellipse cx="2066.3" cy="29.1" rx="1.3" ry="1.2" fill="#231e4a" fill-opacity="0.18"/><ellipse cx="2050.0" cy="37.4" rx="1.4" ry="1.2" fill="#231e4a" fill-opacity="0.18"/><ellipse cx="2033.1" cy="45.9" rx="1.4" ry="1.2" fill="#231e4a" fill-opacity="0.18"/><ellipse cx="2015.6" cy="54.8" rx="1.5" ry="1.3" fill="#231e4a" fill-opacity="0.18"/><ellipse cx="1997.4" cy="64.0" rx="1.5" ry="1.3" fill="#231e4a" fill-opacity="0.20"/><ellipse cx="1978.4" cy="73.6" rx="1.5" ry="1.4" fill="#231e4a" fill-opacity="0.21"/><ellipse cx="1958.8" cy="83.6" rx="1.6" ry="1.4" fill="#231e4a" fill-opacity="0.22"/><ellipse cx="1938.3" cy="93.9" rx="1.6" ry="1.4" fill="#231e4a" fill-opacity="0.24"/><ellipse cx="1917.0" cy="104.7" rx="1.7" ry="1.5" fill="#231e4a" fill-opacity="0.25"/><ellipse cx="1894.8" cy="116.0" rx="1.7" ry="1.5" fill="#231e4a" fill-opacity="0.27"/><ellipse cx="1871.6" cy="127.7" rx="1.8" ry="1.6" fill="#231e4a" fill-opacity="0.29"/><ellipse cx="1847.5" cy="140.0" rx="1.9" ry="1.6" fill="#231e4a" fill-opacity="0.30"/><ellipse cx="2145.1" cy="1.7" rx="1.2" ry="1.1" fill="#231e4a" fill-opacity="0.18"/><ellipse cx="2131.1" cy="9.0" rx="1.3" ry="1.1" fill="#231e4a" fill-opacity="0.18"/><ellipse cx="2116.6" cy="16.5" rx="1.3" ry="1.1" fill="#231e4a" fill-opacity="0.18"/><ellipse cx="2101.6" cy="24.4" rx="1.3" ry="1.2" fill="#231e4a" fill-opacity="0.18"/><ellipse cx="2086.1" cy="32.5" rx="1.4" ry="1.2" fill="#231e4a" fill-opacity="0.18"/><ellipse cx="2070.0" cy="40.9" rx="1.4" ry="1.2" fill="#231e4a" fill-opacity="0.18"/><ellipse cx="2053.3" cy="49.6" rx="1.4" ry="1.3" fill="#231e4a" fill-opacity="0.18"/><ellipse cx="2035.9" cy="58.6" rx="1.5" ry="1.3" fill="#231e4a" fill-opacity="0.19"/><ellipse cx="2017.9" cy="68.0" rx="1.5" ry="1.3" fill="#231e4a" fill-opacity="0.20"/><ellipse cx="1999.2" cy="77.8" rx="1.6" ry="1.4" fill="#231e4a" fill-opacity="0.22"/><ellipse cx="1979.7" cy="88.0" rx="1.6" ry="1.4" fill="#231e4a" fill-opacity="0.23"/><ellipse cx="1959.5" cy="98.5" rx="1.7" ry="1.5" fill="#231e4a" fill-opacity="0.25"/><ellipse cx="1938.3" cy="109.5" rx="1.7" ry="1.5" fill="#231e4a" fill-opacity="0.26"/><ellipse cx="1916.3" cy="121.0" rx="1.8" ry="1.6" fill="#231e4a" fill-opacity="0.28"/><ellipse cx="1893.4" cy="133.0" rx="1.8" ry="1.6" fill="#231e4a" fill-opacity="0.30"/><ellipse cx="1869.4" cy="145.5" rx="1.9" ry="1.7" fill="#231e4a" fill-opacity="0.32"/><ellipse cx="1844.3" cy="158.6" rx="2.0" ry="1.7" fill="#231e4a" fill-opacity="0.33"/><ellipse cx="2164.5" cy="4.6" rx="1.2" ry="1.1" fill="#231e4a" fill-opacity="0.18"/><ellipse cx="2150.6" cy="12.0" rx="1.3" ry="1.1" fill="#231e4a" fill-opacity="0.18"/><ellipse cx="2136.4" cy="19.7" rx="1.3" ry="1.2" fill="#231e4a" fill-opacity="0.18"/><ellipse cx="2121.5" cy="27.7" rx="1.4" ry="1.2" fill="#231e4a" fill-opacity="0.18"/><ellipse cx="2106.2" cy="35.9" rx="1.4" ry="1.2" fill="#231e4a" fill-opacity="0.18"/><ellipse cx="2090.3" cy="44.5" rx="1.4" ry="1.2" fill="#231e4a" fill-opacity="0.18"/><ellipse cx="2073.8" cy="53.4" rx="1.5" ry="1.3" fill="#231e4a" fill-opacity="0.19"/><ellipse cx="2056.7" cy="62.6" rx="1.5" ry="1.3" fill="#231e4a" fill-opacity="0.20"/><ellipse cx="2038.9" cy="72.1" rx="1.6" ry="1.4" fill="#231e4a" fill-opacity="0.21"/><ellipse cx="2020.4" cy="82.1" rx="1.6" ry="1.4" fill="#231e4a" fill-opacity="0.23"/><ellipse cx="2001.1" cy="92.4" rx="1.6" ry="1.4" fill="#231e4a" fill-opacity="0.24"/><ellipse cx="1981.1" cy="103.2" rx="1.7" ry="1.5" fill="#231e4a" fill-opacity="0.26"/><ellipse cx="1960.2" cy="114.5" rx="1.8" ry="1.5" fill="#231e4a" fill-opacity="0.27"/><ellipse cx="1938.4" cy="126.2" rx="1.8" ry="1.6" fill="#231e4a" fill-opacity="0.29"/><ellipse cx="1915.6" cy="138.4" rx="1.9" ry="1.6" fill="#231e4a" fill-opacity="0.31"/><ellipse cx="1891.8" cy="151.2" rx="1.9" ry="1.7" fill="#231e4a" fill-opacity="0.33"/><ellipse cx="1866.9" cy="164.6" rx="2.0" ry="1.8" fill="#231e4a" fill-opacity="0.35"/><ellipse cx="1840.9" cy="178.6" rx="2.1" ry="1.8" fill="#231e4a" fill-opacity="0.37"/><ellipse cx="2197.3" cy="0.3" rx="1.2" ry="1.1" fill="#231e4a" fill-opacity="0.18"/><ellipse cx="2184.1" cy="7.6" rx="1.3" ry="1.1" fill="#231e4a" fill-opacity="0.18"/><ellipse cx="2170.5" cy="15.1" rx="1.3" ry="1.1" fill="#231e4a" fill-opacity="0.18"/><ellipse cx="2156.5" cy="22.9" rx="1.3" ry="1.2" fill="#231e4a" fill-opacity="0.18"/><ellipse cx="2141.9" cy="31.0" rx="1.4" ry="1.2" fill="#231e4a" fill-opacity="0.18"/><ellipse cx="2126.8" cy="39.4" rx="1.4" ry="1.2" fill="#231e4a" fill-opacity="0.18"/><ellipse cx="2111.1" cy="48.1" rx="1.4" ry="1.3" fill="#231e4a" fill-opacity="0.18"/><ellipse cx="2094.8" cy="57.2" rx="1.5" ry="1.3" fill="#231e4a" fill-opacity="0.19"/><ellipse cx="2077.9" cy="66.6" rx="1.5" ry="1.3" fill="#231e4a" fill-opacity="0.21"/><ellipse cx="2060.3" cy="76.3" rx="1.6" ry="1.4" fill="#231e4a" fill-opacity="0.22"/><ellipse cx="2042.0" cy="86.5" rx="1.6" ry="1.4" fill="#231e4a" fill-opacity="0.23"/><ellipse cx="2023.0" cy="97.0" rx="1.7" ry="1.5" fill="#231e4a" fill-opacity="0.25"/><ellipse cx="2003.2" cy="108.0" rx="1.7" ry="1.5" fill="#231e4a" fill-opacity="0.26"/><ellipse cx="1982.5" cy="119.5" rx="1.8" ry="1.6" fill="#231e4a" fill-opacity="0.28"/><ellipse cx="1960.9" cy="131.5" rx="1.8" ry="1.6" fill="#231e4a" fill-opacity="0.30"/><ellipse cx="1938.4" cy="144.0" rx="1.9" ry="1.7" fill="#231e4a" fill-opacity="0.32"/><ellipse cx="1914.8" cy="157.1" rx="2.0" ry="1.7" fill="#231e4a" fill-opacity="0.34"/><ellipse cx="1890.2" cy="170.8" rx="2.0" ry="1.8" fill="#231e4a" fill-opacity="0.36"/><ellipse cx="1864.3" cy="185.1" rx="2.1" ry="1.9" fill="#231e4a" fill-opacity="0.38"/><ellipse cx="1837.2" cy="200.2" rx="2.2" ry="1.9" fill="#231e4a" fill-opacity="0.40"/><ellipse cx="2217.1" cy="3.2" rx="1.3" ry="1.1" fill="#231e4a" fill-opacity="0.18"/><ellipse cx="2204.2" cy="10.6" rx="1.3" ry="1.1" fill="#231e4a" fill-opacity="0.18"/><ellipse cx="2190.8" cy="18.3" rx="1.3" ry="1.2" fill="#231e4a" fill-opacity="0.18"/><ellipse cx="2177.0" cy="26.2" rx="1.4" ry="1.2" fill="#231e4a" fill-opacity="0.18"/><ellipse cx="2162.6" cy="34.5" rx="1.4" ry="1.2" fill="#231e4a" fill-opacity="0.18"/><ellipse cx="2147.7" cy="43.0" rx="1.4" ry="1.3" fill="#231e4a" fill-opacity="0.18"/><ellipse cx="2132.3" cy="51.9" rx="1.5" ry="1.3" fill="#231e4a" fill-opacity="0.19"/><ellipse cx="2116.2" cy="61.1" rx="1.5" ry="1.3" fill="#231e4a" fill-opacity="0.20"/><ellipse cx="2099.5" cy="70.7" rx="1.6" ry="1.4" fill="#231e4a" fill-opacity="0.21"/><ellipse cx="2082.2" cy="80.6" rx="1.6" ry="1.4" fill="#231e4a" fill-opacity="0.23"/><ellipse cx="2064.2" cy="90.9" rx="1.7" ry="1.4" fill="#231e4a" fill-opacity="0.24"/><ellipse cx="2045.4" cy="101.7" rx="1.7" ry="1.5" fill="#231e4a" fill-opacity="0.26"/><ellipse cx="2025.8" cy="113.0" rx="1.8" ry="1.5" fill="#231e4a" fill-opacity="0.27"/><ellipse cx="2005.4" cy="124.7" rx="1.8" ry="1.6" fill="#231e4a" fill-opacity="0.29"/><ellipse cx="1984.1" cy="136.9" rx="1.9" ry="1.6" fill="#231e4a" fill-opacity="0.31"/><ellipse cx="1961.8" cy="149.7" rx="1.9" ry="1.7" fill="#231e4a" fill-opacity="0.33"/><ellipse cx="1938.4" cy="163.1" rx="2.0" ry="1.8" fill="#231e4a" fill-opacity="0.35"/><ellipse cx="1914.0" cy="177.1" rx="2.1" ry="1.8" fill="#231e4a" fill-opacity="0.37"/><ellipse cx="1888.4" cy="191.8" rx="2.2" ry="1.9" fill="#231e4a" fill-opacity="0.39"/><ellipse cx="1861.5" cy="207.2" rx="2.2" ry="2.0" fill="#231e4a" fill-opacity="0.42"/><ellipse cx="1833.3" cy="223.4" rx="2.3" ry="2.0" fill="#231e4a" fill-opacity="0.44"/><ellipse cx="2237.4" cy="6.2" rx="1.3" ry="1.1" fill="#231e4a" fill-opacity="0.18"/><ellipse cx="2224.7" cy="13.7" rx="1.3" ry="1.1" fill="#231e4a" fill-opacity="0.18"/><ellipse cx="2211.5" cy="21.5" rx="1.3" ry="1.2" fill="#231e4a" fill-opacity="0.18"/><ellipse cx="2197.9" cy="29.6" rx="1.4" ry="1.2" fill="#231e4a" fill-opacity="0.18"/><ellipse cx="2183.7" cy="38.0" rx="1.4" ry="1.2" fill="#231e4a" fill-opacity="0.18"/><ellipse cx="2169.1" cy="46.7" rx="1.5" ry="1.3" fill="#231e4a" fill-opacity="0.18"/><ellipse cx="2153.9" cy="55.7" rx="1.5" ry="1.3" fill="#231e4a" fill-opacity="0.19"/><ellipse cx="2138.1" cy="65.1" rx="1.5" ry="1.3" fill="#231e4a" fill-opacity="0.21"/><ellipse cx="2121.7" cy="74.8" rx="1.6" ry="1.4" fill="#231e4a" fill-opacity="0.22"/><ellipse cx="2104.6" cy="85.0" rx="1.6" ry="1.4" fill="#231e4a" fill-opacity="0.24"/><ellipse cx="2086.8" cy="95.5" rx="1.7" ry="1.5" fill="#231e4a" fill-opacity="0.25"/><ellipse cx="2068.3" cy="106.5" rx="1.7" ry="1.5" fill="#231e4a" fill-opacity="0.27"/><ellipse cx="2049.0" cy="118.0" rx="1.8" ry="1.6" fill="#231e4a" fill-opacity="0.28"/><ellipse cx="2028.8" cy="130.0" rx="1.8" ry="1.6" fill="#231e4a" fill-opacity="0.30"/><ellipse cx="2007.7" cy="142.5" rx="1.9" ry="1.7" fill="#231e4a" fill-opacity="0.32"/><ellipse cx="1985.7" cy="155.5" rx="2.0" ry="1.7" fill="#231e4a" fill-opacity="0.34"/><ellipse cx="1962.6" cy="169.2" rx="2.0" ry="1.8" fill="#231e4a" fill-opacity="0.36"/><ellipse cx="1938.5" cy="183.6" rx="2.1" ry="1.9" fill="#231e4a" fill-opacity="0.38"/><ellipse cx="1913.1" cy="198.6" rx="2.2" ry="1.9" fill="#231e4a" fill-opacity="0.40"/><ellipse cx="1886.5" cy="214.4" rx="2.3" ry="2.0" fill="#231e4a" fill-opacity="0.43"/><ellipse cx="1858.5" cy="231.1" rx="2.4" ry="2.1" fill="#231e4a" fill-opacity="0.46"/><ellipse cx="1829.0" cy="248.6" rx="2.5" ry="2.2" fill="#231e4a" fill-opacity="0.48"/><ellipse cx="2270.0" cy="1.8" rx="1.3" ry="1.1" fill="#231e4a" fill-opacity="0.18"/><ellipse cx="2258.0" cy="9.2" rx="1.3" ry="1.1" fill="#231e4a" fill-opacity="0.18"/><ellipse cx="2245.5" cy="16.9" rx="1.3" ry="1.2" fill="#231e4a" fill-opacity="0.18"/><ellipse cx="2232.6" cy="24.8" rx="1.4" ry="1.2" fill="#231e4a" fill-opacity="0.18"/><ellipse cx="2219.2" cy="33.0" rx="1.4" ry="1.2" fill="#231e4a" fill-opacity="0.18"/><ellipse cx="2205.3" cy="41.6" rx="1.4" ry="1.3" fill="#231e4a" fill-opacity="0.18"/><ellipse cx="2190.9" cy="50.4" rx="1.5" ry="1.3" fill="#231e4a" fill-opacity="0.19"/><ellipse cx="2176.0" cy="59.6" rx="1.5" ry="1.3" fill="#231e4a" fill-opacity="0.20"/><ellipse cx="2160.4" cy="69.2" rx="1.6" ry="1.4" fill="#231e4a" fill-opacity="0.21"/><ellipse cx="2144.3" cy="79.1" rx="1.6" ry="1.4" fill="#231e4a" fill-opacity="0.23"/><ellipse cx="2127.5" cy="89.4" rx="1.7" ry="1.5" fill="#231e4a" fill-opacity="0.24"/><ellipse cx="2110.0" cy="100.2" rx="1.7" ry="1.5" fill="#231e4a" fill-opacity="0.26"/><ellipse cx="2091.7" cy="111.4" rx="1.8" ry="1.5" fill="#231e4a" fill-opacity="0.27"/><ellipse cx="2072.7" cy="123.1" rx="1.8" ry="1.6" fill="#231e4a" fill-opacity="0.29"/><ellipse cx="2052.8" cy="135.4" rx="1.9" ry="1.6" fill="#231e4a" fill-opacity="0.31"/><ellipse cx="2032.0" cy="148.2" rx="1.9" ry="1.7" fill="#231e4a" fill-opacity="0.33"/><ellipse cx="2010.3" cy="161.5" rx="2.0" ry="1.8" fill="#231e4a" fill-opacity="0.35"/><ellipse cx="1987.5" cy="175.5" rx="2.1" ry="1.8" fill="#231e4a" fill-opacity="0.37"/><ellipse cx="1963.6" cy="190.2" rx="2.2" ry="1.9" fill="#231e4a" fill-opacity="0.39"/><ellipse cx="1938.5" cy="205.7" rx="2.2" ry="2.0" fill="#231e4a" fill-opacity="0.42"/><ellipse cx="1912.2" cy="221.9" rx="2.3" ry="2.0" fill="#231e4a" fill-opacity="0.44"/><ellipse cx="1884.4" cy="238.9" rx="2.4" ry="2.1" fill="#231e4a" fill-opacity="0.47"/><ellipse cx="1855.2" cy="256.9" rx="2.5" ry="2.2" fill="#231e4a" fill-opacity="0.50"/><ellipse cx="2290.7" cy="4.8" rx="1.3" ry="1.1" fill="#231e4a" fill-opacity="0.18"/><ellipse cx="2278.9" cy="12.3" rx="1.3" ry="1.1" fill="#231e4a" fill-opacity="0.18"/><ellipse cx="2266.7" cy="20.1" rx="1.3" ry="1.2" fill="#231e4a" fill-opacity="0.18"/><ellipse cx="2254.1" cy="28.2" rx="1.4" ry="1.2" fill="#231e4a" fill-opacity="0.18"/><ellipse cx="2241.0" cy="36.5" rx="1.4" ry="1.2" fill="#231e4a" fill-opacity="0.18"/><ellipse cx="2227.3" cy="45.2" rx="1.5" ry="1.3" fill="#231e4a" fill-opacity="0.18"/><ellipse cx="2213.2" cy="54.2" rx="1.5" ry="1.3" fill="#231e4a" fill-opacity="0.20"/><ellipse cx="2198.5" cy="63.6" rx="1.5" ry="1.3" fill="#231e4a" fill-opacity="0.21"/><ellipse cx="2183.3" cy="73.3" rx="1.6" ry="1.4" fill="#231e4a" fill-opacity="0.22"/><ellipse cx="2167.4" cy="83.5" rx="1.6" ry="1.4" fill="#231e4a" fill-opacity="0.24"/><ellipse cx="2150.9" cy="94.0" rx="1.7" ry="1.5" fill="#231e4a" fill-opacity="0.25"/><ellipse cx="2133.7" cy="105.0" rx="1.7" ry="1.5" fill="#231e4a" fill-opacity="0.27"/><ellipse cx="2115.7" cy="116.5" rx="1.8" ry="1.6" fill="#231e4a" fill-opacity="0.28"/><ellipse cx="2097.0" cy="128.4" rx="1.9" ry="1.6" fill="#231e4a" fill-opacity="0.30"/><ellipse cx="2077.4" cy="140.9" rx="1.9" ry="1.7" fill="#231e4a" fill-opacity="0.32"/><ellipse cx="2056.9" cy="154.0" rx="2.0" ry="1.7" fill="#231e4a" fill-opacity="0.34"/><ellipse cx="2035.5" cy="167.7" rx="2.1" ry="1.8" fill="#231e4a" fill-opacity="0.36"/><ellipse cx="2013.0" cy="182.0" rx="2.1" ry="1.9" fill="#231e4a" fill-opacity="0.38"/><ellipse cx="1989.4" cy="197.1" rx="2.2" ry="1.9" fill="#231e4a" fill-opacity="0.41"/><ellipse cx="1964.6" cy="212.9" rx="2.3" ry="2.0" fill="#231e4a" fill-opacity="0.43"/><ellipse cx="1938.6" cy="229.5" rx="2.4" ry="2.1" fill="#231e4a" fill-opacity="0.46"/><ellipse cx="1911.1" cy="247.0" rx="2.5" ry="2.2" fill="#231e4a" fill-opacity="0.49"/><ellipse cx="1882.2" cy="265.5" rx="2.6" ry="2.3" fill="#231e4a" fill-opacity="0.52"/><ellipse cx="1851.6" cy="285.0" rx="2.7" ry="2.4" fill="#231e4a" fill-opacity="0.55"/><ellipse cx="2323.0" cy="0.4" rx="1.3" ry="1.1" fill="#231e4a" fill-opacity="0.18"/><ellipse cx="2311.9" cy="7.8" rx="1.3" ry="1.1" fill="#231e4a" fill-opacity="0.18"/><ellipse cx="2300.3" cy="15.4" rx="1.3" ry="1.2" fill="#231e4a" fill-opacity="0.18"/><ellipse cx="2288.4" cy="23.4" rx="1.4" ry="1.2" fill="#231e4a" fill-opacity="0.18"/><ellipse cx="2276.0" cy="31.6" rx="1.4" ry="1.2" fill="#231e4a" fill-opacity="0.18"/><ellipse cx="2263.1" cy="40.1" rx="1.4" ry="1.3" fill="#231e4a" fill-opacity="0.18"/><ellipse cx="2249.8" cy="49.0" rx="1.5" ry="1.3" fill="#231e4a" fill-opacity="0.19"/><ellipse cx="2236.0" cy="58.1" rx="1.5" ry="1.3" fill="#231e4a" fill-opacity="0.20"/><ellipse cx="2221.6" cy="67.7" rx="1.6" ry="1.4" fill="#231e4a" fill-opacity="0.22"/><ellipse cx="2206.6" cy="77.6" rx="1.6" ry="1.4" fill="#231e4a" fill-opacity="0.23"/><ellipse cx="2191.0" cy="87.9" rx="1.7" ry="1.5" fill="#231e4a" fill-opacity="0.24"/><ellipse cx="2174.8" cy="98.7" rx="1.7" ry="1.5" fill="#231e4a" fill-opacity="0.26"/><ellipse cx="2157.9" cy="109.9" rx="1.8" ry="1.6" fill="#231e4a" fill-opacity="0.28"/><ellipse cx="2140.3" cy="121.6" rx="1.8" ry="1.6" fill="#231e4a" fill-opacity="0.29"/><ellipse cx="2121.8" cy="133.8" rx="1.9" ry="1.7" fill="#231e4a" fill-opacity="0.31"/><ellipse cx="2102.6" cy="146.6" rx="2.0" ry="1.7" fill="#231e4a" fill-opacity="0.33"/><ellipse cx="2082.4" cy="160.0" rx="2.0" ry="1.8" fill="#231e4a" fill-opacity="0.35"/><ellipse cx="2061.3" cy="174.0" rx="2.1" ry="1.8" fill="#231e4a" fill-opacity="0.37"/><ellipse cx="2039.2" cy="188.7" rx="2.2" ry="1.9" fill="#231e4a" fill-opacity="0.40"/><ellipse cx="2015.9" cy="204.1" rx="2.3" ry="2.0" fill="#231e4a" fill-opacity="0.42"/><ellipse cx="1991.5" cy="220.3" rx="2.3" ry="2.1" fill="#231e4a" fill-opacity="0.45"/><ellipse cx="1965.7" cy="237.4" rx="2.4" ry="2.1" fill="#231e4a" fill-opacity="0.47"/><ellipse cx="1938.6" cy="255.3" rx="2.5" ry="2.2" fill="#231e4a" fill-opacity="0.50"/><ellipse cx="1910.0" cy="274.3" rx="2.6" ry="2.3" fill="#231e4a" fill-opacity="0.54"/><ellipse cx="1879.7" cy="294.4" rx="2.8" ry="2.4" fill="#231e4a" fill-opacity="0.57"/><ellipse cx="1847.7" cy="315.6" rx="2.9" ry="2.5" fill="#231e4a" fill-opacity="0.61"/><ellipse cx="2344.3" cy="3.4" rx="1.3" ry="1.1" fill="#231e4a" fill-opacity="0.18"/><ellipse cx="2333.4" cy="10.9" rx="1.3" ry="1.1" fill="#231e4a" fill-opacity="0.18"/><ellipse cx="2322.1" cy="18.7" rx="1.3" ry="1.2" fill="#231e4a" fill-opacity="0.18"/><ellipse cx="2310.5" cy="26.7" rx="1.4" ry="1.2" fill="#231e4a" fill-opacity="0.18"/><ellipse cx="2298.4" cy="35.1" rx="1.4" ry="1.2" fill="#231e4a" fill-opacity="0.18"/><ellipse cx="2285.8" cy="43.8" rx="1.5" ry="1.3" fill="#231e4a" fill-opacity="0.18"/><ellipse cx="2272.8" cy="52.8" rx="1.5" ry="1.3" fill="#231e4a" fill-opacity="0.20"/><ellipse cx="2259.2" cy="62.1" rx="1.5" ry="1.4" fill="#231e4a" fill-opacity="0.21"/><ellipse cx="2245.1" cy="71.8" rx="1.6" ry="1.4" fill="#231e4a" fill-opacity="0.22"/><ellipse cx="2230.5" cy="82.0" rx="1.6" ry="1.4" fill="#231e4a" fill-opacity="0.24"/><ellipse cx="2215.2" cy="92.5" rx="1.7" ry="1.5" fill="#231e4a" fill-opacity="0.25"/><ellipse cx="2199.3" cy="103.5" rx="1.7" ry="1.5" fill="#231e4a" fill-opacity="0.27"/><ellipse cx="2182.7" cy="114.9" rx="1.8" ry="1.6" fill="#231e4a" fill-opacity="0.29"/><ellipse cx="2165.4" cy="126.9" rx="1.9" ry="1.6" fill="#231e4a" fill-opacity="0.30"/><ellipse cx="2147.3" cy="139.4" rx="1.9" ry="1.7" fill="#231e4a" fill-opacity="0.32"/><ellipse cx="2128.4" cy="152.4" rx="2.0" ry="1.7" fill="#231e4a" fill-opacity="0.34"/><ellipse cx="2108.6" cy="166.1" rx="2.1" ry="1.8" fill="#231e4a" fill-opacity="0.36"/><ellipse cx="2087.8" cy="180.4" rx="2.1" ry="1.9" fill="#231e4a" fill-opacity="0.39"/><ellipse cx="2066.0" cy="195.5" rx="2.2" ry="1.9" fill="#231e4a" fill-opacity="0.41"/><ellipse cx="2043.1" cy="211.3" rx="2.3" ry="2.0" fill="#231e4a" fill-opacity="0.43"/><ellipse cx="2019.1" cy="227.9" rx="2.4" ry="2.1" fill="#231e4a" fill-opacity="0.46"/><ellipse cx="1993.7" cy="245.4" rx="2.5" ry="2.2" fill="#231e4a" fill-opacity="0.49"/><ellipse cx="1966.9" cy="263.9" rx="2.6" ry="2.3" fill="#231e4a" fill-opacity="0.52"/><ellipse cx="1938.7" cy="283.4" rx="2.7" ry="2.4" fill="#231e4a" fill-opacity="0.55"/><ellipse cx="1908.8" cy="304.1" rx="2.8" ry="2.5" fill="#231e4a" fill-opacity="0.59"/><ellipse cx="1877.1" cy="326.0" rx="2.9" ry="2.6" fill="#231e4a" fill-opacity="0.63"/><ellipse cx="1843.4" cy="349.2" rx="3.1" ry="2.7" fill="#231e4a" fill-opacity="0.67"/><ellipse cx="2366.0" cy="6.4" rx="1.3" ry="1.1" fill="#231e4a" fill-opacity="0.18"/><ellipse cx="2355.4" cy="14.0" rx="1.3" ry="1.2" fill="#231e4a" fill-opacity="0.18"/><ellipse cx="2344.4" cy="21.9" rx="1.4" ry="1.2" fill="#231e4a" fill-opacity="0.18"/><ellipse cx="2333.0" cy="30.1" rx="1.4" ry="1.2" fill="#231e4a" fill-opacity="0.18"/><ellipse cx="2321.2" cy="38.6" rx="1.4" ry="1.3" fill="#231e4a" fill-opacity="0.18"/><ellipse cx="2308.9" cy="47.5" rx="1.5" ry="1.3" fill="#231e4a" fill-opacity="0.19"/><ellipse cx="2296.2" cy="56.6" rx="1.5" ry="1.3" fill="#231e4a" fill-opacity="0.20"/><ellipse cx="2283.0" cy="66.2" rx="1.6" ry="1.4" fill="#231e4a" fill-opacity="0.22"/><ellipse cx="2269.2" cy="76.1" rx="1.6" ry="1.4" fill="#231e4a" fill-opacity="0.23"/><ellipse cx="2254.9" cy="86.4" rx="1.7" ry="1.5" fill="#231e4a" fill-opacity="0.25"/><ellipse cx="2239.9" cy="97.2" rx="1.7" ry="1.5" fill="#231e4a" fill-opacity="0.26"/><ellipse cx="2224.4" cy="108.4" rx="1.8" ry="1.6" fill="#231e4a" fill-opacity="0.28"/><ellipse cx="2208.1" cy="120.1" rx="1.8" ry="1.6" fill="#231e4a" fill-opacity="0.30"/><ellipse cx="2191.2" cy="132.3" rx="1.9" ry="1.7" fill="#231e4a" fill-opacity="0.31"/><ellipse cx="2173.5" cy="145.0" rx="2.0" ry="1.7" fill="#231e4a" fill-opacity="0.33"/><ellipse cx="2154.9" cy="158.4" rx="2.0" ry="1.8" fill="#231e4a" fill-opacity="0.35"/><ellipse cx="2135.5" cy="172.4" rx="2.1" ry="1.8" fill="#231e4a" fill-opacity="0.38"/><ellipse cx="2115.1" cy="187.1" rx="2.2" ry="1.9" fill="#231e4a" fill-opacity="0.40"/><ellipse cx="2093.7" cy="202.5" rx="2.3" ry="2.0" fill="#231e4a" fill-opacity="0.42"/><ellipse cx="2071.2" cy="218.7" rx="2.3" ry="2.1" fill="#231e4a" fill-opacity="0.45"/><ellipse cx="2047.5" cy="235.8" rx="2.4" ry="2.1" fill="#231e4a" fill-opacity="0.48"/><ellipse cx="2022.5" cy="253.8" rx="2.5" ry="2.2" fill="#231e4a" fill-opacity="0.51"/><ellipse cx="1996.1" cy="272.8" rx="2.6" ry="2.3" fill="#231e4a" fill-opacity="0.54"/><ellipse cx="1968.2" cy="292.8" rx="2.8" ry="2.4" fill="#231e4a" fill-opacity="0.57"/><ellipse cx="1938.7" cy="314.1" rx="2.9" ry="2.5" fill="#231e4a" fill-opacity="0.61"/><ellipse cx="1907.4" cy="336.7" rx="3.0" ry="2.6" fill="#231e4a" fill-opacity="0.65"/><ellipse cx="1874.1" cy="360.6" rx="3.2" ry="2.8" fill="#231e4a" fill-opacity="0.69"/><ellipse cx="1838.7" cy="386.1" rx="3.3" ry="2.9" fill="#231e4a" fill-opacity="0.74"/><ellipse cx="2398.1" cy="1.9" rx="1.3" ry="1.1" fill="#231e4a" fill-opacity="0.18"/><ellipse cx="2388.1" cy="9.4" rx="1.3" ry="1.2" fill="#231e4a" fill-opacity="0.18"/><ellipse cx="2377.8" cy="17.2" rx="1.3" ry="1.2" fill="#231e4a" fill-opacity="0.18"/><ellipse cx="2367.1" cy="25.3" rx="1.4" ry="1.2" fill="#231e4a" fill-opacity="0.18"/><ellipse cx="2356.0" cy="33.6" rx="1.4" ry="1.2" fill="#231e4a" fill-opacity="0.18"/><ellipse cx="2344.5" cy="42.3" rx="1.5" ry="1.3" fill="#231e4a" fill-opacity="0.19"/><ellipse cx="2332.5" cy="51.3" rx="1.5" ry="1.3" fill="#231e4a" fill-opacity="0.20"/><ellipse cx="2320.1" cy="60.6" rx="1.5" ry="1.4" fill="#231e4a" fill-opacity="0.21"/><ellipse cx="2307.2" cy="70.3" rx="1.6" ry="1.4" fill="#231e4a" fill-opacity="0.22"/><ellipse cx="2293.8" cy="80.4" rx="1.6" ry="1.4" fill="#231e4a" fill-opacity="0.24"/><ellipse cx="2279.8" cy="91.0" rx="1.7" ry="1.5" fill="#231e4a" fill-opacity="0.25"/><ellipse cx="2265.2" cy="101.9" rx="1.7" ry="1.5" fill="#231e4a" fill-opacity="0.27"/><ellipse cx="2250.0" cy="113.4" rx="1.8" ry="1.6" fill="#231e4a" fill-opacity="0.29"/><ellipse cx="2234.2" cy="125.3" rx="1.9" ry="1.6" fill="#231e4a" fill-opacity="0.31"/><ellipse cx="2217.6" cy="137.8" rx="1.9" ry="1.7" fill="#231e4a" fill-opacity="0.32"/><ellipse cx="2200.2" cy="150.9" rx="2.0" ry="1.7" fill="#231e4a" fill-opacity="0.34"/><ellipse cx="2182.1" cy="164.5" rx="2.1" ry="1.8" fill="#231e4a" fill-opacity="0.37"/><ellipse cx="2163.0" cy="178.9" rx="2.1" ry="1.9" fill="#231e4a" fill-opacity="0.39"/><ellipse cx="2143.1" cy="193.9" rx="2.2" ry="1.9" fill="#231e4a" fill-opacity="0.41"/><ellipse cx="2122.1" cy="209.7" rx="2.3" ry="2.0" fill="#231e4a" fill-opacity="0.44"/><ellipse cx="2100.0" cy="226.3" rx="2.4" ry="2.1" fill="#231e4a" fill-opacity="0.46"/><ellipse cx="2076.7" cy="243.9" rx="2.5" ry="2.2" fill="#231e4a" fill-opacity="0.49"/><ellipse cx="2052.1" cy="262.4" rx="2.6" ry="2.3" fill="#231e4a" fill-opacity="0.52"/><ellipse cx="2026.2" cy="281.9" rx="2.7" ry="2.4" fill="#231e4a" fill-opacity="0.56"/><ellipse cx="1998.8" cy="302.5" rx="2.8" ry="2.5" fill="#231e4a" fill-opacity="0.59"/><ellipse cx="1969.7" cy="324.4" rx="3.0" ry="2.6" fill="#231e4a" fill-opacity="0.63"/><ellipse cx="1938.8" cy="347.7" rx="3.1" ry="2.7" fill="#231e4a" fill-opacity="0.67"/><ellipse cx="1905.9" cy="372.4" rx="3.2" ry="2.8" fill="#231e4a" fill-opacity="0.72"/><ellipse cx="1870.9" cy="398.8" rx="3.4" ry="3.0" fill="#231e4a" fill-opacity="0.76"/><ellipse cx="1833.5" cy="426.9" rx="3.6" ry="3.1" fill="#231e4a" fill-opacity="0.82"/><ellipse cx="2420.3" cy="4.9" rx="1.3" ry="1.1" fill="#231e4a" fill-opacity="0.18"/><ellipse cx="2410.6" cy="12.6" rx="1.3" ry="1.2" fill="#231e4a" fill-opacity="0.18"/><ellipse cx="2400.6" cy="20.5" rx="1.4" ry="1.2" fill="#231e4a" fill-opacity="0.18"/><ellipse cx="2390.2" cy="28.7" rx="1.4" ry="1.2" fill="#231e4a" fill-opacity="0.18"/><ellipse cx="2379.4" cy="37.2" rx="1.4" ry="1.3" fill="#231e4a" fill-opacity="0.18"/><ellipse cx="2368.2" cy="46.0" rx="1.5" ry="1.3" fill="#231e4a" fill-opacity="0.19"/><ellipse cx="2356.6" cy="55.2" rx="1.5" ry="1.3" fill="#231e4a" fill-opacity="0.21"/><ellipse cx="2344.6" cy="64.7" rx="1.6" ry="1.4" fill="#231e4a" fill-opacity="0.22"/><ellipse cx="2332.0" cy="74.6" rx="1.6" ry="1.4" fill="#231e4a" fill-opacity="0.23"/><ellipse cx="2318.9" cy="84.9" rx="1.7" ry="1.5" fill="#231e4a" fill-opacity="0.25"/><ellipse cx="2305.3" cy="95.6" rx="1.7" ry="1.5" fill="#231e4a" fill-opacity="0.26"/><ellipse cx="2291.1" cy="106.8" rx="1.8" ry="1.6" fill="#231e4a" fill-opacity="0.28"/><ellipse cx="2276.3" cy="118.5" rx="1.8" ry="1.6" fill="#231e4a" fill-opacity="0.30"/><ellipse cx="2260.8" cy="130.7" rx="1.9" ry="1.7" fill="#231e4a" fill-opacity="0.32"/><ellipse cx="2244.7" cy="143.5" rx="2.0" ry="1.7" fill="#231e4a" fill-opacity="0.34"/><ellipse cx="2227.7" cy="156.8" rx="2.0" ry="1.8" fill="#231e4a" fill-opacity="0.36"/><ellipse cx="2210.0" cy="170.8" rx="2.1" ry="1.8" fill="#231e4a" fill-opacity="0.38"/><ellipse cx="2191.4" cy="185.5" rx="2.2" ry="1.9" fill="#231e4a" fill-opacity="0.40"/><ellipse cx="2171.8" cy="200.9" rx="2.3" ry="2.0" fill="#231e4a" fill-opacity="0.43"/><ellipse cx="2151.3" cy="217.1" rx="2.4" ry="2.1" fill="#231e4a" fill-opacity="0.45"/><ellipse cx="2129.6" cy="234.2" rx="2.5" ry="2.1" fill="#231e4a" fill-opacity="0.48"/><ellipse cx="2106.8" cy="252.2" rx="2.6" ry="2.2" fill="#231e4a" fill-opacity="0.51"/><ellipse cx="2082.7" cy="271.2" rx="2.7" ry="2.3" fill="#231e4a" fill-opacity="0.54"/><ellipse cx="2057.2" cy="291.3" rx="2.8" ry="2.4" fill="#231e4a" fill-opacity="0.58"/><ellipse cx="2030.3" cy="312.6" rx="2.9" ry="2.5" fill="#231e4a" fill-opacity="0.61"/><ellipse cx="2001.7" cy="335.1" rx="3.0" ry="2.7" fill="#231e4a" fill-opacity="0.65"/><ellipse cx="1971.2" cy="359.1" rx="3.2" ry="2.8" fill="#231e4a" fill-opacity="0.70"/><ellipse cx="1938.8" cy="384.7" rx="3.3" ry="2.9" fill="#231e4a" fill-opacity="0.74"/><ellipse cx="1904.3" cy="411.9" rx="3.5" ry="3.1" fill="#231e4a" fill-opacity="0.79"/><ellipse cx="1867.3" cy="441.1" rx="3.7" ry="3.2" fill="#231e4a" fill-opacity="0.85"/><ellipse cx="1827.7" cy="472.3" rx="3.9" ry="3.4" fill="#231e4a" fill-opacity="0.91"/><ellipse cx="2452.0" cy="0.5" rx="1.3" ry="1.1" fill="#231e4a" fill-opacity="0.18"/><ellipse cx="2442.9" cy="8.0" rx="1.3" ry="1.2" fill="#231e4a" fill-opacity="0.18"/><ellipse cx="2433.6" cy="15.8" rx="1.4" ry="1.2" fill="#231e4a" fill-opacity="0.18"/><ellipse cx="2423.9" cy="23.8" rx="1.4" ry="1.2" fill="#231e4a" fill-opacity="0.18"/><ellipse cx="2413.8" cy="32.2" rx="1.4" ry="1.3" fill="#231e4a" fill-opacity="0.18"/><ellipse cx="2403.3" cy="40.8" rx="1.5" ry="1.3" fill="#231e4a" fill-opacity="0.19"/><ellipse cx="2392.5" cy="49.8" rx="1.5" ry="1.3" fill="#231e4a" fill-opacity="0.20"/><ellipse cx="2381.2" cy="59.1" rx="1.6" ry="1.4" fill="#231e4a" fill-opacity="0.21"/><ellipse cx="2369.5" cy="68.8" rx="1.6" ry="1.4" fill="#231e4a" fill-opacity="0.23"/><ellipse cx="2357.3" cy="78.9" rx="1.6" ry="1.4" fill="#231e4a" fill-opacity="0.24"/><ellipse cx="2344.7" cy="89.4" rx="1.7" ry="1.5" fill="#231e4a" fill-opacity="0.26"/><ellipse cx="2331.4" cy="100.4" rx="1.8" ry="1.5" fill="#231e4a" fill-opacity="0.27"/><ellipse cx="2317.6" cy="111.8" rx="1.8" ry="1.6" fill="#231e4a" fill-opacity="0.29"/><ellipse cx="2303.2" cy="123.8" rx="1.9" ry="1.6" fill="#231e4a" fill-opacity="0.31"/><ellipse cx="2288.2" cy="136.2" rx="1.9" ry="1.7" fill="#231e4a" fill-opacity="0.33"/><ellipse cx="2272.4" cy="149.3" rx="2.0" ry="1.8" fill="#231e4a" fill-opacity="0.35"/><ellipse cx="2255.9" cy="162.9" rx="2.1" ry="1.8" fill="#231e4a" fill-opacity="0.37"/><ellipse cx="2238.6" cy="177.3" rx="2.2" ry="1.9" fill="#231e4a" fill-opacity="0.39"/><ellipse cx="2220.5" cy="192.3" rx="2.2" ry="2.0" fill="#231e4a" fill-opacity="0.41"/><ellipse cx="2201.4" cy="208.1" rx="2.3" ry="2.0" fill="#231e4a" fill-opacity="0.44"/><ellipse cx="2181.3" cy="224.8" rx="2.4" ry="2.1" fill="#231e4a" fill-opacity="0.47"/><ellipse cx="2160.1" cy="242.3" rx="2.5" ry="2.2" fill="#231e4a" fill-opacity="0.50"/><ellipse cx="2137.8" cy="260.8" rx="2.6" ry="2.3" fill="#231e4a" fill-opacity="0.53"/><ellipse cx="2114.2" cy="280.3" rx="2.7" ry="2.4" fill="#231e4a" fill-opacity="0.56"/><ellipse cx="2089.3" cy="301.0" rx="2.8" ry="2.5" fill="#231e4a" fill-opacity="0.60"/><ellipse cx="2062.8" cy="322.9" rx="3.0" ry="2.6" fill="#231e4a" fill-opacity="0.63"/><ellipse cx="2034.7" cy="346.2" rx="3.1" ry="2.7" fill="#231e4a" fill-opacity="0.68"/><ellipse cx="2004.8" cy="370.9" rx="3.3" ry="2.9" fill="#231e4a" fill-opacity="0.72"/><ellipse cx="1973.0" cy="397.3" rx="3.4" ry="3.0" fill="#231e4a" fill-opacity="0.77"/><ellipse cx="1938.9" cy="425.5" rx="3.6" ry="3.2" fill="#231e4a" fill-opacity="0.82"/><ellipse cx="1902.5" cy="455.7" rx="3.8" ry="3.3" fill="#231e4a" fill-opacity="0.88"/><ellipse cx="1863.4" cy="488.1" rx="4.0" ry="3.5" fill="#231e4a" fill-opacity="0.94"/><ellipse cx="2474.7" cy="3.5" rx="1.3" ry="1.1" fill="#231e4a" fill-opacity="0.18"/><ellipse cx="2466.0" cy="11.1" rx="1.3" ry="1.2" fill="#231e4a" fill-opacity="0.18"/><ellipse cx="2457.0" cy="19.0" rx="1.4" ry="1.2" fill="#231e4a" fill-opacity="0.18"/><ellipse cx="2447.6" cy="27.2" rx="1.4" ry="1.2" fill="#231e4a" fill-opacity="0.18"/><ellipse cx="2437.9" cy="35.7" rx="1.4" ry="1.3" fill="#231e4a" fill-opacity="0.18"/><ellipse cx="2427.8" cy="44.5" rx="1.5" ry="1.3" fill="#231e4a" fill-opacity="0.19"/><ellipse cx="2417.3" cy="53.7" rx="1.5" ry="1.3" fill="#231e4a" fill-opacity="0.21"/><ellipse cx="2406.4" cy="63.2" rx="1.6" ry="1.4" fill="#231e4a" fill-opacity="0.22"/><ellipse cx="2395.1" cy="73.1" rx="1.6" ry="1.4" fill="#231e4a" fill-opacity="0.23"/><ellipse cx="2383.3" cy="83.3" rx="1.7" ry="1.5" fill="#231e4a" fill-opacity="0.25"/><ellipse cx="2371.0" cy="94.1" rx="1.7" ry="1.5" fill="#231e4a" fill-opacity="0.26"/><ellipse cx="2358.1" cy="105.3" rx="1.8" ry="1.6" fill="#231e4a" fill-opacity="0.28"/><ellipse cx="2344.8" cy="116.9" rx="1.8" ry="1.6" fill="#231e4a" fill-opacity="0.30"/><ellipse cx="2330.8" cy="129.1" rx="1.9" ry="1.7" fill="#231e4a" fill-opacity="0.32"/><ellipse cx="2316.2" cy="141.9" rx="2.0" ry="1.7" fill="#231e4a" fill-opacity="0.34"/><ellipse cx="2300.9" cy="155.2" rx="2.0" ry="1.8" fill="#231e4a" fill-opacity="0.36"/><ellipse cx="2284.8" cy="169.2" rx="2.1" ry="1.9" fill="#231e4a" fill-opacity="0.38"/><ellipse cx="2268.0" cy="183.9" rx="2.2" ry="1.9" fill="#231e4a" fill-opacity="0.40"/><ellipse cx="2250.3" cy="199.3" rx="2.3" ry="2.0" fill="#231e4a" fill-opacity="0.43"/><ellipse cx="2231.8" cy="215.5" rx="2.4" ry="2.1" fill="#231e4a" fill-opacity="0.45"/><ellipse cx="2212.2" cy="232.6" rx="2.5" ry="2.2" fill="#231e4a" fill-opacity="0.48"/><ellipse cx="2191.6" cy="250.6" rx="2.6" ry="2.2" fill="#231e4a" fill-opacity="0.51"/><ellipse cx="2169.8" cy="269.6" rx="2.7" ry="2.3" fill="#231e4a" fill-opacity="0.54"/><ellipse cx="2146.8" cy="289.7" rx="2.8" ry="2.4" fill="#231e4a" fill-opacity="0.58"/><ellipse cx="2122.3" cy="311.0" rx="2.9" ry="2.6" fill="#231e4a" fill-opacity="0.62"/><ellipse cx="2096.5" cy="333.6" rx="3.0" ry="2.7" fill="#231e4a" fill-opacity="0.66"/><ellipse cx="2068.9" cy="357.6" rx="3.2" ry="2.8" fill="#231e4a" fill-opacity="0.70"/><ellipse cx="2039.6" cy="383.2" rx="3.3" ry="2.9" fill="#231e4a" fill-opacity="0.75"/><ellipse cx="2008.3" cy="410.5" rx="3.5" ry="3.1" fill="#231e4a" fill-opacity="0.80"/><ellipse cx="1974.9" cy="439.7" rx="3.7" ry="3.2" fill="#231e4a" fill-opacity="0.85"/><ellipse cx="1939.0" cy="471.0" rx="3.9" ry="3.4" fill="#231e4a" fill-opacity="0.91"/><ellipse cx="1900.5" cy="504.6" rx="4.1" ry="3.6" fill="#231e4a" fill-opacity="0.98"/><ellipse cx="1858.9" cy="540.9" rx="4.4" ry="3.8" fill="#231e4a" fill-opacity="1.00"/><ellipse cx="2498.0" cy="6.6" rx="1.3" ry="1.2" fill="#231e4a" fill-opacity="0.18"/><ellipse cx="2489.6" cy="14.3" rx="1.4" ry="1.2" fill="#231e4a" fill-opacity="0.18"/><ellipse cx="2480.8" cy="22.4" rx="1.4" ry="1.2" fill="#231e4a" fill-opacity="0.18"/><ellipse cx="2471.8" cy="30.7" rx="1.4" ry="1.3" fill="#231e4a" fill-opacity="0.18"/><ellipse cx="2462.4" cy="39.3" rx="1.5" ry="1.3" fill="#231e4a" fill-opacity="0.19"/><ellipse cx="2452.7" cy="48.3" rx="1.5" ry="1.3" fill="#231e4a" fill-opacity="0.20"/><ellipse cx="2442.6" cy="57.6" rx="1.6" ry="1.4" fill="#231e4a" fill-opacity="0.21"/><ellipse cx="2432.1" cy="67.3" rx="1.6" ry="1.4" fill="#231e4a" fill-opacity="0.23"/><ellipse cx="2421.2" cy="77.4" rx="1.7" ry="1.4" fill="#231e4a" fill-opacity="0.24"/><ellipse cx="2409.8" cy="87.9" rx="1.7" ry="1.5" fill="#231e4a" fill-opacity="0.26"/><ellipse cx="2397.9" cy="98.8" rx="1.8" ry="1.5" fill="#231e4a" fill-opacity="0.27"/><ellipse cx="2385.5" cy="110.3" rx="1.8" ry="1.6" fill="#231e4a" fill-opacity="0.29"/><ellipse cx="2372.6" cy="122.2" rx="1.9" ry="1.6" fill="#231e4a" fill-opacity="0.31"/><ellipse cx="2359.0" cy="134.6" rx="1.9" ry="1.7" fill="#231e4a" fill-opacity="0.33"/><ellipse cx="2344.9" cy="147.7" rx="2.0" ry="1.8" fill="#231e4a" fill-opacity="0.35"/><ellipse cx="2330.1" cy="161.4" rx="2.1" ry="1.8" fill="#231e4a" fill-opacity="0.37"/><ellipse cx="2314.5" cy="175.7" rx="2.2" ry="1.9" fill="#231e4a" fill-opacity="0.39"/><ellipse cx="2298.2" cy="190.7" rx="2.2" ry="2.0" fill="#231e4a" fill-opacity="0.42"/><ellipse cx="2281.1" cy="206.5" rx="2.3" ry="2.0" fill="#231e4a" fill-opacity="0.44"/><ellipse cx="2263.0" cy="223.2" rx="2.4" ry="2.1" fill="#231e4a" fill-opacity="0.47"/><ellipse cx="2244.0" cy="240.7" rx="2.5" ry="2.2" fill="#231e4a" fill-opacity="0.50"/><ellipse cx="2224.0" cy="259.2" rx="2.6" ry="2.3" fill="#231e4a" fill-opacity="0.53"/><ellipse cx="2202.8" cy="278.7" rx="2.7" ry="2.4" fill="#231e4a" fill-opacity="0.56"/><ellipse cx="2180.3" cy="299.4" rx="2.9" ry="2.5" fill="#231e4a" fill-opacity="0.60"/><ellipse cx="2156.5" cy="321.4" rx="3.0" ry="2.6" fill="#231e4a" fill-opacity="0.64"/><ellipse cx="2131.2" cy="344.7" rx="3.1" ry="2.7" fill="#231e4a" fill-opacity="0.68"/><ellipse cx="2104.4" cy="369.4" rx="3.3" ry="2.9" fill="#231e4a" fill-opacity="0.72"/><ellipse cx="2075.7" cy="395.9" rx="3.4" ry="3.0" fill="#231e4a" fill-opacity="0.77"/><ellipse cx="2045.0" cy="424.1" rx="3.6" ry="3.2" fill="#231e4a" fill-opacity="0.83"/><ellipse cx="2012.2" cy="454.4" rx="3.8" ry="3.3" fill="#231e4a" fill-opacity="0.88"/><ellipse cx="1977.0" cy="486.8" rx="4.0" ry="3.5" fill="#231e4a" fill-opacity="0.95"/><ellipse cx="1939.1" cy="521.8" rx="4.3" ry="3.7" fill="#231e4a" fill-opacity="1.00"/><ellipse cx="1898.2" cy="559.5" rx="4.5" ry="4.0" fill="#231e4a" fill-opacity="1.00"/><ellipse cx="1853.9" cy="600.4" rx="4.8" ry="4.2" fill="#231e4a" fill-opacity="1.00"/><ellipse cx="2529.4" cy="2.1" rx="1.3" ry="1.1" fill="#231e4a" fill-opacity="0.18"/><ellipse cx="2521.6" cy="9.7" rx="1.3" ry="1.2" fill="#231e4a" fill-opacity="0.18"/><ellipse cx="2513.6" cy="17.6" rx="1.4" ry="1.2" fill="#231e4a" fill-opacity="0.18"/><ellipse cx="2505.2" cy="25.7" rx="1.4" ry="1.2" fill="#231e4a" fill-opacity="0.18"/><ellipse cx="2496.5" cy="34.2" rx="1.5" ry="1.3" fill="#231e4a" fill-opacity="0.18"/><ellipse cx="2487.5" cy="43.0" rx="1.5" ry="1.3" fill="#231e4a" fill-opacity="0.19"/><ellipse cx="2478.2" cy="52.1" rx="1.5" ry="1.3" fill="#231e4a" fill-opacity="0.21"/><ellipse cx="2468.5" cy="61.6" rx="1.6" ry="1.4" fill="#231e4a" fill-opacity="0.22"/><ellipse cx="2458.4" cy="71.5" rx="1.6" ry="1.4" fill="#231e4a" fill-opacity="0.24"/><ellipse cx="2447.8" cy="81.8" rx="1.7" ry="1.5" fill="#231e4a" fill-opacity="0.25"/><ellipse cx="2436.9" cy="92.5" rx="1.7" ry="1.5" fill="#231e4a" fill-opacity="0.27"/><ellipse cx="2425.4" cy="103.7" rx="1.8" ry="1.6" fill="#231e4a" fill-opacity="0.28"/><ellipse cx="2413.5" cy="115.4" rx="1.9" ry="1.6" fill="#231e4a" fill-opacity="0.30"/><ellipse cx="2401.0" cy="127.6" rx="1.9" ry="1.7" fill="#231e4a" fill-opacity="0.32"/><ellipse cx="2388.0" cy="140.3" rx="2.0" ry="1.7" fill="#231e4a" fill-opacity="0.34"/><ellipse cx="2374.4" cy="153.6" rx="2.0" ry="1.8" fill="#231e4a" fill-opacity="0.36"/><ellipse cx="2360.0" cy="167.6" rx="2.1" ry="1.9" fill="#231e4a" fill-opacity="0.38"/><ellipse cx="2345.0" cy="182.3" rx="2.2" ry="1.9" fill="#231e4a" fill-opacity="0.41"/><ellipse cx="2329.3" cy="197.7" rx="2.3" ry="2.0" fill="#231e4a" fill-opacity="0.43"/><ellipse cx="2312.7" cy="213.9" rx="2.4" ry="2.1" fill="#231e4a" fill-opacity="0.46"/><ellipse cx="2295.2" cy="231.0" rx="2.5" ry="2.2" fill="#231e4a" fill-opacity="0.49"/><ellipse cx="2276.8" cy="249.0" rx="2.6" ry="2.3" fill="#231e4a" fill-opacity="0.52"/><ellipse cx="2257.3" cy="268.0" rx="2.7" ry="2.3" fill="#231e4a" fill-opacity="0.55"/><ellipse cx="2236.8" cy="288.1" rx="2.8" ry="2.5" fill="#231e4a" fill-opacity="0.58"/><ellipse cx="2215.0" cy="309.4" rx="2.9" ry="2.6" fill="#231e4a" fill-opacity="0.62"/><ellipse cx="2191.8" cy="332.1" rx="3.1" ry="2.7" fill="#231e4a" fill-opacity="0.66"/><ellipse cx="2167.2" cy="356.1" rx="3.2" ry="2.8" fill="#231e4a" fill-opacity="0.70"/><ellipse cx="2141.0" cy="381.7" rx="3.4" ry="2.9" fill="#231e4a" fill-opacity="0.75"/><ellipse cx="2113.1" cy="409.0" rx="3.5" ry="3.1" fill="#231e4a" fill-opacity="0.80"/><ellipse cx="2083.2" cy="438.3" rx="3.7" ry="3.3" fill="#231e4a" fill-opacity="0.86"/><ellipse cx="2051.1" cy="469.6" rx="3.9" ry="3.4" fill="#231e4a" fill-opacity="0.92"/><ellipse cx="2016.6" cy="503.4" rx="4.1" ry="3.6" fill="#231e4a" fill-opacity="0.99"/><ellipse cx="1979.4" cy="539.7" rx="4.4" ry="3.9" fill="#231e4a" fill-opacity="1.00"/><ellipse cx="1939.2" cy="579.0" rx="4.7" ry="4.1" fill="#231e4a" fill-opacity="1.00"/><ellipse cx="1895.6" cy="621.6" rx="5.0" ry="4.3" fill="#231e4a" fill-opacity="1.00"/><ellipse cx="1848.2" cy="668.0" rx="5.3" ry="4.6" fill="#231e4a" fill-opacity="1.00"/><ellipse cx="2553.2" cy="5.1" rx="1.3" ry="1.2" fill="#231e4a" fill-opacity="0.18"/><ellipse cx="2545.8" cy="12.9" rx="1.4" ry="1.2" fill="#231e4a" fill-opacity="0.18"/><ellipse cx="2538.0" cy="20.9" rx="1.4" ry="1.2" fill="#231e4a" fill-opacity="0.18"/><ellipse cx="2530.1" cy="29.2" rx="1.4" ry="1.3" fill="#231e4a" fill-opacity="0.18"/><ellipse cx="2521.8" cy="37.8" rx="1.5" ry="1.3" fill="#231e4a" fill-opacity="0.19"/><ellipse cx="2513.2" cy="46.8" rx="1.5" ry="1.3" fill="#231e4a" fill-opacity="0.20"/><ellipse cx="2504.2" cy="56.1" rx="1.6" ry="1.4" fill="#231e4a" fill-opacity="0.22"/><ellipse cx="2494.9" cy="65.8" rx="1.6" ry="1.4" fill="#231e4a" fill-opacity="0.23"/><ellipse cx="2485.2" cy="75.8" rx="1.7" ry="1.5" fill="#231e4a" fill-opacity="0.24"/><ellipse cx="2475.1" cy="86.3" rx="1.7" ry="1.5" fill="#231e4a" fill-opacity="0.26"/><ellipse cx="2464.6" cy="97.3" rx="1.8" ry="1.5" fill="#231e4a" fill-opacity="0.28"/><ellipse cx="2453.7" cy="108.7" rx="1.8" ry="1.6" fill="#231e4a" fill-opacity="0.29"/><ellipse cx="2442.2" cy="120.6" rx="1.9" ry="1.7" fill="#231e4a" fill-opacity="0.31"/><ellipse cx="2430.2" cy="133.1" rx="1.9" ry="1.7" fill="#231e4a" fill-opacity="0.33"/><ellipse cx="2417.7" cy="146.1" rx="2.0" ry="1.8" fill="#231e4a" fill-opacity="0.35"/><ellipse cx="2404.6" cy="159.8" rx="2.1" ry="1.8" fill="#231e4a" fill-opacity="0.37"/><ellipse cx="2390.8" cy="174.1" rx="2.2" ry="1.9" fill="#231e4a" fill-opacity="0.39"/><ellipse cx="2376.4" cy="189.1" rx="2.2" ry="2.0" fill="#231e4a" fill-opacity="0.42"/><ellipse cx="2361.2" cy="204.9" rx="2.3" ry="2.0" fill="#231e4a" fill-opacity="0.44"/><ellipse cx="2345.2" cy="221.6" rx="2.4" ry="2.1" fill="#231e4a" fill-opacity="0.47"/><ellipse cx="2328.3" cy="239.1" rx="2.5" ry="2.2" fill="#231e4a" fill-opacity="0.50"/><ellipse cx="2310.6" cy="257.6" rx="2.6" ry="2.3" fill="#231e4a" fill-opacity="0.53"/><ellipse cx="2291.8" cy="277.1" rx="2.7" ry="2.4" fill="#231e4a" fill-opacity="0.57"/><ellipse cx="2271.9" cy="297.8" rx="2.9" ry="2.5" fill="#231e4a" fill-opacity="0.60"/><ellipse cx="2250.8" cy="319.8" rx="3.0" ry="2.6" fill="#231e4a" fill-opacity="0.64"/><ellipse cx="2228.4" cy="343.1" rx="3.1" ry="2.8" fill="#231e4a" fill-opacity="0.68"/><ellipse cx="2204.5" cy="367.9" rx="3.3" ry="2.9" fill="#231e4a" fill-opacity="0.73"/><ellipse cx="2179.1" cy="394.4" rx="3.5" ry="3.0" fill="#231e4a" fill-opacity="0.78"/><ellipse cx="2151.9" cy="422.7" rx="3.6" ry="3.2" fill="#231e4a" fill-opacity="0.83"/><ellipse cx="2122.8" cy="453.0" rx="3.8" ry="3.4" fill="#231e4a" fill-opacity="0.89"/><ellipse cx="2091.5" cy="485.5" rx="4.0" ry="3.5" fill="#231e4a" fill-opacity="0.95"/><ellipse cx="2057.8" cy="520.6" rx="4.3" ry="3.8" fill="#231e4a" fill-opacity="1.00"/><ellipse cx="2021.5" cy="558.4" rx="4.5" ry="4.0" fill="#231e4a" fill-opacity="1.00"/><ellipse cx="1982.1" cy="599.4" rx="4.8" ry="4.2" fill="#231e4a" fill-opacity="1.00"/><ellipse cx="1939.3" cy="643.9" rx="5.1" ry="4.5" fill="#231e4a" fill-opacity="1.00"/><ellipse cx="1892.7" cy="692.4" rx="5.5" ry="4.8" fill="#231e4a" fill-opacity="1.00"/><ellipse cx="1841.6" cy="745.5" rx="5.9" ry="5.2" fill="#231e4a" fill-opacity="1.00"/><ellipse cx="2584.3" cy="0.6" rx="1.3" ry="1.1" fill="#231e4a" fill-opacity="0.18"/><ellipse cx="2577.4" cy="8.2" rx="1.3" ry="1.2" fill="#231e4a" fill-opacity="0.18"/><ellipse cx="2570.4" cy="16.1" rx="1.4" ry="1.2" fill="#231e4a" fill-opacity="0.18"/><ellipse cx="2563.0" cy="24.3" rx="1.4" ry="1.2" fill="#231e4a" fill-opacity="0.18"/><ellipse cx="2555.4" cy="32.7" rx="1.5" ry="1.3" fill="#231e4a" fill-opacity="0.18"/><ellipse cx="2547.5" cy="41.5" rx="1.5" ry="1.3" fill="#231e4a" fill-opacity="0.20"/><ellipse cx="2539.3" cy="50.6" rx="1.5" ry="1.4" fill="#231e4a" fill-opacity="0.21"/><ellipse cx="2530.8" cy="60.1" rx="1.6" ry="1.4" fill="#231e4a" fill-opacity="0.22"/><ellipse cx="2521.9" cy="70.0" rx="1.6" ry="1.4" fill="#231e4a" fill-opacity="0.24"/><ellipse cx="2512.7" cy="80.3" rx="1.7" ry="1.5" fill="#231e4a" fill-opacity="0.25"/><ellipse cx="2503.1" cy="91.0" rx="1.7" ry="1.5" fill="#231e4a" fill-opacity="0.27"/><ellipse cx="2493.0" cy="102.1" rx="1.8" ry="1.6" fill="#231e4a" fill-opacity="0.28"/><ellipse cx="2482.6" cy="113.8" rx="1.9" ry="1.6" fill="#231e4a" fill-opacity="0.30"/><ellipse cx="2471.6" cy="126.0" rx="1.9" ry="1.7" fill="#231e4a" fill-opacity="0.32"/><ellipse cx="2460.2" cy="138.7" rx="2.0" ry="1.7" fill="#231e4a" fill-opacity="0.34"/><ellipse cx="2448.2" cy="152.1" rx="2.1" ry="1.8" fill="#231e4a" fill-opacity="0.36"/><ellipse cx="2435.6" cy="166.0" rx="2.1" ry="1.9" fill="#231e4a" fill-opacity="0.38"/><ellipse cx="2422.4" cy="180.7" rx="2.2" ry="1.9" fill="#231e4a" fill-opacity="0.41"/><ellipse cx="2408.6" cy="196.1" rx="2.3" ry="2.0" fill="#231e4a" fill-opacity="0.43"/><ellipse cx="2394.0" cy="212.3" rx="2.4" ry="2.1" fill="#231e4a" fill-opacity="0.46"/><ellipse cx="2378.7" cy="229.4" rx="2.5" ry="2.2" fill="#231e4a" fill-opacity="0.49"/><ellipse cx="2362.5" cy="247.4" rx="2.6" ry="2.3" fill="#231e4a" fill-opacity="0.52"/><ellipse cx="2345.4" cy="266.4" rx="2.7" ry="2.4" fill="#231e4a" fill-opacity="0.55"/><ellipse cx="2327.3" cy="286.6" rx="2.8" ry="2.5" fill="#231e4a" fill-opacity="0.59"/><ellipse cx="2308.1" cy="307.9" rx="2.9" ry="2.6" fill="#231e4a" fill-opacity="0.62"/><ellipse cx="2287.8" cy="330.5" rx="3.1" ry="2.7" fill="#231e4a" fill-opacity="0.66"/><ellipse cx="2266.1" cy="354.6" rx="3.2" ry="2.8" fill="#231e4a" fill-opacity="0.71"/><ellipse cx="2243.1" cy="380.2" rx="3.4" ry="3.0" fill="#231e4a" fill-opacity="0.76"/><ellipse cx="2218.5" cy="407.6" rx="3.6" ry="3.1" fill="#231e4a" fill-opacity="0.81"/><ellipse cx="2192.2" cy="436.9" rx="3.7" ry="3.3" fill="#231e4a" fill-opacity="0.86"/><ellipse cx="2163.9" cy="468.3" rx="3.9" ry="3.5" fill="#231e4a" fill-opacity="0.92"/><ellipse cx="2133.6" cy="502.1" rx="4.2" ry="3.7" fill="#231e4a" fill-opacity="0.99"/><ellipse cx="2100.8" cy="538.5" rx="4.4" ry="3.9" fill="#231e4a" fill-opacity="1.00"/><ellipse cx="2065.4" cy="577.9" rx="4.7" ry="4.1" fill="#231e4a" fill-opacity="1.00"/><ellipse cx="2027.0" cy="620.7" rx="5.0" ry="4.4" fill="#231e4a" fill-opacity="1.00"/><ellipse cx="1985.2" cy="667.2" rx="5.3" ry="4.7" fill="#231e4a" fill-opacity="1.00"/><ellipse cx="1939.5" cy="718.0" rx="5.7" ry="5.0" fill="#231e4a" fill-opacity="1.00"/><ellipse cx="1889.3" cy="773.8" rx="6.1" ry="5.4" fill="#231e4a" fill-opacity="1.00"/><ellipse cx="2608.6" cy="3.7" rx="1.3" ry="1.2" fill="#231e4a" fill-opacity="0.18"/><ellipse cx="2602.1" cy="11.4" rx="1.4" ry="1.2" fill="#231e4a" fill-opacity="0.18"/><ellipse cx="2595.4" cy="19.4" rx="1.4" ry="1.2" fill="#231e4a" fill-opacity="0.18"/><ellipse cx="2588.5" cy="27.7" rx="1.4" ry="1.3" fill="#231e4a" fill-opacity="0.18"/><ellipse cx="2581.3" cy="36.3" rx="1.5" ry="1.3" fill="#231e4a" fill-opacity="0.19"/><ellipse cx="2573.8" cy="45.3" rx="1.5" ry="1.3" fill="#231e4a" fill-opacity="0.20"/><ellipse cx="2566.0" cy="54.6" rx="1.6" ry="1.4" fill="#231e4a" fill-opacity="0.22"/><ellipse cx="2558.0" cy="64.2" rx="1.6" ry="1.4" fill="#231e4a" fill-opacity="0.23"/><ellipse cx="2549.6" cy="74.3" rx="1.7" ry="1.5" fill="#231e4a" fill-opacity="0.25"/><ellipse cx="2540.8" cy="84.8" rx="1.7" ry="1.5" fill="#231e4a" fill-opacity="0.26"/><ellipse cx="2531.6" cy="95.7" rx="1.8" ry="1.6" fill="#231e4a" fill-opacity="0.28"/><ellipse cx="2522.1" cy="107.1" rx="1.8" ry="1.6" fill="#231e4a" fill-opacity="0.29"/><ellipse cx="2512.2" cy="119.0" rx="1.9" ry="1.7" fill="#231e4a" fill-opacity="0.31"/><ellipse cx="2501.7" cy="131.5" rx="2.0" ry="1.7" fill="#231e4a" fill-opacity="0.33"/><ellipse cx="2490.8" cy="144.5" rx="2.0" ry="1.8" fill="#231e4a" fill-opacity="0.35"/><ellipse cx="2479.4" cy="158.2" rx="2.1" ry="1.8" fill="#231e4a" fill-opacity="0.37"/><ellipse cx="2467.5" cy="172.5" rx="2.2" ry="1.9" fill="#231e4a" fill-opacity="0.40"/><ellipse cx="2454.9" cy="187.5" rx="2.3" ry="2.0" fill="#231e4a" fill-opacity="0.42"/><ellipse cx="2441.7" cy="203.3" rx="2.3" ry="2.1" fill="#231e4a" fill-opacity="0.45"/><ellipse cx="2427.8" cy="219.9" rx="2.4" ry="2.1" fill="#231e4a" fill-opacity="0.48"/><ellipse cx="2413.1" cy="237.5" rx="2.5" ry="2.2" fill="#231e4a" fill-opacity="0.50"/><ellipse cx="2397.6" cy="256.0" rx="2.6" ry="2.3" fill="#231e4a" fill-opacity="0.54"/><ellipse cx="2381.3" cy="275.5" rx="2.8" ry="2.4" fill="#231e4a" fill-opacity="0.57"/><ellipse cx="2364.0" cy="296.3" rx="2.9" ry="2.5" fill="#231e4a" fill-opacity="0.61"/><ellipse cx="2345.6" cy="318.2" rx="3.0" ry="2.6" fill="#231e4a" fill-opacity="0.65"/><ellipse cx="2326.1" cy="341.6" rx="3.2" ry="2.8" fill="#231e4a" fill-opacity="0.69"/><ellipse cx="2305.3" cy="366.4" rx="3.3" ry="2.9" fill="#231e4a" fill-opacity="0.73"/><ellipse cx="2283.1" cy="392.9" rx="3.5" ry="3.0" fill="#231e4a" fill-opacity="0.78"/><ellipse cx="2259.4" cy="421.3" rx="3.7" ry="3.2" fill="#231e4a" fill-opacity="0.84"/><ellipse cx="2234.0" cy="451.6" rx="3.9" ry="3.4" fill="#231e4a" fill-opacity="0.90"/><ellipse cx="2206.8" cy="484.2" rx="4.1" ry="3.6" fill="#231e4a" fill-opacity="0.96"/><ellipse cx="2177.4" cy="519.3" rx="4.3" ry="3.8" fill="#231e4a" fill-opacity="1.00"/><ellipse cx="2145.7" cy="557.3" rx="4.6" ry="4.0" fill="#231e4a" fill-opacity="1.00"/><ellipse cx="2111.4" cy="598.3" rx="4.9" ry="4.3" fill="#231e4a" fill-opacity="1.00"/><ellipse cx="2074.0" cy="643.0" rx="5.2" ry="4.5" fill="#231e4a" fill-opacity="1.00"/><ellipse cx="2033.3" cy="691.7" rx="5.5" ry="4.8" fill="#231e4a" fill-opacity="1.00"/><ellipse cx="1988.7" cy="745.0" rx="5.9" ry="5.2" fill="#231e4a" fill-opacity="1.00"/><ellipse cx="1939.6" cy="803.7" rx="6.4" ry="5.6" fill="#231e4a" fill-opacity="1.00"/><ellipse cx="2633.4" cy="6.8" rx="1.3" ry="1.2" fill="#231e4a" fill-opacity="0.18"/><ellipse cx="2627.3" cy="14.6" rx="1.4" ry="1.2" fill="#231e4a" fill-opacity="0.18"/><ellipse cx="2621.0" cy="22.8" rx="1.4" ry="1.2" fill="#231e4a" fill-opacity="0.18"/><ellipse cx="2614.5" cy="31.2" rx="1.5" ry="1.3" fill="#231e4a" fill-opacity="0.18"/><ellipse cx="2607.7" cy="40.0" rx="1.5" ry="1.3" fill="#231e4a" fill-opacity="0.20"/><ellipse cx="2600.7" cy="49.1" rx="1.5" ry="1.4" fill="#231e4a" fill-opacity="0.21"/><ellipse cx="2593.4" cy="58.6" rx="1.6" ry="1.4" fill="#231e4a" fill-opacity="0.22"/><ellipse cx="2585.7" cy="68.5" rx="1.6" ry="1.4" fill="#231e4a" fill-opacity="0.24"/><ellipse cx="2577.8" cy="78.7" rx="1.7" ry="1.5" fill="#231e4a" fill-opacity="0.25"/><ellipse cx="2569.5" cy="89.4" rx="1.7" ry="1.5" fill="#231e4a" fill-opacity="0.27"/><ellipse cx="2560.9" cy="100.6" rx="1.8" ry="1.6" fill="#231e4a" fill-opacity="0.29"/><ellipse cx="2551.9" cy="112.2" rx="1.9" ry="1.6" fill="#231e4a" fill-opacity="0.30"/><ellipse cx="2542.5" cy="124.4" rx="1.9" ry="1.7" fill="#231e4a" fill-opacity="0.32"/><ellipse cx="2532.6" cy="137.1" rx="2.0" ry="1.7" fill="#231e4a" fill-opacity="0.34"/><ellipse cx="2522.3" cy="150.4" rx="2.1" ry="1.8" fill="#231e4a" fill-opacity="0.36"/><ellipse cx="2511.5" cy="164.4" rx="2.1" ry="1.9" fill="#231e4a" fill-opacity="0.39"/><ellipse cx="2500.2" cy="179.1" rx="2.2" ry="1.9" fill="#231e4a" fill-opacity="0.41"/><ellipse cx="2488.3" cy="194.5" rx="2.3" ry="2.0" fill="#231e4a" fill-opacity="0.44"/><ellipse cx="2475.7" cy="210.7" rx="2.4" ry="2.1" fill="#231e4a" fill-opacity="0.46"/><ellipse cx="2462.5" cy="227.8" rx="2.5" ry="2.2" fill="#231e4a" fill-opacity="0.49"/><ellipse cx="2448.6" cy="245.8" rx="2.6" ry="2.3" fill="#231e4a" fill-opacity="0.52"/><ellipse cx="2433.9" cy="264.8" rx="2.7" ry="2.4" fill="#231e4a" fill-opacity="0.55"/><ellipse cx="2418.3" cy="285.0" rx="2.8" ry="2.5" fill="#231e4a" fill-opacity="0.59"/><ellipse cx="2401.8" cy="306.3" rx="3.0" ry="2.6" fill="#231e4a" fill-opacity="0.63"/><ellipse cx="2384.3" cy="328.9" rx="3.1" ry="2.7" fill="#231e4a" fill-opacity="0.67"/><ellipse cx="2365.7" cy="353.0" rx="3.2" ry="2.8" fill="#231e4a" fill-opacity="0.71"/><ellipse cx="2345.8" cy="378.7" rx="3.4" ry="3.0" fill="#231e4a" fill-opacity="0.76"/><ellipse cx="2324.6" cy="406.1" rx="3.6" ry="3.1" fill="#231e4a" fill-opacity="0.81"/><ellipse cx="2301.9" cy="435.5" rx="3.8" ry="3.3" fill="#231e4a" fill-opacity="0.87"/><ellipse cx="2277.6" cy="466.9" rx="4.0" ry="3.5" fill="#231e4a" fill-opacity="0.93"/><ellipse cx="2251.4" cy="500.8" rx="4.2" ry="3.7" fill="#231e4a" fill-opacity="1.00"/><ellipse cx="2223.2" cy="537.3" rx="4.4" ry="3.9" fill="#231e4a" fill-opacity="1.00"/><ellipse cx="2192.6" cy="576.8" rx="4.7" ry="4.1" fill="#231e4a" fill-opacity="1.00"/><ellipse cx="2159.5" cy="619.7" rx="5.0" ry="4.4" fill="#231e4a" fill-opacity="1.00"/><ellipse cx="2123.4" cy="666.4" rx="5.4" ry="4.7" fill="#231e4a" fill-opacity="1.00"/><ellipse cx="2083.9" cy="717.4" rx="5.7" ry="5.0" fill="#231e4a" fill-opacity="1.00"/><ellipse cx="2040.6" cy="773.5" rx="6.2" ry="5.4" fill="#231e4a" fill-opacity="1.00"/><ellipse cx="2664.2" cy="2.2" rx="1.3" ry="1.2" fill="#231e4a" fill-opacity="0.18"/><ellipse cx="2658.7" cy="9.9" rx="1.4" ry="1.2" fill="#231e4a" fill-opacity="0.18"/><ellipse cx="2653.1" cy="17.9" rx="1.4" ry="1.2" fill="#231e4a" fill-opacity="0.18"/><ellipse cx="2647.2" cy="26.2" rx="1.4" ry="1.3" fill="#231e4a" fill-opacity="0.18"/><ellipse cx="2641.1" cy="34.8" rx="1.5" ry="1.3" fill="#231e4a" fill-opacity="0.19"/><ellipse cx="2634.7" cy="43.8" rx="1.5" ry="1.3" fill="#231e4a" fill-opacity="0.20"/><ellipse cx="2628.1" cy="53.0" rx="1.6" ry="1.4" fill="#231e4a" fill-opacity="0.22"/><ellipse cx="2621.3" cy="62.7" rx="1.6" ry="1.4" fill="#231e4a" fill-opacity="0.23"/><ellipse cx="2614.1" cy="72.8" rx="1.7" ry="1.5" fill="#231e4a" fill-opacity="0.25"/><ellipse cx="2606.7" cy="83.2" rx="1.7" ry="1.5" fill="#231e4a" fill-opacity="0.26"/><ellipse cx="2598.9" cy="94.1" rx="1.8" ry="1.6" fill="#231e4a" fill-opacity="0.28"/><ellipse cx="2590.9" cy="105.5" rx="1.8" ry="1.6" fill="#231e4a" fill-opacity="0.30"/><ellipse cx="2582.4" cy="117.4" rx="1.9" ry="1.7" fill="#231e4a" fill-opacity="0.31"/><ellipse cx="2573.6" cy="129.9" rx="2.0" ry="1.7" fill="#231e4a" fill-opacity="0.33"/><ellipse cx="2564.3" cy="142.9" rx="2.0" ry="1.8" fill="#231e4a" fill-opacity="0.35"/><ellipse cx="2554.6" cy="156.5" rx="2.1" ry="1.8" fill="#231e4a" fill-opacity="0.38"/><ellipse cx="2544.5" cy="170.9" rx="2.2" ry="1.9" fill="#231e4a" fill-opacity="0.40"/><ellipse cx="2533.8" cy="185.9" rx="2.3" ry="2.0" fill="#231e4a" fill-opacity="0.42"/><ellipse cx="2522.6" cy="201.7" rx="2.4" ry="2.1" fill="#231e4a" fill-opacity="0.45"/><ellipse cx="2510.8" cy="218.3" rx="2.4" ry="2.1" fill="#231e4a" fill-opacity="0.48"/><ellipse cx="2498.3" cy="235.9" rx="2.5" ry="2.2" fill="#231e4a" fill-opacity="0.51"/><ellipse cx="2485.2" cy="254.4" rx="2.7" ry="2.3" fill="#231e4a" fill-opacity="0.54"/><ellipse cx="2471.3" cy="273.9" rx="2.8" ry="2.4" fill="#231e4a" fill-opacity="0.57"/><ellipse cx="2456.6" cy="294.7" rx="2.9" ry="2.5" fill="#231e4a" fill-opacity="0.61"/><ellipse cx="2441.0" cy="316.7" rx="3.0" ry="2.6" fill="#231e4a" fill-opacity="0.65"/><ellipse cx="2424.4" cy="340.0" rx="3.2" ry="2.8" fill="#231e4a" fill-opacity="0.69"/><ellipse cx="2406.7" cy="364.9" rx="3.3" ry="2.9" fill="#231e4a" fill-opacity="0.74"/><ellipse cx="2387.9" cy="391.4" rx="3.5" ry="3.1" fill="#231e4a" fill-opacity="0.79"/><ellipse cx="2367.7" cy="419.8" rx="3.7" ry="3.2" fill="#231e4a" fill-opacity="0.84"/><ellipse cx="2346.1" cy="450.2" rx="3.9" ry="3.4" fill="#231e4a" fill-opacity="0.90"/><ellipse cx="2322.9" cy="482.9" rx="4.1" ry="3.6" fill="#231e4a" fill-opacity="0.97"/><ellipse cx="2297.9" cy="518.1" rx="4.3" ry="3.8" fill="#231e4a" fill-opacity="1.00"/><ellipse cx="2270.9" cy="556.1" rx="4.6" ry="4.0" fill="#231e4a" fill-opacity="1.00"/><ellipse cx="2241.7" cy="597.3" rx="4.9" ry="4.3" fill="#231e4a" fill-opacity="1.00"/><ellipse cx="2209.9" cy="642.1" rx="5.2" ry="4.6" fill="#231e4a" fill-opacity="1.00"/><ellipse cx="2175.2" cy="691.0" rx="5.6" ry="4.9" fill="#231e4a" fill-opacity="1.00"/><ellipse cx="2137.1" cy="744.6" rx="6.0" ry="5.2" fill="#231e4a" fill-opacity="1.00"/><ellipse cx="2095.3" cy="803.5" rx="6.4" ry="5.6" fill="#231e4a" fill-opacity="1.00"/><ellipse cx="2689.6" cy="5.3" rx="1.3" ry="1.2" fill="#231e4a" fill-opacity="0.18"/><ellipse cx="2684.5" cy="13.2" rx="1.4" ry="1.2" fill="#231e4a" fill-opacity="0.18"/><ellipse cx="2679.3" cy="21.3" rx="1.4" ry="1.2" fill="#231e4a" fill-opacity="0.18"/><ellipse cx="2673.8" cy="29.7" rx="1.5" ry="1.3" fill="#231e4a" fill-opacity="0.19"/><ellipse cx="2668.2" cy="38.5" rx="1.5" ry="1.3" fill="#231e4a" fill-opacity="0.20"/><ellipse cx="2662.3" cy="47.6" rx="1.6" ry="1.4" fill="#231e4a" fill-opacity="0.21"/><ellipse cx="2656.2" cy="57.1" rx="1.6" ry="1.4" fill="#231e4a" fill-opacity="0.23"/><ellipse cx="2649.8" cy="66.9" rx="1.6" ry="1.4" fill="#231e4a" fill-opacity="0.24"/><ellipse cx="2643.2" cy="77.2" rx="1.7" ry="1.5" fill="#231e4a" fill-opacity="0.26"/><ellipse cx="2636.3" cy="87.8" rx="1.8" ry="1.5" fill="#231e4a" fill-opacity="0.27"/><ellipse cx="2629.1" cy="99.0" rx="1.8" ry="1.6" fill="#231e4a" fill-opacity="0.29"/><ellipse cx="2621.5" cy="110.6" rx="1.9" ry="1.6" fill="#231e4a" fill-opacity="0.31"/><ellipse cx="2613.7" cy="122.8" rx="1.9" ry="1.7" fill="#231e4a" fill-opacity="0.33"/><ellipse cx="2605.4" cy="135.5" rx="2.0" ry="1.8" fill="#231e4a" fill-opacity="0.35"/><ellipse cx="2596.8" cy="148.8" rx="2.1" ry="1.8" fill="#231e4a" fill-opacity="0.37"/><ellipse cx="2587.8" cy="162.8" rx="2.1" ry="1.9" fill="#231e4a" fill-opacity="0.39"/><ellipse cx="2578.3" cy="177.5" rx="2.2" ry="2.0" fill="#231e4a" fill-opacity="0.41"/><ellipse cx="2568.4" cy="192.9" rx="2.3" ry="2.0" fill="#231e4a" fill-opacity="0.44"/><ellipse cx="2557.9" cy="209.1" rx="2.4" ry="2.1" fill="#231e4a" fill-opacity="0.47"/><ellipse cx="2546.8" cy="226.2" rx="2.5" ry="2.2" fill="#231e4a" fill-opacity="0.49"/><ellipse cx="2535.2" cy="244.2" rx="2.6" ry="2.3" fill="#231e4a" fill-opacity="0.53"/><ellipse cx="2522.9" cy="263.2" rx="2.7" ry="2.4" fill="#231e4a" fill-opacity="0.56"/><ellipse cx="2509.9" cy="283.4" rx="2.8" ry="2.5" fill="#231e4a" fill-opacity="0.59"/><ellipse cx="2496.1" cy="304.7" rx="3.0" ry="2.6" fill="#231e4a" fill-opacity="0.63"/><ellipse cx="2481.4" cy="327.4" rx="3.1" ry="2.7" fill="#231e4a" fill-opacity="0.67"/><ellipse cx="2465.8" cy="351.5" rx="3.3" ry="2.8" fill="#231e4a" fill-opacity="0.72"/><ellipse cx="2449.2" cy="377.2" rx="3.4" ry="3.0" fill="#231e4a" fill-opacity="0.77"/><ellipse cx="2431.5" cy="404.6" rx="3.6" ry="3.1" fill="#231e4a" fill-opacity="0.82"/><ellipse cx="2412.5" cy="434.0" rx="3.8" ry="3.3" fill="#231e4a" fill-opacity="0.88"/><ellipse cx="2392.1" cy="465.6" rx="4.0" ry="3.5" fill="#231e4a" fill-opacity="0.94"/><ellipse cx="2370.1" cy="499.5" rx="4.2" ry="3.7" fill="#231e4a" fill-opacity="1.00"/><ellipse cx="2346.5" cy="536.1" rx="4.5" ry="3.9" fill="#231e4a" fill-opacity="1.00"/><ellipse cx="2320.8" cy="575.7" rx="4.7" ry="4.2" fill="#231e4a" fill-opacity="1.00"/><ellipse cx="2293.0" cy="618.8" rx="5.1" ry="4.4" fill="#231e4a" fill-opacity="1.00"/><ellipse cx="2262.8" cy="665.6" rx="5.4" ry="4.7" fill="#231e4a" fill-opacity="1.00"/><ellipse cx="2229.6" cy="716.8" rx="5.8" ry="5.1" fill="#231e4a" fill-opacity="1.00"/><ellipse cx="2193.2" cy="773.1" rx="6.2" ry="5.4" fill="#231e4a" fill-opacity="1.00"/><ellipse cx="2720.0" cy="0.8" rx="1.3" ry="1.2" fill="#231e4a" fill-opacity="0.18"/><ellipse cx="2715.5" cy="8.5" rx="1.4" ry="1.2" fill="#231e4a" fill-opacity="0.18"/><ellipse cx="2710.9" cy="16.5" rx="1.4" ry="1.2" fill="#231e4a" fill-opacity="0.18"/><ellipse cx="2706.0" cy="24.7" rx="1.4" ry="1.3" fill="#231e4a" fill-opacity="0.18"/><ellipse cx="2701.0" cy="33.3" rx="1.5" ry="1.3" fill="#231e4a" fill-opacity="0.19"/><ellipse cx="2695.8" cy="42.2" rx="1.5" ry="1.3" fill="#231e4a" fill-opacity="0.21"/><ellipse cx="2690.4" cy="51.5" rx="1.6" ry="1.4" fill="#231e4a" fill-opacity="0.22"/><ellipse cx="2684.8" cy="61.2" rx="1.6" ry="1.4" fill="#231e4a" fill-opacity="0.23"/><ellipse cx="2679.0" cy="71.2" rx="1.7" ry="1.5" fill="#231e4a" fill-opacity="0.25"/><ellipse cx="2672.9" cy="81.7" rx="1.7" ry="1.5" fill="#231e4a" fill-opacity="0.26"/><ellipse cx="2666.5" cy="92.6" rx="1.8" ry="1.6" fill="#231e4a" fill-opacity="0.28"/><ellipse cx="2659.9" cy="104.0" rx="1.8" ry="1.6" fill="#231e4a" fill-opacity="0.30"/><ellipse cx="2653.0" cy="115.8" rx="1.9" ry="1.7" fill="#231e4a" fill-opacity="0.32"/><ellipse cx="2645.7" cy="128.3" rx="2.0" ry="1.7" fill="#231e4a" fill-opacity="0.34"/><ellipse cx="2638.1" cy="141.3" rx="2.0" ry="1.8" fill="#231e4a" fill-opacity="0.36"/><ellipse cx="2630.2" cy="154.9" rx="2.1" ry="1.9" fill="#231e4a" fill-opacity="0.38"/><ellipse cx="2621.9" cy="169.2" rx="2.2" ry="1.9" fill="#231e4a" fill-opacity="0.40"/><ellipse cx="2613.1" cy="184.3" rx="2.3" ry="2.0" fill="#231e4a" fill-opacity="0.43"/><ellipse cx="2603.9" cy="200.1" rx="2.4" ry="2.1" fill="#231e4a" fill-opacity="0.45"/><ellipse cx="2594.2" cy="216.7" rx="2.5" ry="2.2" fill="#231e4a" fill-opacity="0.48"/><ellipse cx="2584.0" cy="234.2" rx="2.6" ry="2.2" fill="#231e4a" fill-opacity="0.51"/><ellipse cx="2573.2" cy="252.7" rx="2.7" ry="2.3" fill="#231e4a" fill-opacity="0.54"/><ellipse cx="2561.8" cy="272.3" rx="2.8" ry="2.4" fill="#231e4a" fill-opacity="0.58"/><ellipse cx="2549.7" cy="293.1" rx="2.9" ry="2.5" fill="#231e4a" fill-opacity="0.61"/><ellipse cx="2536.9" cy="315.1" rx="3.0" ry="2.7" fill="#231e4a" fill-opacity="0.65"/><ellipse cx="2523.3" cy="338.5" rx="3.2" ry="2.8" fill="#231e4a" fill-opacity="0.70"/><ellipse cx="2508.8" cy="363.4" rx="3.3" ry="2.9" fill="#231e4a" fill-opacity="0.74"/><ellipse cx="2493.3" cy="389.9" rx="3.5" ry="3.1" fill="#231e4a" fill-opacity="0.79"/><ellipse cx="2476.7" cy="418.4" rx="3.7" ry="3.2" fill="#231e4a" fill-opacity="0.85"/><ellipse cx="2459.0" cy="448.8" rx="3.9" ry="3.4" fill="#231e4a" fill-opacity="0.91"/><ellipse cx="2439.9" cy="481.6" rx="4.1" ry="3.6" fill="#231e4a" fill-opacity="0.97"/><ellipse cx="2419.3" cy="516.8" rx="4.4" ry="3.8" fill="#231e4a" fill-opacity="1.00"/><ellipse cx="2397.1" cy="555.0" rx="4.6" ry="4.0" fill="#231e4a" fill-opacity="1.00"/><ellipse cx="2373.1" cy="596.3" rx="4.9" ry="4.3" fill="#231e4a" fill-opacity="1.00"/><ellipse cx="2346.9" cy="641.2" rx="5.2" ry="4.6" fill="#231e4a" fill-opacity="1.00"/><ellipse cx="2318.3" cy="690.3" rx="5.6" ry="4.9" fill="#231e4a" fill-opacity="1.00"/><ellipse cx="2287.0" cy="744.1" rx="6.0" ry="5.3" fill="#231e4a" fill-opacity="1.00"/><ellipse cx="2252.5" cy="803.3" rx="6.5" ry="5.7" fill="#231e4a" fill-opacity="1.00"/><ellipse cx="2746.0" cy="3.9" rx="1.4" ry="1.2" fill="#231e4a" fill-opacity="0.18"/><ellipse cx="2741.9" cy="11.7" rx="1.4" ry="1.2" fill="#231e4a" fill-opacity="0.18"/><ellipse cx="2737.7" cy="19.8" rx="1.4" ry="1.3" fill="#231e4a" fill-opacity="0.18"/><ellipse cx="2733.4" cy="28.2" rx="1.5" ry="1.3" fill="#231e4a" fill-opacity="0.19"/><ellipse cx="2728.8" cy="37.0" rx="1.5" ry="1.3" fill="#231e4a" fill-opacity="0.20"/><ellipse cx="2724.1" cy="46.1" rx="1.6" ry="1.4" fill="#231e4a" fill-opacity="0.21"/><ellipse cx="2719.2" cy="55.5" rx="1.6" ry="1.4" fill="#231e4a" fill-opacity="0.23"/><ellipse cx="2714.1" cy="65.4" rx="1.7" ry="1.4" fill="#231e4a" fill-opacity="0.24"/><ellipse cx="2708.8" cy="75.6" rx="1.7" ry="1.5" fill="#231e4a" fill-opacity="0.26"/><ellipse cx="2703.3" cy="86.3" rx="1.8" ry="1.5" fill="#231e4a" fill-opacity="0.27"/><ellipse cx="2697.5" cy="97.4" rx="1.8" ry="1.6" fill="#231e4a" fill-opacity="0.29"/><ellipse cx="2691.5" cy="109.0" rx="1.9" ry="1.6" fill="#231e4a" fill-opacity="0.31"/><ellipse cx="2685.2" cy="121.2" rx="1.9" ry="1.7" fill="#231e4a" fill-opacity="0.33"/><ellipse cx="2678.6" cy="133.9" rx="2.0" ry="1.8" fill="#231e4a" fill-opacity="0.35"/><ellipse cx="2671.7" cy="147.2" rx="2.1" ry="1.8" fill="#231e4a" fill-opacity="0.37"/><ellipse cx="2664.4" cy="161.2" rx="2.2" ry="1.9" fill="#231e4a" fill-opacity="0.39"/><ellipse cx="2656.8" cy="175.8" rx="2.2" ry="2.0" fill="#231e4a" fill-opacity="0.42"/><ellipse cx="2648.9" cy="191.2" rx="2.3" ry="2.0" fill="#231e4a" fill-opacity="0.44"/><ellipse cx="2640.5" cy="207.4" rx="2.4" ry="2.1" fill="#231e4a" fill-opacity="0.47"/><ellipse cx="2631.6" cy="224.5" rx="2.5" ry="2.2" fill="#231e4a" fill-opacity="0.50"/><ellipse cx="2622.3" cy="242.5" rx="2.6" ry="2.3" fill="#231e4a" fill-opacity="0.53"/><ellipse cx="2612.4" cy="261.6" rx="2.7" ry="2.4" fill="#231e4a" fill-opacity="0.56"/><ellipse cx="2601.9" cy="281.7" rx="2.8" ry="2.5" fill="#231e4a" fill-opacity="0.60"/><ellipse cx="2590.9" cy="303.1" rx="3.0" ry="2.6" fill="#231e4a" fill-opacity="0.64"/><ellipse cx="2579.1" cy="325.8" rx="3.1" ry="2.7" fill="#231e4a" fill-opacity="0.68"/><ellipse cx="2566.6" cy="349.9" rx="3.3" ry="2.9" fill="#231e4a" fill-opacity="0.72"/><ellipse cx="2553.3" cy="375.7" rx="3.4" ry="3.0" fill="#231e4a" fill-opacity="0.77"/><ellipse cx="2539.0" cy="403.2" rx="3.6" ry="3.2" fill="#231e4a" fill-opacity="0.82"/><ellipse cx="2523.7" cy="432.6" rx="3.8" ry="3.3" fill="#231e4a" fill-opacity="0.88"/><ellipse cx="2507.4" cy="464.2" rx="4.0" ry="3.5" fill="#231e4a" fill-opacity="0.94"/><ellipse cx="2489.7" cy="498.2" rx="4.2" ry="3.7" fill="#231e4a" fill-opacity="1.00"/><ellipse cx="2470.7" cy="534.9" rx="4.5" ry="3.9" fill="#231e4a" fill-opacity="1.00"/><ellipse cx="2450.1" cy="574.6" rx="4.8" ry="4.2" fill="#231e4a" fill-opacity="1.00"/><ellipse cx="2427.8" cy="617.8" rx="5.1" ry="4.5" fill="#231e4a" fill-opacity="1.00"/><ellipse cx="2403.4" cy="664.8" rx="5.4" ry="4.8" fill="#231e4a" fill-opacity="1.00"/><ellipse cx="2376.7" cy="716.2" rx="5.8" ry="5.1" fill="#231e4a" fill-opacity="1.00"/><ellipse cx="2347.4" cy="772.8" rx="6.3" ry="5.5" fill="#231e4a" fill-opacity="1.00"/><ellipse cx="2765.1" cy="23.2" rx="1.5" ry="1.3" fill="#231e4a" fill-opacity="0.18"/><ellipse cx="2761.2" cy="31.8" rx="1.5" ry="1.3" fill="#231e4a" fill-opacity="0.19"/><ellipse cx="2757.2" cy="40.7" rx="1.5" ry="1.3" fill="#231e4a" fill-opacity="0.21"/><ellipse cx="2753.0" cy="50.0" rx="1.6" ry="1.4" fill="#231e4a" fill-opacity="0.22"/><ellipse cx="2748.6" cy="59.6" rx="1.6" ry="1.4" fill="#231e4a" fill-opacity="0.23"/><ellipse cx="2744.1" cy="69.6" rx="1.7" ry="1.5" fill="#231e4a" fill-opacity="0.25"/><ellipse cx="2739.3" cy="80.1" rx="1.7" ry="1.5" fill="#231e4a" fill-opacity="0.27"/><ellipse cx="2734.4" cy="91.0" rx="1.8" ry="1.6" fill="#231e4a" fill-opacity="0.28"/><ellipse cx="2729.2" cy="102.4" rx="1.8" ry="1.6" fill="#231e4a" fill-opacity="0.30"/><ellipse cx="2723.8" cy="114.2" rx="1.9" ry="1.7" fill="#231e4a" fill-opacity="0.32"/><ellipse cx="2718.2" cy="126.7" rx="2.0" ry="1.7" fill="#231e4a" fill-opacity="0.34"/><ellipse cx="2712.3" cy="139.7" rx="2.0" ry="1.8" fill="#231e4a" fill-opacity="0.36"/><ellipse cx="2706.1" cy="153.3" rx="2.1" ry="1.9" fill="#231e4a" fill-opacity="0.38"/><ellipse cx="2699.6" cy="167.6" rx="2.2" ry="1.9" fill="#231e4a" fill-opacity="0.40"/><ellipse cx="2692.8" cy="182.6" rx="2.3" ry="2.0" fill="#231e4a" fill-opacity="0.43"/><ellipse cx="2685.6" cy="198.4" rx="2.4" ry="2.1" fill="#231e4a" fill-opacity="0.46"/><ellipse cx="2678.1" cy="215.1" rx="2.5" ry="2.2" fill="#231e4a" fill-opacity="0.48"/><ellipse cx="2670.1" cy="232.6" rx="2.6" ry="2.2" fill="#231e4a" fill-opacity="0.51"/><ellipse cx="2661.7" cy="251.1" rx="2.7" ry="2.3" fill="#231e4a" fill-opacity="0.55"/><ellipse cx="2652.8" cy="270.7" rx="2.8" ry="2.4" fill="#231e4a" fill-opacity="0.58"/><ellipse cx="2643.4" cy="291.5" rx="2.9" ry="2.6" fill="#231e4a" fill-opacity="0.62"/><ellipse cx="2633.4" cy="313.5" rx="3.1" ry="2.7" fill="#231e4a" fill-opacity="0.66"/><ellipse cx="2622.8" cy="336.9" rx="3.2" ry="2.8" fill="#231e4a" fill-opacity="0.70"/><ellipse cx="2611.5" cy="361.8" rx="3.4" ry="2.9" fill="#231e4a" fill-opacity="0.75"/><ellipse cx="2599.4" cy="388.4" rx="3.5" ry="3.1" fill="#231e4a" fill-opacity="0.80"/><ellipse cx="2586.5" cy="416.9" rx="3.7" ry="3.3" fill="#231e4a" fill-opacity="0.85"/><ellipse cx="2572.6" cy="447.4" rx="3.9" ry="3.4" fill="#231e4a" fill-opacity="0.91"/><ellipse cx="2557.7" cy="480.2" rx="4.1" ry="3.6" fill="#231e4a" fill-opacity="0.98"/><ellipse cx="2541.7" cy="515.6" rx="4.4" ry="3.8" fill="#231e4a" fill-opacity="1.00"/><ellipse cx="2524.3" cy="553.8" rx="4.6" ry="4.1" fill="#231e4a" fill-opacity="1.00"/><ellipse cx="2505.5" cy="595.2" rx="4.9" ry="4.3" fill="#231e4a" fill-opacity="1.00"/><ellipse cx="2485.1" cy="640.3" rx="5.3" ry="4.6" fill="#231e4a" fill-opacity="1.00"/><ellipse cx="2462.7" cy="689.6" rx="5.6" ry="4.9" fill="#231e4a" fill-opacity="1.00"/><ellipse cx="2438.2" cy="743.6" rx="6.1" ry="5.3" fill="#231e4a" fill-opacity="1.00"/><ellipse cx="2411.2" cy="803.1" rx="6.5" ry="5.7" fill="#231e4a" fill-opacity="1.00"/><ellipse cx="2766.2" cy="95.8" rx="1.8" ry="1.6" fill="#231e4a" fill-opacity="0.29"/><ellipse cx="2761.7" cy="107.4" rx="1.9" ry="1.6" fill="#231e4a" fill-opacity="0.31"/><ellipse cx="2757.0" cy="119.6" rx="1.9" ry="1.7" fill="#231e4a" fill-opacity="0.33"/><ellipse cx="2752.0" cy="132.3" rx="2.0" ry="1.8" fill="#231e4a" fill-opacity="0.35"/><ellipse cx="2746.9" cy="145.6" rx="2.1" ry="1.8" fill="#231e4a" fill-opacity="0.37"/><ellipse cx="2741.4" cy="159.5" rx="2.2" ry="1.9" fill="#231e4a" fill-opacity="0.39"/><ellipse cx="2735.7" cy="174.2" rx="2.2" ry="2.0" fill="#231e4a" fill-opacity="0.42"/><ellipse cx="2729.8" cy="189.6" rx="2.3" ry="2.0" fill="#231e4a" fill-opacity="0.44"/><ellipse cx="2723.5" cy="205.8" rx="2.4" ry="2.1" fill="#231e4a" fill-opacity="0.47"/><ellipse cx="2716.8" cy="222.9" rx="2.5" ry="2.2" fill="#231e4a" fill-opacity="0.50"/><ellipse cx="2709.8" cy="240.9" rx="2.6" ry="2.3" fill="#231e4a" fill-opacity="0.53"/><ellipse cx="2702.4" cy="260.0" rx="2.7" ry="2.4" fill="#231e4a" fill-opacity="0.56"/><ellipse cx="2694.6" cy="280.1" rx="2.9" ry="2.5" fill="#231e4a" fill-opacity="0.60"/><ellipse cx="2686.2" cy="301.5" rx="3.0" ry="2.6" fill="#231e4a" fill-opacity="0.64"/><ellipse cx="2677.4" cy="324.2" rx="3.1" ry="2.7" fill="#231e4a" fill-opacity="0.68"/><ellipse cx="2668.0" cy="348.4" rx="3.3" ry="2.9" fill="#231e4a" fill-opacity="0.73"/><ellipse cx="2658.0" cy="374.1" rx="3.4" ry="3.0" fill="#231e4a" fill-opacity="0.78"/><ellipse cx="2647.3" cy="401.7" rx="3.6" ry="3.2" fill="#231e4a" fill-opacity="0.83"/><ellipse cx="2635.8" cy="431.2" rx="3.8" ry="3.3" fill="#231e4a" fill-opacity="0.89"/><ellipse cx="2623.5" cy="462.8" rx="4.0" ry="3.5" fill="#231e4a" fill-opacity="0.95"/><ellipse cx="2610.2" cy="496.9" rx="4.3" ry="3.7" fill="#231e4a" fill-opacity="1.00"/><ellipse cx="2595.9" cy="533.7" rx="4.5" ry="4.0" fill="#231e4a" fill-opacity="1.00"/><ellipse cx="2580.4" cy="573.5" rx="4.8" ry="4.2" fill="#231e4a" fill-opacity="1.00"/><ellipse cx="2563.6" cy="616.8" rx="5.1" ry="4.5" fill="#231e4a" fill-opacity="1.00"/><ellipse cx="2545.2" cy="664.0" rx="5.5" ry="4.8" fill="#231e4a" fill-opacity="1.00"/><ellipse cx="2525.2" cy="715.6" rx="5.9" ry="5.1" fill="#231e4a" fill-opacity="1.00"/><ellipse cx="2503.1" cy="772.4" rx="6.3" ry="5.5" fill="#231e4a" fill-opacity="1.00"/><ellipse cx="2767.8" cy="196.8" rx="2.4" ry="2.1" fill="#231e4a" fill-opacity="0.46"/><ellipse cx="2762.4" cy="213.4" rx="2.5" ry="2.2" fill="#231e4a" fill-opacity="0.49"/><ellipse cx="2756.7" cy="230.9" rx="2.6" ry="2.3" fill="#231e4a" fill-opacity="0.52"/><ellipse cx="2750.7" cy="249.5" rx="2.7" ry="2.4" fill="#231e4a" fill-opacity="0.55"/><ellipse cx="2744.4" cy="269.1" rx="2.8" ry="2.5" fill="#231e4a" fill-opacity="0.58"/><ellipse cx="2737.6" cy="289.8" rx="2.9" ry="2.6" fill="#231e4a" fill-opacity="0.62"/><ellipse cx="2730.5" cy="311.9" rx="3.1" ry="2.7" fill="#231e4a" fill-opacity="0.66"/><ellipse cx="2722.9" cy="335.3" rx="3.2" ry="2.8" fill="#231e4a" fill-opacity="0.71"/><ellipse cx="2714.8" cy="360.3" rx="3.4" ry="3.0" fill="#231e4a" fill-opacity="0.75"/><ellipse cx="2706.2" cy="386.9" rx="3.5" ry="3.1" fill="#231e4a" fill-opacity="0.80"/><ellipse cx="2697.0" cy="415.4" rx="3.7" ry="3.3" fill="#231e4a" fill-opacity="0.86"/><ellipse cx="2687.1" cy="446.0" rx="3.9" ry="3.4" fill="#231e4a" fill-opacity="0.92"/><ellipse cx="2676.4" cy="478.9" rx="4.2" ry="3.6" fill="#231e4a" fill-opacity="0.99"/><ellipse cx="2665.0" cy="514.3" rx="4.4" ry="3.9" fill="#231e4a" fill-opacity="1.00"/><ellipse cx="2652.6" cy="552.6" rx="4.7" ry="4.1" fill="#231e4a" fill-opacity="1.00"/><ellipse cx="2639.1" cy="594.2" rx="5.0" ry="4.4" fill="#231e4a" fill-opacity="1.00"/><ellipse cx="2624.5" cy="639.4" rx="5.3" ry="4.7" fill="#231e4a" fill-opacity="1.00"/><ellipse cx="2608.5" cy="688.9" rx="5.7" ry="5.0" fill="#231e4a" fill-opacity="1.00"/><ellipse cx="2590.9" cy="743.1" rx="6.1" ry="5.3" fill="#231e4a" fill-opacity="1.00"/><ellipse cx="2571.6" cy="802.8" rx="6.6" ry="5.8" fill="#231e4a" fill-opacity="1.00"/><ellipse cx="2763.4" cy="372.6" rx="3.5" ry="3.0" fill="#231e4a" fill-opacity="0.78"/><ellipse cx="2756.3" cy="400.2" rx="3.6" ry="3.2" fill="#231e4a" fill-opacity="0.83"/><ellipse cx="2748.6" cy="429.7" rx="3.8" ry="3.4" fill="#231e4a" fill-opacity="0.89"/><ellipse cx="2740.5" cy="461.4" rx="4.1" ry="3.6" fill="#231e4a" fill-opacity="0.96"/><ellipse cx="2731.6" cy="495.6" rx="4.3" ry="3.8" fill="#231e4a" fill-opacity="1.00"/><ellipse cx="2722.1" cy="532.5" rx="4.5" ry="4.0" fill="#231e4a" fill-opacity="1.00"/><ellipse cx="2711.8" cy="572.4" rx="4.8" ry="4.2" fill="#231e4a" fill-opacity="1.00"/><ellipse cx="2700.6" cy="615.8" rx="5.2" ry="4.5" fill="#231e4a" fill-opacity="1.00"/><ellipse cx="2688.4" cy="663.2" rx="5.5" ry="4.8" fill="#231e4a" fill-opacity="1.00"/><ellipse cx="2675.0" cy="715.0" rx="5.9" ry="5.2" fill="#231e4a" fill-opacity="1.00"/><ellipse cx="2660.3" cy="772.0" rx="6.4" ry="5.6" fill="#231e4a" fill-opacity="1.00"/><ellipse cx="2765.1" cy="638.5" rx="5.3" ry="4.7" fill="#231e4a" fill-opacity="1.00"/><ellipse cx="2755.5" cy="688.1" rx="5.7" ry="5.0" fill="#231e4a" fill-opacity="1.00"/><ellipse cx="2745.1" cy="742.6" rx="6.1" ry="5.4" fill="#231e4a" fill-opacity="1.00"/><ellipse cx="2733.5" cy="802.6" rx="6.6" ry="5.8" fill="#231e4a" fill-opacity="1.00"/></g>
<polygon points="2230,423 2580,31 2600,45 2615,120 2612,260 2575,345 2530,390 2478,425 2470,520 2452,600 2400,645 2330,682 2300,712 2290,735 2262,740 2262,430" fill="#4a4575"/>
<polygon points="2405,224 2488,190 2488,381 2440,400 2405,380" fill="#7e78ac"/>
<polygon points="2296,418 2405,340 2445,364 2333,450" fill="#a29ece"/>
<polygon points="2480,150 2570,100 2605,110 2600,160 2505,190" fill="#2e2a4e"/>
<ellipse cx="2410" cy="497" rx="60" ry="133" transform="rotate(10 2410 497)" fill="#6e68a0"/>
<ellipse cx="2412" cy="500" rx="52" ry="122" transform="rotate(10 2412 500)" fill="#3a3468"/>
<ellipse cx="2420" cy="505" rx="36" ry="90" transform="rotate(10 2420 505)" fill="#5a548e"/>
<ellipse cx="2424" cy="508" rx="14" ry="40" transform="rotate(10 2424 508)" fill="#3a3466"/>
<g stroke="#b0acdc" stroke-width="4" opacity="0.75"><line x1="2418" y1="455" x2="2438" y2="470"/><line x1="2424" y1="482" x2="2444" y2="497"/><line x1="2420" y1="525" x2="2440" y2="540"/></g>
<polygon points="2262,427 2404,326 2446,358 2314,453" fill="#8e8aba"/>
<polygon points="2317,453 2436,358 2448,372 2405,445 2360,527 2320,527" fill="#1e1c26"/>
<polygon points="2320,527 2360,527 2388,545 2386,598 2322,598" fill="#2c2854"/>
<ellipse cx="2560" cy="252" rx="47" ry="102" transform="rotate(12 2560 252)" fill="#3c3668"/>
<ellipse cx="2566" cy="258" rx="32" ry="76" transform="rotate(12 2566 258)" fill="#57518a"/>
<polygon points="2500,182 2578,150 2590,166 2555,290 2520,372 2500,372" fill="#18161c"/>
<polygon points="2470,206 2506,196 2508,374 2474,378" fill="#26241e"/>
<polygon points="2228,428 2579,31 2600,48 2262,446" fill="#55544f"/>
<polygon points="2420,188 2470,130 2492,146 2440,205" fill="#c4b43c"/>
<polygon points="2540,60 2570,30 2585,38 2556,70" fill="#c8a840"/>
<polygon points="2262,442 2600,48 2606,56 2266,450" fill="#2c2b2a"/>
<polygon points="1992,352 2443,15 2580,31 2228,428" fill="#a7a3cd"/>
<polygon points="2252,150 2443,16 2578,31 2300,336 2262,310" fill="#c6c5cc" filter="url(#bl10)"/>
<ellipse cx="2350" cy="243" rx="85" ry="36" transform="rotate(-47 2350 243)" fill="#f5f5f7" filter="url(#bl10)"/>
<line x1="1992" y1="352" x2="2228" y2="428" stroke="#d4d2f2" stroke-width="3"/>
<line x1="2228" y1="428" x2="2579" y2="31" stroke="#e6e6ee" stroke-width="2.5"/>
<clipPath id="facec"><polygon points="1992,352 2228,428 2262,432 2270,745 2290,800 2258,802 2221,782 2181,752 2147,711 2117,671 2087,594 2045,500"/></clipPath><g clip-path="url(#facec)"><polygon points="1992,352 2228,428 2262,432 2270,745 2290,800 2258,802 2221,782 2181,752 2147,711 2117,671 2087,594 2045,500" fill="url(#frontg)"/>
<polygon points="2165,490 2215,440 2250,440 2252,660 2240,650 2205,560" fill="#7a74a4" filter="url(#bl10)"/>
<polygon points="1980,340 2040,360 2070,470 2110,600 2140,700 2080,700 2030,500" fill="#585082" filter="url(#bl10)"/>
</g>
<polygon points="2143,447 2188,447 2188,434 2226,434 2228,493 2208,493 2206,472 2143,470" fill="#8a8a3c"/>
<ellipse cx="2193" cy="677" rx="46" ry="28" transform="rotate(33 2193 677)" fill="#4c4680" stroke="#9a96d0" stroke-width="2.5"/>
<ellipse cx="2196" cy="681" rx="30" ry="17" transform="rotate(33 2196 681)" fill="#3a3470"/>
<circle cx="2199" cy="692" r="6" fill="#6a64dc"/>
<polygon points="2228,428 2298,424 2304,600 2300,670 2285,736 2256,738 2252,545 2230,530" fill="#2b2a26"/>
<circle cx="2271" cy="494" r="19" fill="#1e1c1e" stroke="#8e2a3a" stroke-width="8"/><path d="M2271,475 A19,19 0 0 1 2271,513" fill="none" stroke="#2a2426" stroke-width="8"/>
<circle cx="2274" cy="495" r="5" fill="#6e6e6e"/>
<path d="M2318,628 C2360,632 2392,640 2388,662 C2384,690 2330,692 2306,676" fill="none" stroke="#141414" stroke-width="6"/>
<path d="M2462,382 C2488,398 2530,385 2548,352" fill="none" stroke="#141414" stroke-width="5"/>
</g>
</svg></body></html>
